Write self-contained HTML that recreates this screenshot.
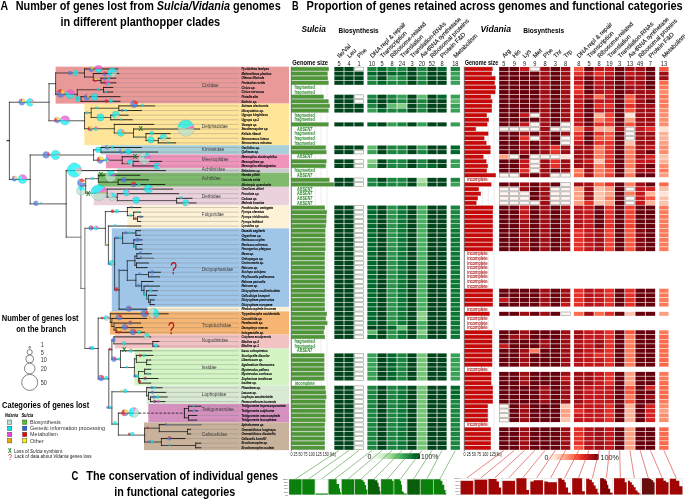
<!DOCTYPE html><html><head><meta charset="utf-8"><title>Figure</title>
<style>html,body{margin:0;padding:0;background:#fff;}svg{display:block;will-change:transform;}text{font-family:"Liberation Sans",sans-serif;}</style></head><body>
<svg width="685" height="500" viewBox="0 0 685 500">
<rect x="0" y="0" width="685" height="500" fill="#fff"/>
<g>
<text x="0.5" y="10.4" font-size="12.4" font-weight="bold" font-style="normal" fill="#000" text-anchor="start" textLength="7.6" lengthAdjust="spacingAndGlyphs" >A</text>
<text x="15.7" y="10.4" font-size="12.4" font-weight="bold" textLength="265" lengthAdjust="spacingAndGlyphs">Number of genes lost from <tspan font-style="italic">Sulcia/Vidania</tspan> genomes</text>
<text x="60.5" y="25.6" font-size="12.4" font-weight="bold" font-style="normal" fill="#000" text-anchor="start" textLength="159.7" lengthAdjust="spacingAndGlyphs" >in different planthopper clades</text>
<text x="292" y="10.1" font-size="12.4" font-weight="bold" font-style="normal" fill="#000" text-anchor="start" textLength="6.6" lengthAdjust="spacingAndGlyphs" >B</text>
<text x="306.6" y="10.1" font-size="12.4" font-weight="bold" font-style="normal" fill="#000" text-anchor="start" textLength="376.1" lengthAdjust="spacingAndGlyphs" >Proportion of genes retained across genomes and functional categories</text>
<text x="71.6" y="479.5" font-size="12.4" font-weight="bold" font-style="normal" fill="#000" text-anchor="start" textLength="6.8" lengthAdjust="spacingAndGlyphs" >C</text>
<text x="86.3" y="479.5" font-size="12.4" font-weight="bold" font-style="normal" fill="#000" text-anchor="start" textLength="191.7" lengthAdjust="spacingAndGlyphs" >The conservation of individual genes</text>
<text x="114.3" y="496.3" font-size="12.4" font-weight="bold" font-style="normal" fill="#000" text-anchor="start" textLength="120.9" lengthAdjust="spacingAndGlyphs" >in functional categories</text>
<rect x="55.6" y="66.65" width="233.4" height="36.96" fill="#ea9999"/>
<rect x="84.4" y="103.61" width="204.6" height="41.58" fill="#ffe599"/>
<rect x="101" y="145.19" width="188" height="9.24" fill="#a9d0d8"/>
<rect x="106" y="154.43" width="183" height="13.86" fill="#f094bb"/>
<rect x="117.3" y="168.29" width="171.7" height="4.62" fill="#cccccc"/>
<rect x="98.3" y="172.91" width="190.7" height="13.86" fill="#7dba6b"/>
<rect x="93.8" y="186.77" width="195.2" height="18.48" fill="#ead1dc"/>
<rect x="127.5" y="205.25" width="161.5" height="23.1" fill="#fdf2d6"/>
<rect x="111.8" y="228.35" width="177.2" height="78.54" fill="#9fc5e8"/>
<rect x="111.8" y="306.89" width="177.2" height="4.62" fill="#9fc5e8"/>
<rect x="147.1" y="306.89" width="141.9" height="4.62" fill="#fdf2d6"/>
<rect x="109.9" y="311.51" width="179.1" height="23.1" fill="#f6b572"/>
<rect x="114.6" y="334.61" width="174.4" height="13.86" fill="#f3c3c3"/>
<rect x="134.4" y="348.47" width="154.6" height="36.96" fill="#d3f5c3"/>
<rect x="146.6" y="385.43" width="142.4" height="18.48" fill="#d9ead3"/>
<rect x="148.3" y="403.91" width="140.7" height="18.48" fill="#d490be"/>
<rect x="144" y="422.39" width="145" height="27.72" fill="#c9b29c"/>
<g id="TIPGUIDES"></g>
<text x="201.8" y="87.3" font-size="6.1" font-weight="normal" font-style="normal" fill="#383838" text-anchor="start" textLength="16.71" lengthAdjust="spacingAndGlyphs" >Cixiidae</text>
<text x="201.8" y="128.1" font-size="6.1" font-weight="normal" font-style="normal" fill="#383838" text-anchor="start" textLength="26.11" lengthAdjust="spacingAndGlyphs" >Delphacidae</text>
<text x="201.8" y="150.7" font-size="6.1" font-weight="normal" font-style="normal" fill="#383838" text-anchor="start" textLength="22.46" lengthAdjust="spacingAndGlyphs" >Kinnaridae</text>
<text x="201.8" y="161.1" font-size="6.1" font-weight="normal" font-style="normal" fill="#383838" text-anchor="start" textLength="26.9" lengthAdjust="spacingAndGlyphs" >Meenoplidae</text>
<text x="201.8" y="171.1" font-size="6.1" font-weight="normal" font-style="normal" fill="#383838" text-anchor="start" textLength="23.5" lengthAdjust="spacingAndGlyphs" >Achilixiidae</text>
<text x="201.8" y="180.3" font-size="6.1" font-weight="normal" font-style="normal" fill="#383838" text-anchor="start" textLength="19.06" lengthAdjust="spacingAndGlyphs" >Achilidae</text>
<text x="201.8" y="198.1" font-size="6.1" font-weight="normal" font-style="normal" fill="#383838" text-anchor="start" textLength="19.06" lengthAdjust="spacingAndGlyphs" >Derbidae</text>
<text x="201.8" y="216.3" font-size="6.1" font-weight="normal" font-style="normal" fill="#383838" text-anchor="start" textLength="22.19" lengthAdjust="spacingAndGlyphs" >Fulgoridae</text>
<text x="201.8" y="271.1" font-size="6.1" font-weight="normal" font-style="normal" fill="#383838" text-anchor="start" textLength="31.33" lengthAdjust="spacingAndGlyphs" >Dictyopharidae</text>
<text x="201.8" y="327.1" font-size="6.1" font-weight="normal" font-style="normal" fill="#383838" text-anchor="start" textLength="29.59" lengthAdjust="spacingAndGlyphs" >Tropiduchidae</text>
<text x="201.8" y="342.3" font-size="6.1" font-weight="normal" font-style="normal" fill="#383838" text-anchor="start" textLength="26.38" lengthAdjust="spacingAndGlyphs" >Nogodinidae</text>
<text x="201.8" y="369.1" font-size="6.1" font-weight="normal" font-style="normal" fill="#383838" text-anchor="start" textLength="14.88" lengthAdjust="spacingAndGlyphs" >Issidae</text>
<text x="201.8" y="395.9" font-size="6.1" font-weight="normal" font-style="normal" fill="#383838" text-anchor="start" textLength="24.55" lengthAdjust="spacingAndGlyphs" >Lophopidae</text>
<text x="201.8" y="411.1" font-size="6.1" font-weight="normal" font-style="normal" fill="#383838" text-anchor="start" textLength="32.11" lengthAdjust="spacingAndGlyphs" >Tettigometridae</text>
<text x="201.8" y="435.9" font-size="6.1" font-weight="normal" font-style="normal" fill="#383838" text-anchor="start" textLength="25.33" lengthAdjust="spacingAndGlyphs" >Caliscelidae</text>
<text x="241.4" y="70.21" font-size="3.7" font-weight="bold" font-style="italic" fill="#111" text-anchor="start" textLength="27.64" lengthAdjust="spacingAndGlyphs" stroke="#111" stroke-width="0.1">Pyxidothes lamipes</text>
<text x="241.4" y="74.83" font-size="3.7" font-weight="bold" font-style="italic" fill="#111" text-anchor="start" textLength="30.1" lengthAdjust="spacingAndGlyphs" stroke="#111" stroke-width="0.1">Melanoliarus placitus</text>
<text x="241.4" y="79.45" font-size="3.7" font-weight="bold" font-style="italic" fill="#111" text-anchor="start" textLength="22.87" lengthAdjust="spacingAndGlyphs" stroke="#111" stroke-width="0.1">Oliarus filicicola</text>
<text x="241.4" y="84.07" font-size="3.7" font-weight="bold" font-style="italic" fill="#111" text-anchor="start" textLength="23.52" lengthAdjust="spacingAndGlyphs" stroke="#111" stroke-width="0.1">Pentastira rorida</text>
<text x="241.4" y="88.69" font-size="3.7" font-weight="bold" font-style="italic" fill="#111" text-anchor="start" textLength="13.98" lengthAdjust="spacingAndGlyphs" stroke="#111" stroke-width="0.1">Cixius sp.</text>
<text x="241.4" y="93.31" font-size="3.7" font-weight="bold" font-style="italic" fill="#111" text-anchor="start" textLength="22.87" lengthAdjust="spacingAndGlyphs" stroke="#111" stroke-width="0.1">Cixius nervosus</text>
<text x="241.4" y="97.93" font-size="3.7" font-weight="bold" font-style="italic" fill="#111" text-anchor="start" textLength="16.45" lengthAdjust="spacingAndGlyphs" stroke="#111" stroke-width="0.1">Pintalia alta</text>
<text x="241.4" y="102.55" font-size="3.7" font-weight="bold" font-style="italic" fill="#111" text-anchor="start" textLength="15.62" lengthAdjust="spacingAndGlyphs" stroke="#111" stroke-width="0.1">Bothrio sp.</text>
<text x="241.4" y="107.17" font-size="3.7" font-weight="bold" font-style="italic" fill="#111" text-anchor="start" textLength="26.99" lengthAdjust="spacingAndGlyphs" stroke="#111" stroke-width="0.1">Asiraca clavicornis</text>
<text x="241.4" y="111.79" font-size="3.7" font-weight="bold" font-style="italic" fill="#111" text-anchor="start" textLength="22.37" lengthAdjust="spacingAndGlyphs" stroke="#111" stroke-width="0.1">Idiosystatus sp.</text>
<text x="241.4" y="116.41" font-size="3.7" font-weight="bold" font-style="italic" fill="#111" text-anchor="start" textLength="26.48" lengthAdjust="spacingAndGlyphs" stroke="#111" stroke-width="0.1">Ugyops kinghtisos</text>
<text x="241.4" y="121.03" font-size="3.7" font-weight="bold" font-style="italic" fill="#111" text-anchor="start" textLength="17.6" lengthAdjust="spacingAndGlyphs" stroke="#111" stroke-width="0.1">Ugyops sp.1</text>
<text x="241.4" y="125.65" font-size="3.7" font-weight="bold" font-style="italic" fill="#111" text-anchor="start" textLength="15.85" lengthAdjust="spacingAndGlyphs" stroke="#111" stroke-width="0.1">Vizcaya sp.</text>
<text x="241.4" y="130.27" font-size="3.7" font-weight="bold" font-style="italic" fill="#111" text-anchor="start" textLength="26.98" lengthAdjust="spacingAndGlyphs" stroke="#111" stroke-width="0.1">Saccharosydne sp.</text>
<text x="241.4" y="134.89" font-size="3.7" font-weight="bold" font-style="italic" fill="#111" text-anchor="start" textLength="19.41" lengthAdjust="spacingAndGlyphs" stroke="#111" stroke-width="0.1">Kelisia ribauti</text>
<text x="241.4" y="139.51" font-size="3.7" font-weight="bold" font-style="italic" fill="#111" text-anchor="start" textLength="27.47" lengthAdjust="spacingAndGlyphs" stroke="#111" stroke-width="0.1">Stenocranus luteus</text>
<text x="241.4" y="144.13" font-size="3.7" font-weight="bold" font-style="italic" fill="#111" text-anchor="start" textLength="30.26" lengthAdjust="spacingAndGlyphs" stroke="#111" stroke-width="0.1">Stenocranus minutus</text>
<text x="241.4" y="148.75" font-size="3.7" font-weight="bold" font-style="italic" fill="#111" text-anchor="start" textLength="18.42" lengthAdjust="spacingAndGlyphs" stroke="#111" stroke-width="0.1">Oeclidius sp.</text>
<text x="241.4" y="153.37" font-size="3.7" font-weight="bold" font-style="italic" fill="#111" text-anchor="start" textLength="17.44" lengthAdjust="spacingAndGlyphs" stroke="#111" stroke-width="0.1">Quilessa sp.</text>
<text x="241.4" y="157.99" font-size="3.7" font-weight="bold" font-style="italic" fill="#111" text-anchor="start" textLength="35.52" lengthAdjust="spacingAndGlyphs" stroke="#111" stroke-width="0.1">Meenoplus skotinophilus</text>
<text x="241.4" y="162.61" font-size="3.7" font-weight="bold" font-style="italic" fill="#111" text-anchor="start" textLength="23.03" lengthAdjust="spacingAndGlyphs" stroke="#111" stroke-width="0.1">Meenoplinae sp.</text>
<text x="241.4" y="167.23" font-size="3.7" font-weight="bold" font-style="italic" fill="#111" text-anchor="start" textLength="34.54" lengthAdjust="spacingAndGlyphs" stroke="#111" stroke-width="0.1">Meenoplus albosignatus</text>
<text x="241.4" y="171.85" font-size="3.7" font-weight="bold" font-style="italic" fill="#111" text-anchor="start" textLength="19.25" lengthAdjust="spacingAndGlyphs" stroke="#111" stroke-width="0.1">Bebaiotes sp.</text>
<text x="241.4" y="176.47" font-size="3.7" font-weight="bold" font-style="italic" fill="#111" text-anchor="start" textLength="18.42" lengthAdjust="spacingAndGlyphs" stroke="#111" stroke-width="0.1">Hamba pildei</text>
<text x="241.4" y="181.09" font-size="3.7" font-weight="bold" font-style="italic" fill="#111" text-anchor="start" textLength="18.75" lengthAdjust="spacingAndGlyphs" stroke="#111" stroke-width="0.1">Catonia arida</text>
<text x="241.4" y="185.71" font-size="3.7" font-weight="bold" font-style="italic" fill="#111" text-anchor="start" textLength="29.44" lengthAdjust="spacingAndGlyphs" stroke="#111" stroke-width="0.1">Akotropis quercicola</text>
<text x="241.4" y="190.33" font-size="3.7" font-weight="bold" font-style="italic" fill="#111" text-anchor="start" textLength="22.37" lengthAdjust="spacingAndGlyphs" stroke="#111" stroke-width="0.1">Omolicna uhleri</text>
<text x="241.4" y="194.95" font-size="3.7" font-weight="bold" font-style="italic" fill="#111" text-anchor="start" textLength="17.93" lengthAdjust="spacingAndGlyphs" stroke="#111" stroke-width="0.1">Proutista sp.</text>
<text x="241.4" y="199.57" font-size="3.7" font-weight="bold" font-style="italic" fill="#111" text-anchor="start" textLength="15.79" lengthAdjust="spacingAndGlyphs" stroke="#111" stroke-width="0.1">Cedusa sp.</text>
<text x="241.4" y="204.19" font-size="3.7" font-weight="bold" font-style="italic" fill="#111" text-anchor="start" textLength="22.87" lengthAdjust="spacingAndGlyphs" stroke="#111" stroke-width="0.1">Malenia bosnica</text>
<text x="241.4" y="208.81" font-size="3.7" font-weight="bold" font-style="italic" fill="#111" text-anchor="start" textLength="31.42" lengthAdjust="spacingAndGlyphs" stroke="#111" stroke-width="0.1">Penthicodes variegata</text>
<text x="241.4" y="213.43" font-size="3.7" font-weight="bold" font-style="italic" fill="#111" text-anchor="start" textLength="22.71" lengthAdjust="spacingAndGlyphs" stroke="#111" stroke-width="0.1">Pyrops clavatus</text>
<text x="241.4" y="218.05" font-size="3.7" font-weight="bold" font-style="italic" fill="#111" text-anchor="start" textLength="27.14" lengthAdjust="spacingAndGlyphs" stroke="#111" stroke-width="0.1">Pyrops viridirostris</text>
<text x="241.4" y="222.67" font-size="3.7" font-weight="bold" font-style="italic" fill="#111" text-anchor="start" textLength="21.71" lengthAdjust="spacingAndGlyphs" stroke="#111" stroke-width="0.1">Pyrops lathburi</text>
<text x="241.4" y="227.29" font-size="3.7" font-weight="bold" font-style="italic" fill="#111" text-anchor="start" textLength="17.93" lengthAdjust="spacingAndGlyphs" stroke="#111" stroke-width="0.1">Lyncides sp.</text>
<text x="241.4" y="231.91" font-size="3.7" font-weight="bold" font-style="italic" fill="#111" text-anchor="start" textLength="23.53" lengthAdjust="spacingAndGlyphs" stroke="#111" stroke-width="0.1">Dasada sagitaria</text>
<text x="241.4" y="236.53" font-size="3.7" font-weight="bold" font-style="italic" fill="#111" text-anchor="start" textLength="19.9" lengthAdjust="spacingAndGlyphs" stroke="#111" stroke-width="0.1">Orgeriinae sp.</text>
<text x="241.4" y="241.15" font-size="3.7" font-weight="bold" font-style="italic" fill="#111" text-anchor="start" textLength="23.36" lengthAdjust="spacingAndGlyphs" stroke="#111" stroke-width="0.1">Ranissus scytha</text>
<text x="241.4" y="245.77" font-size="3.7" font-weight="bold" font-style="italic" fill="#111" text-anchor="start" textLength="26.32" lengthAdjust="spacingAndGlyphs" stroke="#111" stroke-width="0.1">Ranissus edirneus</text>
<text x="241.4" y="250.39" font-size="3.7" font-weight="bold" font-style="italic" fill="#111" text-anchor="start" textLength="29.61" lengthAdjust="spacingAndGlyphs" stroke="#111" stroke-width="0.1">Parorgerius platypus</text>
<text x="241.4" y="255.01" font-size="3.7" font-weight="bold" font-style="italic" fill="#111" text-anchor="start" textLength="12.5" lengthAdjust="spacingAndGlyphs" stroke="#111" stroke-width="0.1">Mesa sp.</text>
<text x="241.4" y="259.63" font-size="3.7" font-weight="bold" font-style="italic" fill="#111" text-anchor="start" textLength="21.87" lengthAdjust="spacingAndGlyphs" stroke="#111" stroke-width="0.1">Orthopagus sp.</text>
<text x="241.4" y="264.25" font-size="3.7" font-weight="bold" font-style="italic" fill="#111" text-anchor="start" textLength="22.54" lengthAdjust="spacingAndGlyphs" stroke="#111" stroke-width="0.1">Centromeria sp.</text>
<text x="241.4" y="268.87" font-size="3.7" font-weight="bold" font-style="italic" fill="#111" text-anchor="start" textLength="16.61" lengthAdjust="spacingAndGlyphs" stroke="#111" stroke-width="0.1">Raivuna sp.</text>
<text x="241.4" y="273.49" font-size="3.7" font-weight="bold" font-style="italic" fill="#111" text-anchor="start" textLength="24.18" lengthAdjust="spacingAndGlyphs" stroke="#111" stroke-width="0.1">Scolops sulcipes</text>
<text x="241.4" y="278.11" font-size="3.7" font-weight="bold" font-style="italic" fill="#111" text-anchor="start" textLength="33.07" lengthAdjust="spacingAndGlyphs" stroke="#111" stroke-width="0.1">Phylloscelis pallescens</text>
<text x="241.4" y="282.73" font-size="3.7" font-weight="bold" font-style="italic" fill="#111" text-anchor="start" textLength="24.01" lengthAdjust="spacingAndGlyphs" stroke="#111" stroke-width="0.1">Rahona patruelis</text>
<text x="241.4" y="287.35" font-size="3.7" font-weight="bold" font-style="italic" fill="#111" text-anchor="start" textLength="16.61" lengthAdjust="spacingAndGlyphs" stroke="#111" stroke-width="0.1">Raivuna sp.</text>
<text x="241.4" y="291.97" font-size="3.7" font-weight="bold" font-style="italic" fill="#111" text-anchor="start" textLength="38.16" lengthAdjust="spacingAndGlyphs" stroke="#111" stroke-width="0.1">Dictyophara multireticulata</text>
<text x="241.4" y="296.59" font-size="3.7" font-weight="bold" font-style="italic" fill="#111" text-anchor="start" textLength="28.3" lengthAdjust="spacingAndGlyphs" stroke="#111" stroke-width="0.1">Callodictya krueperi</text>
<text x="241.4" y="301.21" font-size="3.7" font-weight="bold" font-style="italic" fill="#111" text-anchor="start" textLength="32.73" lengthAdjust="spacingAndGlyphs" stroke="#111" stroke-width="0.1">Dictyophara pannonica</text>
<text x="241.4" y="305.83" font-size="3.7" font-weight="bold" font-style="italic" fill="#111" text-anchor="start" textLength="31.09" lengthAdjust="spacingAndGlyphs" stroke="#111" stroke-width="0.1">Dictyophara europaea</text>
<text x="241.4" y="310.45" font-size="3.7" font-weight="bold" font-style="italic" fill="#111" text-anchor="start" textLength="34.54" lengthAdjust="spacingAndGlyphs" stroke="#111" stroke-width="0.1">Rhabdocephala brunnea</text>
<text x="241.4" y="315.07" font-size="3.7" font-weight="bold" font-style="italic" fill="#111" text-anchor="start" textLength="38.6" lengthAdjust="spacingAndGlyphs" stroke="#111" stroke-width="0.1">Trypetimorpha occidentalis</text>
<text x="241.4" y="319.69" font-size="3.7" font-weight="bold" font-style="italic" fill="#111" text-anchor="start" textLength="21.05" lengthAdjust="spacingAndGlyphs" stroke="#111" stroke-width="0.1">Connelicita sp.</text>
<text x="241.4" y="324.31" font-size="3.7" font-weight="bold" font-style="italic" fill="#111" text-anchor="start" textLength="21.72" lengthAdjust="spacingAndGlyphs" stroke="#111" stroke-width="0.1">Paralasonia sp.</text>
<text x="241.4" y="328.93" font-size="3.7" font-weight="bold" font-style="italic" fill="#111" text-anchor="start" textLength="26.32" lengthAdjust="spacingAndGlyphs" stroke="#111" stroke-width="0.1">Danepteryx manca</text>
<text x="241.4" y="333.55" font-size="3.7" font-weight="bold" font-style="italic" fill="#111" text-anchor="start" textLength="22.53" lengthAdjust="spacingAndGlyphs" stroke="#111" stroke-width="0.1">Indogaetulia sp.</text>
<text x="241.4" y="338.17" font-size="3.7" font-weight="bold" font-style="italic" fill="#111" text-anchor="start" textLength="29.77" lengthAdjust="spacingAndGlyphs" stroke="#111" stroke-width="0.1">Cotylana acutipennis</text>
<text x="241.4" y="342.79" font-size="3.7" font-weight="bold" font-style="italic" fill="#111" text-anchor="start" textLength="17.44" lengthAdjust="spacingAndGlyphs" stroke="#111" stroke-width="0.1">Bladina sp.2</text>
<text x="241.4" y="347.41" font-size="3.7" font-weight="bold" font-style="italic" fill="#111" text-anchor="start" textLength="17.44" lengthAdjust="spacingAndGlyphs" stroke="#111" stroke-width="0.1">Bladina sp.1</text>
<text x="241.4" y="352.03" font-size="3.7" font-weight="bold" font-style="italic" fill="#111" text-anchor="start" textLength="26.16" lengthAdjust="spacingAndGlyphs" stroke="#111" stroke-width="0.1">Issus coleoptratus</text>
<text x="241.4" y="356.65" font-size="3.7" font-weight="bold" font-style="italic" fill="#111" text-anchor="start" textLength="28.29" lengthAdjust="spacingAndGlyphs" stroke="#111" stroke-width="0.1">Scorlupella discolor</text>
<text x="241.4" y="361.27" font-size="3.7" font-weight="bold" font-style="italic" fill="#111" text-anchor="start" textLength="21.55" lengthAdjust="spacingAndGlyphs" stroke="#111" stroke-width="0.1">Libanissum sp.</text>
<text x="241.4" y="365.89" font-size="3.7" font-weight="bold" font-style="italic" fill="#111" text-anchor="start" textLength="32.9" lengthAdjust="spacingAndGlyphs" stroke="#111" stroke-width="0.1">Agalmatium flavescens</text>
<text x="241.4" y="370.51" font-size="3.7" font-weight="bold" font-style="italic" fill="#111" text-anchor="start" textLength="27.64" lengthAdjust="spacingAndGlyphs" stroke="#111" stroke-width="0.1">Mycterodus pallens</text>
<text x="241.4" y="375.13" font-size="3.7" font-weight="bold" font-style="italic" fill="#111" text-anchor="start" textLength="30.59" lengthAdjust="spacingAndGlyphs" stroke="#111" stroke-width="0.1">Mycterodus confusus</text>
<text x="241.4" y="379.75" font-size="3.7" font-weight="bold" font-style="italic" fill="#111" text-anchor="start" textLength="30.59" lengthAdjust="spacingAndGlyphs" stroke="#111" stroke-width="0.1">Zopherisca tendinosa</text>
<text x="241.4" y="384.37" font-size="3.7" font-weight="bold" font-style="italic" fill="#111" text-anchor="start" textLength="15.14" lengthAdjust="spacingAndGlyphs" stroke="#111" stroke-width="0.1">Issidae sp.</text>
<text x="241.4" y="388.99" font-size="3.7" font-weight="bold" font-style="italic" fill="#111" text-anchor="start" textLength="19.41" lengthAdjust="spacingAndGlyphs" stroke="#111" stroke-width="0.1">Pitambara sp.</text>
<text x="241.4" y="393.61" font-size="3.7" font-weight="bold" font-style="italic" fill="#111" text-anchor="start" textLength="15.3" lengthAdjust="spacingAndGlyphs" stroke="#111" stroke-width="0.1">Lacusa sp.</text>
<text x="241.4" y="398.23" font-size="3.7" font-weight="bold" font-style="italic" fill="#111" text-anchor="start" textLength="31.25" lengthAdjust="spacingAndGlyphs" stroke="#111" stroke-width="0.1">Lophops saccharicida</text>
<text x="241.4" y="402.85" font-size="3.7" font-weight="bold" font-style="italic" fill="#111" text-anchor="start" textLength="34.88" lengthAdjust="spacingAndGlyphs" stroke="#111" stroke-width="0.1">Paracorethrura iocnemis</text>
<text x="241.4" y="407.47" font-size="3.7" font-weight="bold" font-style="italic" fill="#111" text-anchor="start" textLength="44.14" lengthAdjust="spacingAndGlyphs" stroke="#111" stroke-width="0.1">Tettigometra impressopunctata</text>
<text x="241.4" y="412.09" font-size="3.7" font-weight="bold" font-style="italic" fill="#111" text-anchor="start" textLength="32.78" lengthAdjust="spacingAndGlyphs" stroke="#111" stroke-width="0.1">Tettigometra sulphurea</text>
<text x="241.4" y="416.71" font-size="3.7" font-weight="bold" font-style="italic" fill="#111" text-anchor="start" textLength="38.55" lengthAdjust="spacingAndGlyphs" stroke="#111" stroke-width="0.1">Tettigometra macrocephala</text>
<text x="241.4" y="421.33" font-size="3.7" font-weight="bold" font-style="italic" fill="#111" text-anchor="start" textLength="34.93" lengthAdjust="spacingAndGlyphs" stroke="#111" stroke-width="0.1">Tettigometra leucophaea</text>
<text x="241.4" y="425.95" font-size="3.7" font-weight="bold" font-style="italic" fill="#111" text-anchor="start" textLength="22.86" lengthAdjust="spacingAndGlyphs" stroke="#111" stroke-width="0.1">Aphelonema sp.</text>
<text x="241.4" y="430.57" font-size="3.7" font-weight="bold" font-style="italic" fill="#111" text-anchor="start" textLength="34.54" lengthAdjust="spacingAndGlyphs" stroke="#111" stroke-width="0.1">Ommatidiotus longiceps</text>
<text x="241.4" y="435.19" font-size="3.7" font-weight="bold" font-style="italic" fill="#111" text-anchor="start" textLength="34.21" lengthAdjust="spacingAndGlyphs" stroke="#111" stroke-width="0.1">Ommatidiotus dissimilis</text>
<text x="241.4" y="439.81" font-size="3.7" font-weight="bold" font-style="italic" fill="#111" text-anchor="start" textLength="24.84" lengthAdjust="spacingAndGlyphs" stroke="#111" stroke-width="0.1">Caliscelis bonellii</text>
<text x="241.4" y="444.43" font-size="3.7" font-weight="bold" font-style="italic" fill="#111" text-anchor="start" textLength="26.31" lengthAdjust="spacingAndGlyphs" stroke="#111" stroke-width="0.1">Bruchomorpha sp.</text>
<text x="241.4" y="449.05" font-size="3.7" font-weight="bold" font-style="italic" fill="#111" text-anchor="start" textLength="32.4" lengthAdjust="spacingAndGlyphs" stroke="#111" stroke-width="0.1">Bruchomorpha oculata</text>
<g stroke-linecap="square" fill="none">
<line x1="117.8" y1="68.96" x2="238.2" y2="68.96" stroke="#808080" stroke-width="0.36"/>
<line x1="118.8" y1="73.58" x2="238.2" y2="73.58" stroke="#808080" stroke-width="0.36"/>
<line x1="115.8" y1="78.2" x2="238.2" y2="78.2" stroke="#808080" stroke-width="0.36"/>
<line x1="115.8" y1="82.82" x2="238.2" y2="82.82" stroke="#808080" stroke-width="0.36"/>
<line x1="112.7" y1="87.44" x2="238.2" y2="87.44" stroke="#808080" stroke-width="0.36"/>
<line x1="112.7" y1="92.06" x2="238.2" y2="92.06" stroke="#808080" stroke-width="0.36"/>
<line x1="119.9" y1="96.68" x2="238.2" y2="96.68" stroke="#808080" stroke-width="0.36"/>
<line x1="119.9" y1="101.3" x2="238.2" y2="101.3" stroke="#808080" stroke-width="0.36"/>
<line x1="154.6" y1="105.92" x2="238.2" y2="105.92" stroke="#808080" stroke-width="0.36"/>
<line x1="141.3" y1="110.54" x2="238.2" y2="110.54" stroke="#808080" stroke-width="0.36"/>
<line x1="128" y1="115.16" x2="238.2" y2="115.16" stroke="#808080" stroke-width="0.36"/>
<line x1="132.1" y1="119.78" x2="238.2" y2="119.78" stroke="#808080" stroke-width="0.36"/>
<line x1="153.6" y1="124.4" x2="238.2" y2="124.4" stroke="#808080" stroke-width="0.36"/>
<line x1="199.6" y1="129.02" x2="238.2" y2="129.02" stroke="#808080" stroke-width="0.36"/>
<line x1="170" y1="133.64" x2="238.2" y2="133.64" stroke="#808080" stroke-width="0.36"/>
<line x1="170" y1="138.26" x2="238.2" y2="138.26" stroke="#808080" stroke-width="0.36"/>
<line x1="175.6" y1="142.88" x2="238.2" y2="142.88" stroke="#808080" stroke-width="0.36"/>
<line x1="141.2" y1="147.5" x2="238.2" y2="147.5" stroke="#808080" stroke-width="0.36"/>
<line x1="157.6" y1="152.12" x2="238.2" y2="152.12" stroke="#808080" stroke-width="0.36"/>
<line x1="145.3" y1="156.74" x2="238.2" y2="156.74" stroke="#808080" stroke-width="0.36"/>
<line x1="161.6" y1="161.36" x2="238.2" y2="161.36" stroke="#808080" stroke-width="0.36"/>
<line x1="157.5" y1="165.98" x2="238.2" y2="165.98" stroke="#808080" stroke-width="0.36"/>
<line x1="165.4" y1="170.6" x2="238.2" y2="170.6" stroke="#808080" stroke-width="0.36"/>
<line x1="139.8" y1="175.22" x2="238.2" y2="175.22" stroke="#808080" stroke-width="0.36"/>
<line x1="148.4" y1="179.84" x2="238.2" y2="179.84" stroke="#808080" stroke-width="0.36"/>
<line x1="164.7" y1="184.46" x2="238.2" y2="184.46" stroke="#808080" stroke-width="0.36"/>
<line x1="172.5" y1="189.08" x2="238.2" y2="189.08" stroke="#808080" stroke-width="0.36"/>
<line x1="178.6" y1="193.7" x2="238.2" y2="193.7" stroke="#808080" stroke-width="0.36"/>
<line x1="191.9" y1="198.32" x2="238.2" y2="198.32" stroke="#808080" stroke-width="0.36"/>
<line x1="196" y1="202.94" x2="238.2" y2="202.94" stroke="#808080" stroke-width="0.36"/>
<line x1="140.7" y1="207.56" x2="238.2" y2="207.56" stroke="#808080" stroke-width="0.36"/>
<line x1="140.5" y1="212.18" x2="238.2" y2="212.18" stroke="#808080" stroke-width="0.36"/>
<line x1="142.8" y1="216.8" x2="238.2" y2="216.8" stroke="#808080" stroke-width="0.36"/>
<line x1="140.7" y1="221.42" x2="238.2" y2="221.42" stroke="#808080" stroke-width="0.36"/>
<line x1="140.7" y1="226.04" x2="238.2" y2="226.04" stroke="#808080" stroke-width="0.36"/>
<line x1="140.4" y1="230.66" x2="238.2" y2="230.66" stroke="#808080" stroke-width="0.36"/>
<line x1="140.4" y1="235.28" x2="238.2" y2="235.28" stroke="#808080" stroke-width="0.36"/>
<line x1="142" y1="239.9" x2="238.2" y2="239.9" stroke="#808080" stroke-width="0.36"/>
<line x1="142" y1="244.52" x2="238.2" y2="244.52" stroke="#808080" stroke-width="0.36"/>
<line x1="142" y1="249.14" x2="238.2" y2="249.14" stroke="#808080" stroke-width="0.36"/>
<line x1="151.2" y1="253.76" x2="238.2" y2="253.76" stroke="#808080" stroke-width="0.36"/>
<line x1="153.2" y1="258.38" x2="238.2" y2="258.38" stroke="#808080" stroke-width="0.36"/>
<line x1="148.5" y1="263" x2="238.2" y2="263" stroke="#808080" stroke-width="0.36"/>
<line x1="147.1" y1="267.62" x2="238.2" y2="267.62" stroke="#808080" stroke-width="0.36"/>
<line x1="160.4" y1="272.24" x2="238.2" y2="272.24" stroke="#808080" stroke-width="0.36"/>
<line x1="159.4" y1="276.86" x2="238.2" y2="276.86" stroke="#808080" stroke-width="0.36"/>
<line x1="153.2" y1="281.48" x2="238.2" y2="281.48" stroke="#808080" stroke-width="0.36"/>
<line x1="159.4" y1="286.1" x2="238.2" y2="286.1" stroke="#808080" stroke-width="0.36"/>
<line x1="157.3" y1="290.72" x2="238.2" y2="290.72" stroke="#808080" stroke-width="0.36"/>
<line x1="156.3" y1="295.34" x2="238.2" y2="295.34" stroke="#808080" stroke-width="0.36"/>
<line x1="154.3" y1="299.96" x2="238.2" y2="299.96" stroke="#808080" stroke-width="0.36"/>
<line x1="154.3" y1="304.58" x2="238.2" y2="304.58" stroke="#808080" stroke-width="0.36"/>
<line x1="147.1" y1="309.2" x2="238.2" y2="309.2" stroke="#808080" stroke-width="0.36"/>
<line x1="168.1" y1="313.82" x2="238.2" y2="313.82" stroke="#808080" stroke-width="0.36"/>
<line x1="146.6" y1="318.44" x2="238.2" y2="318.44" stroke="#808080" stroke-width="0.36"/>
<line x1="140.5" y1="323.06" x2="238.2" y2="323.06" stroke="#808080" stroke-width="0.36"/>
<line x1="142.6" y1="327.68" x2="238.2" y2="327.68" stroke="#808080" stroke-width="0.36"/>
<line x1="144.6" y1="332.3" x2="238.2" y2="332.3" stroke="#808080" stroke-width="0.36"/>
<line x1="150.7" y1="336.92" x2="238.2" y2="336.92" stroke="#808080" stroke-width="0.36"/>
<line x1="158.9" y1="341.54" x2="238.2" y2="341.54" stroke="#808080" stroke-width="0.36"/>
<line x1="158.9" y1="346.16" x2="238.2" y2="346.16" stroke="#808080" stroke-width="0.36"/>
<line x1="151.8" y1="350.78" x2="238.2" y2="350.78" stroke="#808080" stroke-width="0.36"/>
<line x1="152.8" y1="355.4" x2="238.2" y2="355.4" stroke="#808080" stroke-width="0.36"/>
<line x1="150.7" y1="360.02" x2="238.2" y2="360.02" stroke="#808080" stroke-width="0.36"/>
<line x1="150.7" y1="364.64" x2="238.2" y2="364.64" stroke="#808080" stroke-width="0.36"/>
<line x1="150.7" y1="369.26" x2="238.2" y2="369.26" stroke="#808080" stroke-width="0.36"/>
<line x1="150.7" y1="373.88" x2="238.2" y2="373.88" stroke="#808080" stroke-width="0.36"/>
<line x1="157.9" y1="378.5" x2="238.2" y2="378.5" stroke="#808080" stroke-width="0.36"/>
<line x1="150.7" y1="383.12" x2="238.2" y2="383.12" stroke="#808080" stroke-width="0.36"/>
<line x1="162" y1="387.74" x2="238.2" y2="387.74" stroke="#808080" stroke-width="0.36"/>
<line x1="165.6" y1="392.36" x2="238.2" y2="392.36" stroke="#808080" stroke-width="0.36"/>
<line x1="167.1" y1="396.98" x2="238.2" y2="396.98" stroke="#808080" stroke-width="0.36"/>
<line x1="165" y1="401.6" x2="238.2" y2="401.6" stroke="#808080" stroke-width="0.36"/>
<line x1="200.8" y1="406.22" x2="238.2" y2="406.22" stroke="#808080" stroke-width="0.36"/>
<line x1="197.7" y1="410.84" x2="238.2" y2="410.84" stroke="#808080" stroke-width="0.36"/>
<line x1="196.7" y1="415.46" x2="238.2" y2="415.46" stroke="#808080" stroke-width="0.36"/>
<line x1="196.7" y1="420.08" x2="238.2" y2="420.08" stroke="#808080" stroke-width="0.36"/>
<line x1="200.8" y1="424.7" x2="238.2" y2="424.7" stroke="#808080" stroke-width="0.36"/>
<line x1="190.6" y1="429.32" x2="238.2" y2="429.32" stroke="#808080" stroke-width="0.36"/>
<line x1="190.6" y1="433.94" x2="238.2" y2="433.94" stroke="#808080" stroke-width="0.36"/>
<line x1="185" y1="438.56" x2="238.2" y2="438.56" stroke="#808080" stroke-width="0.36"/>
<line x1="200.8" y1="443.18" x2="238.2" y2="443.18" stroke="#808080" stroke-width="0.36"/>
<line x1="200.8" y1="447.8" x2="238.2" y2="447.8" stroke="#808080" stroke-width="0.36"/>
<line x1="84.5" y1="68.96" x2="117.8" y2="68.96" stroke="#111" stroke-width="0.9"/>
<line x1="93.3" y1="73.58" x2="118.8" y2="73.58" stroke="#111" stroke-width="0.9"/>
<line x1="101" y1="78.2" x2="115.8" y2="78.2" stroke="#111" stroke-width="0.9"/>
<line x1="101" y1="82.82" x2="115.8" y2="82.82" stroke="#111" stroke-width="0.9"/>
<line x1="101" y1="78.2" x2="101" y2="82.82" stroke="#111" stroke-width="0.7"/>
<line x1="93.3" y1="80.51" x2="101" y2="80.51" stroke="#111" stroke-width="0.7"/>
<line x1="93.3" y1="73.58" x2="93.3" y2="80.51" stroke="#111" stroke-width="0.7"/>
<line x1="84.5" y1="77.05" x2="93.3" y2="77.05" stroke="#111" stroke-width="0.7"/>
<line x1="84.5" y1="68.96" x2="84.5" y2="77.05" stroke="#111" stroke-width="0.7"/>
<line x1="55.6" y1="73" x2="84.5" y2="73" stroke="#111" stroke-width="0.7"/>
<line x1="103.5" y1="87.44" x2="112.7" y2="87.44" stroke="#111" stroke-width="0.9"/>
<line x1="103.5" y1="92.06" x2="112.7" y2="92.06" stroke="#111" stroke-width="0.9"/>
<line x1="103.5" y1="87.44" x2="103.5" y2="92.06" stroke="#111" stroke-width="0.7"/>
<line x1="77.3" y1="89.75" x2="103.5" y2="89.75" stroke="#111" stroke-width="0.7"/>
<line x1="81" y1="96.68" x2="119.9" y2="96.68" stroke="#111" stroke-width="0.9"/>
<line x1="81" y1="101.3" x2="119.9" y2="101.3" stroke="#111" stroke-width="0.9"/>
<line x1="81" y1="96.68" x2="81" y2="101.3" stroke="#111" stroke-width="0.7"/>
<line x1="77.3" y1="98.99" x2="81" y2="98.99" stroke="#111" stroke-width="0.7"/>
<line x1="77.3" y1="89.75" x2="77.3" y2="98.99" stroke="#111" stroke-width="0.7"/>
<line x1="55.6" y1="94.37" x2="77.3" y2="94.37" stroke="#111" stroke-width="0.7"/>
<line x1="55.6" y1="73" x2="55.6" y2="94.37" stroke="#111" stroke-width="0.7"/>
<line x1="49" y1="83.69" x2="55.6" y2="83.69" stroke="#111" stroke-width="0.7"/>
<line x1="118.8" y1="105.92" x2="154.6" y2="105.92" stroke="#111" stroke-width="0.9"/>
<line x1="118.8" y1="110.54" x2="141.3" y2="110.54" stroke="#111" stroke-width="0.9"/>
<line x1="118.8" y1="105.92" x2="118.8" y2="110.54" stroke="#111" stroke-width="0.7"/>
<line x1="91.2" y1="108.23" x2="118.8" y2="108.23" stroke="#111" stroke-width="0.7"/>
<line x1="110.7" y1="115.16" x2="128" y2="115.16" stroke="#111" stroke-width="0.9"/>
<line x1="110.7" y1="119.78" x2="132.1" y2="119.78" stroke="#111" stroke-width="0.9"/>
<line x1="110.7" y1="115.16" x2="110.7" y2="119.78" stroke="#111" stroke-width="0.7"/>
<line x1="91.2" y1="117.47" x2="110.7" y2="117.47" stroke="#111" stroke-width="0.7"/>
<line x1="91.2" y1="108.23" x2="91.2" y2="117.47" stroke="#111" stroke-width="0.7"/>
<line x1="84.5" y1="112.85" x2="91.2" y2="112.85" stroke="#111" stroke-width="0.7"/>
<line x1="114.3" y1="124.4" x2="153.6" y2="124.4" stroke="#111" stroke-width="0.9"/>
<line x1="133.5" y1="129.02" x2="199.6" y2="129.02" stroke="#111" stroke-width="0.9"/>
<line x1="146" y1="133.64" x2="170" y2="133.64" stroke="#111" stroke-width="0.9"/>
<line x1="158.3" y1="138.26" x2="170" y2="138.26" stroke="#111" stroke-width="0.9"/>
<line x1="158.3" y1="142.88" x2="175.6" y2="142.88" stroke="#111" stroke-width="0.9"/>
<line x1="158.3" y1="138.26" x2="158.3" y2="142.88" stroke="#111" stroke-width="0.7"/>
<line x1="146" y1="140.57" x2="158.3" y2="140.57" stroke="#111" stroke-width="0.7"/>
<line x1="146" y1="133.64" x2="146" y2="140.57" stroke="#111" stroke-width="0.7"/>
<line x1="133.5" y1="137.1" x2="146" y2="137.1" stroke="#111" stroke-width="0.7"/>
<line x1="133.5" y1="129.02" x2="133.5" y2="137.1" stroke="#111" stroke-width="0.7"/>
<line x1="114.3" y1="133.06" x2="133.5" y2="133.06" stroke="#111" stroke-width="0.7"/>
<line x1="114.3" y1="124.4" x2="114.3" y2="133.06" stroke="#111" stroke-width="0.7"/>
<line x1="84.5" y1="128.73" x2="114.3" y2="128.73" stroke="#111" stroke-width="0.7"/>
<line x1="84.5" y1="112.85" x2="84.5" y2="128.73" stroke="#111" stroke-width="0.7"/>
<line x1="49" y1="120.79" x2="84.5" y2="120.79" stroke="#111" stroke-width="0.7"/>
<line x1="49" y1="83.69" x2="49" y2="120.79" stroke="#111" stroke-width="0.7"/>
<line x1="9.4" y1="102.24" x2="49" y2="102.24" stroke="#111" stroke-width="0.7"/>
<line x1="100.7" y1="147.5" x2="141.2" y2="147.5" stroke="#111" stroke-width="0.9"/>
<line x1="100.7" y1="152.12" x2="157.6" y2="152.12" stroke="#111" stroke-width="0.9"/>
<line x1="100.7" y1="147.5" x2="100.7" y2="152.12" stroke="#111" stroke-width="0.7"/>
<line x1="93.6" y1="149.81" x2="100.7" y2="149.81" stroke="#111" stroke-width="0.7"/>
<line x1="122.2" y1="156.74" x2="145.3" y2="156.74" stroke="#111" stroke-width="0.9"/>
<line x1="133" y1="161.36" x2="161.6" y2="161.36" stroke="#111" stroke-width="0.9"/>
<line x1="133" y1="165.98" x2="157.5" y2="165.98" stroke="#111" stroke-width="0.9"/>
<line x1="133" y1="161.36" x2="133" y2="165.98" stroke="#111" stroke-width="0.7"/>
<line x1="122.2" y1="163.67" x2="133" y2="163.67" stroke="#111" stroke-width="0.7"/>
<line x1="122.2" y1="156.74" x2="122.2" y2="163.67" stroke="#111" stroke-width="0.7"/>
<line x1="93.6" y1="160.21" x2="122.2" y2="160.21" stroke="#111" stroke-width="0.7"/>
<line x1="93.6" y1="149.81" x2="93.6" y2="160.21" stroke="#111" stroke-width="0.7"/>
<line x1="30.2" y1="155.01" x2="93.6" y2="155.01" stroke="#111" stroke-width="0.7"/>
<line x1="66.2" y1="170.6" x2="165.4" y2="170.6" stroke="#111" stroke-width="0.9"/>
<line x1="98.3" y1="175.22" x2="139.8" y2="175.22" stroke="#111" stroke-width="0.9"/>
<line x1="118.1" y1="179.84" x2="148.4" y2="179.84" stroke="#111" stroke-width="0.9"/>
<line x1="118.1" y1="184.46" x2="164.7" y2="184.46" stroke="#111" stroke-width="0.9"/>
<line x1="118.1" y1="179.84" x2="118.1" y2="184.46" stroke="#111" stroke-width="0.7"/>
<line x1="98.3" y1="182.15" x2="118.1" y2="182.15" stroke="#111" stroke-width="0.7"/>
<line x1="98.3" y1="175.22" x2="98.3" y2="182.15" stroke="#111" stroke-width="0.7"/>
<line x1="85.7" y1="178.69" x2="98.3" y2="178.69" stroke="#111" stroke-width="0.7"/>
<line x1="107.1" y1="189.08" x2="172.5" y2="189.08" stroke="#111" stroke-width="0.9"/>
<line x1="117.3" y1="193.7" x2="178.6" y2="193.7" stroke="#111" stroke-width="0.9"/>
<line x1="176.6" y1="198.32" x2="191.9" y2="198.32" stroke="#111" stroke-width="0.9"/>
<line x1="176.6" y1="202.94" x2="196" y2="202.94" stroke="#111" stroke-width="0.9"/>
<line x1="176.6" y1="198.32" x2="176.6" y2="202.94" stroke="#111" stroke-width="0.7"/>
<line x1="117.3" y1="200.63" x2="176.6" y2="200.63" stroke="#111" stroke-width="0.7"/>
<line x1="117.3" y1="193.7" x2="117.3" y2="200.63" stroke="#111" stroke-width="0.7"/>
<line x1="107.1" y1="197.16" x2="117.3" y2="197.16" stroke="#111" stroke-width="0.7"/>
<line x1="107.1" y1="189.08" x2="107.1" y2="197.16" stroke="#111" stroke-width="0.7"/>
<line x1="85.7" y1="193.12" x2="107.1" y2="193.12" stroke="#111" stroke-width="0.7"/>
<line x1="85.7" y1="178.69" x2="85.7" y2="193.12" stroke="#111" stroke-width="0.7"/>
<line x1="80.9" y1="185.9" x2="85.7" y2="185.9" stroke="#111" stroke-width="0.7"/>
<line x1="127.4" y1="207.56" x2="140.7" y2="207.56" stroke="#111" stroke-width="0.9"/>
<line x1="133.6" y1="212.18" x2="140.5" y2="212.18" stroke="#111" stroke-width="0.9"/>
<line x1="137.5" y1="216.8" x2="142.8" y2="216.8" stroke="#111" stroke-width="0.9"/>
<line x1="137.5" y1="221.42" x2="140.7" y2="221.42" stroke="#111" stroke-width="0.9"/>
<line x1="137.5" y1="216.8" x2="137.5" y2="221.42" stroke="#111" stroke-width="0.7"/>
<line x1="133.6" y1="219.11" x2="137.5" y2="219.11" stroke="#111" stroke-width="0.7"/>
<line x1="133.6" y1="212.18" x2="133.6" y2="219.11" stroke="#111" stroke-width="0.7"/>
<line x1="127.4" y1="215.65" x2="133.6" y2="215.65" stroke="#111" stroke-width="0.7"/>
<line x1="127.4" y1="207.56" x2="127.4" y2="215.65" stroke="#111" stroke-width="0.7"/>
<line x1="105.4" y1="211.6" x2="127.4" y2="211.6" stroke="#111" stroke-width="0.7"/>
<line x1="108.4" y1="226.04" x2="140.7" y2="226.04" stroke="#111" stroke-width="0.9"/>
<line x1="135.9" y1="230.66" x2="140.4" y2="230.66" stroke="#111" stroke-width="0.9"/>
<line x1="135.9" y1="235.28" x2="140.4" y2="235.28" stroke="#111" stroke-width="0.9"/>
<line x1="135.9" y1="230.66" x2="135.9" y2="235.28" stroke="#111" stroke-width="0.7"/>
<line x1="122.6" y1="232.97" x2="135.9" y2="232.97" stroke="#111" stroke-width="0.7"/>
<line x1="133.8" y1="239.9" x2="142" y2="239.9" stroke="#111" stroke-width="0.9"/>
<line x1="135.9" y1="244.52" x2="142" y2="244.52" stroke="#111" stroke-width="0.9"/>
<line x1="135.9" y1="249.14" x2="142" y2="249.14" stroke="#111" stroke-width="0.9"/>
<line x1="135.9" y1="244.52" x2="135.9" y2="249.14" stroke="#111" stroke-width="0.7"/>
<line x1="133.8" y1="246.83" x2="135.9" y2="246.83" stroke="#111" stroke-width="0.7"/>
<line x1="133.8" y1="239.9" x2="133.8" y2="246.83" stroke="#111" stroke-width="0.7"/>
<line x1="122.6" y1="243.37" x2="133.8" y2="243.37" stroke="#111" stroke-width="0.7"/>
<line x1="122.6" y1="232.97" x2="122.6" y2="243.37" stroke="#111" stroke-width="0.7"/>
<line x1="114.6" y1="238.17" x2="122.6" y2="238.17" stroke="#111" stroke-width="0.7"/>
<line x1="136.9" y1="253.76" x2="151.2" y2="253.76" stroke="#111" stroke-width="0.9"/>
<line x1="136.9" y1="258.38" x2="153.2" y2="258.38" stroke="#111" stroke-width="0.9"/>
<line x1="136.9" y1="253.76" x2="136.9" y2="258.38" stroke="#111" stroke-width="0.7"/>
<line x1="134.9" y1="256.07" x2="136.9" y2="256.07" stroke="#111" stroke-width="0.7"/>
<line x1="136.5" y1="263" x2="148.5" y2="263" stroke="#111" stroke-width="0.9"/>
<line x1="136.5" y1="267.62" x2="147.1" y2="267.62" stroke="#111" stroke-width="0.9"/>
<line x1="136.5" y1="263" x2="136.5" y2="267.62" stroke="#111" stroke-width="0.7"/>
<line x1="134.9" y1="265.31" x2="136.5" y2="265.31" stroke="#111" stroke-width="0.7"/>
<line x1="134.9" y1="256.07" x2="134.9" y2="265.31" stroke="#111" stroke-width="0.7"/>
<line x1="127.3" y1="260.69" x2="134.9" y2="260.69" stroke="#111" stroke-width="0.7"/>
<line x1="148.5" y1="272.24" x2="160.4" y2="272.24" stroke="#111" stroke-width="0.9"/>
<line x1="148.5" y1="276.86" x2="159.4" y2="276.86" stroke="#111" stroke-width="0.9"/>
<line x1="148.5" y1="272.24" x2="148.5" y2="276.86" stroke="#111" stroke-width="0.7"/>
<line x1="135.9" y1="274.55" x2="148.5" y2="274.55" stroke="#111" stroke-width="0.7"/>
<line x1="141.6" y1="281.48" x2="153.2" y2="281.48" stroke="#111" stroke-width="0.9"/>
<line x1="144" y1="286.1" x2="159.4" y2="286.1" stroke="#111" stroke-width="0.9"/>
<line x1="146.5" y1="290.72" x2="157.3" y2="290.72" stroke="#111" stroke-width="0.9"/>
<line x1="148.5" y1="295.34" x2="156.3" y2="295.34" stroke="#111" stroke-width="0.9"/>
<line x1="150.2" y1="299.96" x2="154.3" y2="299.96" stroke="#111" stroke-width="0.9"/>
<line x1="150.2" y1="304.58" x2="154.3" y2="304.58" stroke="#111" stroke-width="0.9"/>
<line x1="150.2" y1="299.96" x2="150.2" y2="304.58" stroke="#111" stroke-width="0.7"/>
<line x1="148.5" y1="302.27" x2="150.2" y2="302.27" stroke="#111" stroke-width="0.7"/>
<line x1="148.5" y1="295.34" x2="148.5" y2="302.27" stroke="#111" stroke-width="0.7"/>
<line x1="146.5" y1="298.81" x2="148.5" y2="298.81" stroke="#111" stroke-width="0.7"/>
<line x1="146.5" y1="290.72" x2="146.5" y2="298.81" stroke="#111" stroke-width="0.7"/>
<line x1="144" y1="294.76" x2="146.5" y2="294.76" stroke="#111" stroke-width="0.7"/>
<line x1="144" y1="286.1" x2="144" y2="294.76" stroke="#111" stroke-width="0.7"/>
<line x1="141.6" y1="290.43" x2="144" y2="290.43" stroke="#111" stroke-width="0.7"/>
<line x1="141.6" y1="281.48" x2="141.6" y2="290.43" stroke="#111" stroke-width="0.7"/>
<line x1="135.9" y1="285.96" x2="141.6" y2="285.96" stroke="#111" stroke-width="0.7"/>
<line x1="135.9" y1="274.55" x2="135.9" y2="285.96" stroke="#111" stroke-width="0.7"/>
<line x1="127.3" y1="280.25" x2="135.9" y2="280.25" stroke="#111" stroke-width="0.7"/>
<line x1="127.3" y1="260.69" x2="127.3" y2="280.25" stroke="#111" stroke-width="0.7"/>
<line x1="119.1" y1="270.47" x2="127.3" y2="270.47" stroke="#111" stroke-width="0.7"/>
<line x1="119.1" y1="309.2" x2="147.1" y2="309.2" stroke="#111" stroke-width="0.9"/>
<line x1="119.1" y1="270.47" x2="119.1" y2="309.2" stroke="#111" stroke-width="0.7"/>
<line x1="114.6" y1="289.84" x2="119.1" y2="289.84" stroke="#111" stroke-width="0.7"/>
<line x1="114.6" y1="238.17" x2="114.6" y2="289.84" stroke="#111" stroke-width="0.7"/>
<line x1="108.4" y1="264" x2="114.6" y2="264" stroke="#111" stroke-width="0.7"/>
<line x1="108.4" y1="226.04" x2="108.4" y2="264" stroke="#111" stroke-width="0.7"/>
<line x1="105.4" y1="245.02" x2="108.4" y2="245.02" stroke="#111" stroke-width="0.7"/>
<line x1="105.4" y1="211.6" x2="105.4" y2="245.02" stroke="#111" stroke-width="0.7"/>
<line x1="84.9" y1="228.31" x2="105.4" y2="228.31" stroke="#111" stroke-width="0.7"/>
<line x1="110.3" y1="313.82" x2="168.1" y2="313.82" stroke="#111" stroke-width="0.9"/>
<line x1="111.9" y1="318.44" x2="146.6" y2="318.44" stroke="#111" stroke-width="0.9"/>
<line x1="114" y1="323.06" x2="140.5" y2="323.06" stroke="#111" stroke-width="0.9"/>
<line x1="116" y1="327.68" x2="142.6" y2="327.68" stroke="#111" stroke-width="0.9"/>
<line x1="116" y1="332.3" x2="144.6" y2="332.3" stroke="#111" stroke-width="0.9"/>
<line x1="116" y1="327.68" x2="116" y2="332.3" stroke="#111" stroke-width="0.7"/>
<line x1="114" y1="329.99" x2="116" y2="329.99" stroke="#111" stroke-width="0.7"/>
<line x1="114" y1="323.06" x2="114" y2="329.99" stroke="#111" stroke-width="0.7"/>
<line x1="111.9" y1="326.53" x2="114" y2="326.53" stroke="#111" stroke-width="0.7"/>
<line x1="111.9" y1="318.44" x2="111.9" y2="326.53" stroke="#111" stroke-width="0.7"/>
<line x1="110.3" y1="322.48" x2="111.9" y2="322.48" stroke="#111" stroke-width="0.7"/>
<line x1="110.3" y1="313.82" x2="110.3" y2="322.48" stroke="#111" stroke-width="0.7"/>
<line x1="98.2" y1="318.15" x2="110.3" y2="318.15" stroke="#111" stroke-width="0.7"/>
<line x1="113.9" y1="336.92" x2="150.7" y2="336.92" stroke="#111" stroke-width="0.9"/>
<line x1="152.8" y1="341.54" x2="158.9" y2="341.54" stroke="#111" stroke-width="0.9"/>
<line x1="152.8" y1="346.16" x2="158.9" y2="346.16" stroke="#111" stroke-width="0.9"/>
<line x1="152.8" y1="341.54" x2="152.8" y2="346.16" stroke="#111" stroke-width="0.7"/>
<line x1="113.9" y1="343.85" x2="152.8" y2="343.85" stroke="#111" stroke-width="0.7"/>
<line x1="113.9" y1="336.92" x2="113.9" y2="343.85" stroke="#111" stroke-width="0.7"/>
<line x1="111.9" y1="340.38" x2="113.9" y2="340.38" stroke="#111" stroke-width="0.7"/>
<line x1="120.5" y1="350.78" x2="151.8" y2="350.78" stroke="#111" stroke-width="0.9"/>
<line x1="136.4" y1="355.4" x2="152.8" y2="355.4" stroke="#111" stroke-width="0.9"/>
<line x1="146.6" y1="360.02" x2="150.7" y2="360.02" stroke="#111" stroke-width="0.9"/>
<line x1="146.6" y1="364.64" x2="150.7" y2="364.64" stroke="#111" stroke-width="0.9"/>
<line x1="146.6" y1="360.02" x2="146.6" y2="364.64" stroke="#111" stroke-width="0.7"/>
<line x1="136.4" y1="362.33" x2="146.6" y2="362.33" stroke="#111" stroke-width="0.7"/>
<line x1="136.4" y1="355.4" x2="136.4" y2="362.33" stroke="#111" stroke-width="0.7"/>
<line x1="134.4" y1="358.87" x2="136.4" y2="358.87" stroke="#111" stroke-width="0.7"/>
<line x1="144.6" y1="369.26" x2="150.7" y2="369.26" stroke="#111" stroke-width="0.9"/>
<line x1="144.6" y1="373.88" x2="150.7" y2="373.88" stroke="#111" stroke-width="0.9"/>
<line x1="144.6" y1="369.26" x2="144.6" y2="373.88" stroke="#111" stroke-width="0.7"/>
<line x1="138.5" y1="371.57" x2="144.6" y2="371.57" stroke="#111" stroke-width="0.7"/>
<line x1="139.3" y1="378.5" x2="157.9" y2="378.5" stroke="#111" stroke-width="0.9"/>
<line x1="139.3" y1="383.12" x2="150.7" y2="383.12" stroke="#111" stroke-width="0.9"/>
<line x1="139.3" y1="378.5" x2="139.3" y2="383.12" stroke="#111" stroke-width="0.7"/>
<line x1="138.5" y1="380.81" x2="139.3" y2="380.81" stroke="#111" stroke-width="0.7"/>
<line x1="138.5" y1="371.57" x2="138.5" y2="380.81" stroke="#111" stroke-width="0.7"/>
<line x1="134.4" y1="376.19" x2="138.5" y2="376.19" stroke="#111" stroke-width="0.7"/>
<line x1="134.4" y1="358.87" x2="134.4" y2="376.19" stroke="#111" stroke-width="0.7"/>
<line x1="120.5" y1="367.53" x2="134.4" y2="367.53" stroke="#111" stroke-width="0.7"/>
<line x1="120.5" y1="350.78" x2="120.5" y2="367.53" stroke="#111" stroke-width="0.7"/>
<line x1="111.9" y1="359.15" x2="120.5" y2="359.15" stroke="#111" stroke-width="0.7"/>
<line x1="111.9" y1="340.38" x2="111.9" y2="359.15" stroke="#111" stroke-width="0.7"/>
<line x1="108.8" y1="349.77" x2="111.9" y2="349.77" stroke="#111" stroke-width="0.7"/>
<line x1="146.6" y1="387.74" x2="162" y2="387.74" stroke="#111" stroke-width="0.9"/>
<line x1="148.5" y1="392.36" x2="165.6" y2="392.36" stroke="#111" stroke-width="0.9"/>
<line x1="150.5" y1="396.98" x2="167.1" y2="396.98" stroke="#111" stroke-width="0.9"/>
<line x1="150.5" y1="401.6" x2="165" y2="401.6" stroke="#111" stroke-width="0.9"/>
<line x1="150.5" y1="396.98" x2="150.5" y2="401.6" stroke="#111" stroke-width="0.7"/>
<line x1="148.5" y1="399.29" x2="150.5" y2="399.29" stroke="#111" stroke-width="0.7"/>
<line x1="148.5" y1="392.36" x2="148.5" y2="399.29" stroke="#111" stroke-width="0.7"/>
<line x1="146.6" y1="395.83" x2="148.5" y2="395.83" stroke="#111" stroke-width="0.7"/>
<line x1="146.6" y1="387.74" x2="146.6" y2="395.83" stroke="#111" stroke-width="0.7"/>
<line x1="111.9" y1="391.78" x2="146.6" y2="391.78" stroke="#111" stroke-width="0.7"/>
<line x1="188.5" y1="406.22" x2="200.8" y2="406.22" stroke="#111" stroke-width="0.9"/>
<line x1="188.5" y1="410.84" x2="197.7" y2="410.84" stroke="#111" stroke-width="0.9"/>
<line x1="188.5" y1="406.22" x2="188.5" y2="410.84" stroke="#111" stroke-width="0.7"/>
<line x1="184.4" y1="408.53" x2="188.5" y2="408.53" stroke="#111" stroke-width="0.7"/>
<line x1="188.5" y1="415.46" x2="196.7" y2="415.46" stroke="#111" stroke-width="0.9"/>
<line x1="188.5" y1="420.08" x2="196.7" y2="420.08" stroke="#111" stroke-width="0.9"/>
<line x1="188.5" y1="415.46" x2="188.5" y2="420.08" stroke="#111" stroke-width="0.7"/>
<line x1="184.4" y1="417.77" x2="188.5" y2="417.77" stroke="#111" stroke-width="0.7"/>
<line x1="184.4" y1="408.53" x2="184.4" y2="417.77" stroke="#111" stroke-width="0.9"/>
<line x1="118.4" y1="413.15" x2="138.9" y2="413.15" stroke="#111" stroke-width="0.9"/>
<line x1="138.9" y1="413.15" x2="184.4" y2="413.15" stroke="#111" stroke-width="0.75" stroke-dasharray="2.6,1.5" stroke-linecap="butt"/>
<line x1="159.3" y1="424.7" x2="200.8" y2="424.7" stroke="#111" stroke-width="0.9"/>
<line x1="187.5" y1="429.32" x2="190.6" y2="429.32" stroke="#111" stroke-width="0.9"/>
<line x1="187.5" y1="433.94" x2="190.6" y2="433.94" stroke="#111" stroke-width="0.9"/>
<line x1="187.5" y1="429.32" x2="187.5" y2="433.94" stroke="#111" stroke-width="0.7"/>
<line x1="159.3" y1="431.63" x2="187.5" y2="431.63" stroke="#111" stroke-width="0.7"/>
<line x1="159.3" y1="424.7" x2="159.3" y2="431.63" stroke="#111" stroke-width="0.7"/>
<line x1="144.6" y1="428.17" x2="159.3" y2="428.17" stroke="#111" stroke-width="0.7"/>
<line x1="161.4" y1="438.56" x2="185" y2="438.56" stroke="#111" stroke-width="0.9"/>
<line x1="195.7" y1="443.18" x2="200.8" y2="443.18" stroke="#111" stroke-width="0.9"/>
<line x1="195.7" y1="447.8" x2="200.8" y2="447.8" stroke="#111" stroke-width="0.9"/>
<line x1="195.7" y1="443.18" x2="195.7" y2="447.8" stroke="#111" stroke-width="0.7"/>
<line x1="161.4" y1="445.49" x2="195.7" y2="445.49" stroke="#111" stroke-width="0.7"/>
<line x1="161.4" y1="438.56" x2="161.4" y2="445.49" stroke="#111" stroke-width="0.7"/>
<line x1="144.6" y1="442.03" x2="161.4" y2="442.03" stroke="#111" stroke-width="0.7"/>
<line x1="144.6" y1="428.17" x2="144.6" y2="442.03" stroke="#111" stroke-width="0.7"/>
<line x1="118.4" y1="435.1" x2="144.6" y2="435.1" stroke="#111" stroke-width="0.7"/>
<line x1="118.4" y1="413.15" x2="118.4" y2="435.1" stroke="#111" stroke-width="0.7"/>
<line x1="111.9" y1="424.12" x2="118.4" y2="424.12" stroke="#111" stroke-width="0.7"/>
<line x1="111.9" y1="391.78" x2="111.9" y2="424.12" stroke="#111" stroke-width="0.7"/>
<line x1="108.8" y1="407.95" x2="111.9" y2="407.95" stroke="#111" stroke-width="0.7"/>
<line x1="108.8" y1="349.77" x2="108.8" y2="407.95" stroke="#111" stroke-width="0.7"/>
<line x1="98.2" y1="378.86" x2="108.8" y2="378.86" stroke="#111" stroke-width="0.7"/>
<line x1="98.2" y1="318.15" x2="98.2" y2="378.86" stroke="#111" stroke-width="0.7"/>
<line x1="84.9" y1="348.51" x2="98.2" y2="348.51" stroke="#111" stroke-width="0.7"/>
<line x1="84.9" y1="228.31" x2="84.9" y2="348.51" stroke="#777" stroke-width="1.0"/>
<line x1="80.9" y1="288.41" x2="84.9" y2="288.41" stroke="#777" stroke-width="1.0"/>
<line x1="80.9" y1="185.9" x2="80.9" y2="288.41" stroke="#777" stroke-width="1.0"/>
<line x1="66.2" y1="237.16" x2="80.9" y2="237.16" stroke="#777" stroke-width="1.0"/>
<line x1="66.2" y1="170.6" x2="66.2" y2="237.16" stroke="#111" stroke-width="0.7"/>
<line x1="30.2" y1="203.88" x2="66.2" y2="203.88" stroke="#111" stroke-width="0.7"/>
<line x1="30.2" y1="155.01" x2="30.2" y2="203.88" stroke="#111" stroke-width="0.7"/>
<line x1="9.4" y1="179.44" x2="30.2" y2="179.44" stroke="#111" stroke-width="0.7"/>
<line x1="9.4" y1="102.24" x2="9.4" y2="179.44" stroke="#111" stroke-width="0.7"/>
<line x1="7" y1="140.84" x2="9.4" y2="140.84" stroke="#111" stroke-width="0.7"/>
</g>
<line x1="131" y1="152.12" x2="157.6" y2="152.12" stroke="#777" stroke-width="1.3"/>
<line x1="141" y1="258.38" x2="153.2" y2="258.38" stroke="#777" stroke-width="1.3"/>
<line x1="166" y1="424.7" x2="200.8" y2="424.7" stroke="#777" stroke-width="1.3"/>
<g>
<g opacity="0.74"><path d="M14.4,178.6 L17.1,178.6 A2.7,2.7 0 1 1 13.05,176.26 Z" fill="#4f7be8"/><path d="M14.4,178.6 L13.05,176.26 A2.7,2.7 0 0 1 14.87,175.94 Z" fill="#e8202a"/><path d="M14.4,178.6 L14.87,175.94 A2.7,2.7 0 0 1 17.1,178.6 Z" fill="#f7e11a"/><circle cx="14.4" cy="178.6" r="2.7" fill="none" stroke="#456" stroke-width="0.3" stroke-opacity="0.7"/></g>
<g opacity="0.74"><path d="M22.5,179 L27,179 A4.5,4.5 0 1 1 20.25,175.1 Z" fill="#0cf0f5"/><path d="M22.5,179 L20.25,175.1 A4.5,4.5 0 0 1 27,179 Z" fill="#ee55dd"/><circle cx="22.5" cy="179" r="4.5" fill="none" stroke="#456" stroke-width="0.3" stroke-opacity="0.7"/></g>
<g opacity="0.74"><path d="M21.9,102 L25.2,102 A3.3,3.3 0 1 1 19.66,99.57 Z" fill="#4f7be8"/><path d="M21.9,102 L19.66,99.57 A3.3,3.3 0 0 1 22.71,98.8 Z" fill="#e8202a"/><path d="M21.9,102 L22.71,98.8 A3.3,3.3 0 0 1 25.2,102 Z" fill="#f7e11a"/><circle cx="21.9" cy="102" r="3.3" fill="none" stroke="#456" stroke-width="0.3" stroke-opacity="0.7"/></g>
<g opacity="0.74"><path d="M30,102.4 L33.8,102.4 A3.8,3.8 0 0 1 33.14,104.54 Z" fill="#b9e3cf"/><path d="M30,102.4 L33.14,104.54 A3.8,3.8 0 1 1 32.37,99.43 Z" fill="#0cf0f5"/><path d="M30,102.4 L32.37,99.43 A3.8,3.8 0 0 1 33.63,101.28 Z" fill="#ee55dd"/><path d="M30,102.4 L33.63,101.28 A3.8,3.8 0 0 1 33.8,102.4 Z" fill="#f0a800"/><circle cx="30" cy="102.4" r="3.8" fill="none" stroke="#456" stroke-width="0.3" stroke-opacity="0.7"/></g>
<g opacity="0.74"><path d="M57.2,120 L60.2,120 A3,3 0 0 1 54.77,121.76 Z" fill="#4f7be8"/><path d="M57.2,120 L54.77,121.76 A3,3 0 0 1 56.27,117.15 Z" fill="#e8202a"/><path d="M57.2,120 L56.27,117.15 A3,3 0 0 1 60.2,120 Z" fill="#f7e11a"/><circle cx="57.2" cy="120" r="3" fill="none" stroke="#456" stroke-width="0.3" stroke-opacity="0.7"/></g>
<g opacity="0.74"><path d="M65,120.4 L69.7,120.4 A4.7,4.7 0 1 1 60.58,118.79 Z" fill="#0cf0f5"/><path d="M65,120.4 L60.58,118.79 A4.7,4.7 0 0 1 69.7,120.4 Z" fill="#ee55dd"/><circle cx="65" cy="120.4" r="4.7" fill="none" stroke="#456" stroke-width="0.3" stroke-opacity="0.7"/></g>
<g opacity="0.74"><path d="M46.2,154.9 L49.7,154.9 A3.5,3.5 0 1 1 48.26,152.07 Z" fill="#4f7be8"/><path d="M46.2,154.9 L48.26,152.07 A3.5,3.5 0 0 1 49.7,154.9 Z" fill="#e8202a"/><circle cx="46.2" cy="154.9" r="3.5" fill="none" stroke="#456" stroke-width="0.3" stroke-opacity="0.7"/></g>
<g opacity="0.74"><path d="M55.6,155 L60.3,155 A4.7,4.7 0 0 1 59.98,156.7 Z" fill="#b9e3cf"/><path d="M55.6,155 L59.98,156.7 A4.7,4.7 0 1 1 59.98,153.3 Z" fill="#0cf0f5"/><path d="M55.6,155 L59.98,153.3 A4.7,4.7 0 0 1 60.26,154.42 Z" fill="#ee55dd"/><path d="M55.6,155 L60.26,154.42 A4.7,4.7 0 0 1 60.3,155 Z" fill="#f0a800"/><circle cx="55.6" cy="155" r="4.7" fill="none" stroke="#456" stroke-width="0.3" stroke-opacity="0.7"/></g>
<g opacity="0.74"><path d="M36,203.3 L38.5,203.3 A2.5,2.5 0 1 1 38.36,202.49 Z" fill="#4f7be8"/><path d="M36,203.3 L38.36,202.49 A2.5,2.5 0 0 1 38.5,203.3 Z" fill="#f7e11a"/><circle cx="36" cy="203.3" r="2.5" fill="none" stroke="#456" stroke-width="0.3" stroke-opacity="0.7"/></g>
<g opacity="0.74"><circle cx="41" cy="203.3" r="1" fill="#0cf0f5"/><circle cx="41" cy="203.3" r="1" fill="none" stroke="#456" stroke-width="0.3" stroke-opacity="0.7"/></g>
<g opacity="0.74"><path d="M74.4,170.1 L81.6,170.1 A7.2,7.2 0 0 1 79.53,175.15 Z" fill="#b9e3cf"/><path d="M74.4,170.1 L79.53,175.15 A7.2,7.2 0 1 1 81.23,167.81 Z" fill="#0cf0f5"/><path d="M74.4,170.1 L81.23,167.81 A7.2,7.2 0 0 1 81.54,169.17 Z" fill="#ee55dd"/><path d="M74.4,170.1 L81.54,169.17 A7.2,7.2 0 0 1 81.6,170.1 Z" fill="#f0a800"/><circle cx="74.4" cy="170.1" r="7.2" fill="none" stroke="#456" stroke-width="0.3" stroke-opacity="0.7"/></g>
<g opacity="0.74"><path d="M81.3,182.8 L85.4,182.8 A4.1,4.1 0 1 1 78.94,179.45 Z" fill="#4f7be8"/><path d="M81.3,182.8 L78.94,179.45 A4.1,4.1 0 0 1 84.94,180.91 Z" fill="#e8202a"/><path d="M81.3,182.8 L84.94,180.91 A4.1,4.1 0 0 1 85.4,182.8 Z" fill="#f7e11a"/><circle cx="81.3" cy="182.8" r="4.1" fill="none" stroke="#456" stroke-width="0.3" stroke-opacity="0.7"/></g>
<g opacity="0.74"><path d="M80.9,190.8 L85.25,189.64 A4.5,4.5 0 1 1 77.4,187.97 Z" fill="#b9e3cf"/><path d="M80.9,190.8 L77.4,187.97 A4.5,4.5 0 0 1 85.25,189.64 Z" fill="#0cf0f5"/><circle cx="80.9" cy="190.8" r="4.5" fill="none" stroke="#456" stroke-width="0.3" stroke-opacity="0.7"/></g>
<g opacity="0.74"><path d="M91,227.9 L93.4,227.9 A2.4,2.4 0 1 1 90.26,225.62 Z" fill="#4f7be8"/><path d="M91,227.9 L90.26,225.62 A2.4,2.4 0 0 1 93.4,227.9 Z" fill="#e8202a"/><circle cx="91" cy="227.9" r="2.4" fill="none" stroke="#456" stroke-width="0.3" stroke-opacity="0.7"/></g>
<g opacity="0.74"><path d="M96.1,227.9 L98.3,227.9 A2.2,2.2 0 1 1 95.42,225.81 Z" fill="#0cf0f5"/><path d="M96.1,227.9 L95.42,225.81 A2.2,2.2 0 0 1 98.3,227.9 Z" fill="#ee55dd"/><circle cx="96.1" cy="227.9" r="2.2" fill="none" stroke="#456" stroke-width="0.3" stroke-opacity="0.7"/></g>
<g opacity="0.74"><circle cx="112.5" cy="211.3" r="1.8" fill="#e8202a"/><circle cx="112.5" cy="211.3" r="1.8" fill="none" stroke="#456" stroke-width="0.3" stroke-opacity="0.7"/></g>
<g opacity="0.74"><circle cx="116.8" cy="211.3" r="2" fill="#0cf0f5"/><circle cx="116.8" cy="211.3" r="2" fill="none" stroke="#456" stroke-width="0.3" stroke-opacity="0.7"/></g>
<g opacity="0.74"><circle cx="105.9" cy="244.6" r="1" fill="#f7e11a"/><circle cx="105.9" cy="244.6" r="1" fill="none" stroke="#456" stroke-width="0.3" stroke-opacity="0.7"/></g>
<g opacity="0.74"><circle cx="109.2" cy="263.2" r="1.2" fill="#4f7be8"/><circle cx="109.2" cy="263.2" r="1.2" fill="none" stroke="#456" stroke-width="0.3" stroke-opacity="0.7"/></g>
<g opacity="0.74"><path d="M111.5,262.9 L114.2,262.9 A2.7,2.7 0 0 1 112.33,265.47 Z" fill="#b9e3cf"/><path d="M111.5,262.9 L112.33,265.47 A2.7,2.7 0 1 1 114.2,262.9 Z" fill="#0cf0f5"/><circle cx="111.5" cy="262.9" r="2.7" fill="none" stroke="#456" stroke-width="0.3" stroke-opacity="0.7"/></g>
<g opacity="0.74"><circle cx="116.7" cy="237.7" r="1.4" fill="#4f7be8"/><circle cx="116.7" cy="237.7" r="1.4" fill="none" stroke="#456" stroke-width="0.3" stroke-opacity="0.7"/></g>
<g opacity="0.74"><circle cx="120.3" cy="237.7" r="1.6" fill="#0cf0f5"/><circle cx="120.3" cy="237.7" r="1.6" fill="none" stroke="#456" stroke-width="0.3" stroke-opacity="0.7"/></g>
<g opacity="0.74"><circle cx="116.5" cy="289.3" r="2" fill="#e8202a"/><circle cx="116.5" cy="289.3" r="2" fill="none" stroke="#456" stroke-width="0.3" stroke-opacity="0.7"/></g>
<g opacity="0.74"><circle cx="90.4" cy="348" r="1.6" fill="#4f7be8"/><circle cx="90.4" cy="348" r="1.6" fill="none" stroke="#456" stroke-width="0.3" stroke-opacity="0.7"/></g>
<g opacity="0.74"><circle cx="92.6" cy="348" r="1.9" fill="#0cf0f5"/><circle cx="92.6" cy="348" r="1.9" fill="none" stroke="#456" stroke-width="0.3" stroke-opacity="0.7"/></g>
<g opacity="0.74"><path d="M101,377.9 L104,377.9 A3,3 0 1 1 100.07,375.05 Z" fill="#4f7be8"/><path d="M101,377.9 L100.07,375.05 A3,3 0 0 1 104,377.9 Z" fill="#e8202a"/><circle cx="101" cy="377.9" r="3" fill="none" stroke="#456" stroke-width="0.3" stroke-opacity="0.7"/></g>
<g opacity="0.74"><circle cx="106.3" cy="377.9" r="1.8" fill="#0cf0f5"/><circle cx="106.3" cy="377.9" r="1.8" fill="none" stroke="#456" stroke-width="0.3" stroke-opacity="0.7"/></g>
<g opacity="0.74"><circle cx="102.2" cy="318" r="1.3" fill="#e8202a"/><circle cx="102.2" cy="318" r="1.3" fill="none" stroke="#456" stroke-width="0.3" stroke-opacity="0.7"/></g>
<g opacity="0.74"><path d="M106.4,318 L109,318 A2.6,2.6 0 0 1 105.6,320.47 Z" fill="#b9e3cf"/><path d="M106.4,318 L105.6,320.47 A2.6,2.6 0 1 1 108.5,316.47 Z" fill="#0cf0f5"/><path d="M106.4,318 L108.5,316.47 A2.6,2.6 0 0 1 109,318 Z" fill="#ee55dd"/><circle cx="106.4" cy="318" r="2.6" fill="none" stroke="#456" stroke-width="0.3" stroke-opacity="0.7"/></g>
<g opacity="0.74"><circle cx="109.9" cy="349" r="1.2" fill="#e8202a"/><circle cx="109.9" cy="349" r="1.2" fill="none" stroke="#456" stroke-width="0.3" stroke-opacity="0.7"/></g>
<g opacity="0.74"><circle cx="107.8" cy="407.4" r="1.3" fill="#4f7be8"/><circle cx="107.8" cy="407.4" r="1.3" fill="none" stroke="#456" stroke-width="0.3" stroke-opacity="0.7"/></g>
<g opacity="0.74"><circle cx="110.3" cy="407.4" r="1.3" fill="#0cf0f5"/><circle cx="110.3" cy="407.4" r="1.3" fill="none" stroke="#456" stroke-width="0.3" stroke-opacity="0.7"/></g>
<g opacity="0.74"><circle cx="115" cy="423.1" r="1.8" fill="#0cf0f5"/><circle cx="115" cy="423.1" r="1.8" fill="none" stroke="#456" stroke-width="0.3" stroke-opacity="0.7"/></g>
<g opacity="0.74"><circle cx="121.5" cy="390.9" r="1.1" fill="#f7e11a"/><circle cx="121.5" cy="390.9" r="1.1" fill="none" stroke="#456" stroke-width="0.3" stroke-opacity="0.7"/></g>
<g opacity="0.74"><circle cx="125.2" cy="390.9" r="2" fill="#0cf0f5"/><circle cx="125.2" cy="390.9" r="2" fill="none" stroke="#456" stroke-width="0.3" stroke-opacity="0.7"/></g>
<g opacity="0.74"><path d="M124.8,412.8 L128.1,412.8 A3.3,3.3 0 0 1 124.8,416.1 Z" fill="#4f7be8"/><path d="M124.8,412.8 L124.8,416.1 A3.3,3.3 0 0 1 124.8,409.5 Z" fill="#e8202a"/><path d="M124.8,412.8 L124.8,409.5 A3.3,3.3 0 0 1 128.1,412.8 Z" fill="#f7e11a"/><circle cx="124.8" cy="412.8" r="3.3" fill="none" stroke="#456" stroke-width="0.3" stroke-opacity="0.7"/></g>
<g opacity="0.74"><path d="M133.8,412.4 L136.3,408.07 A5,5 0 0 1 132.76,417.29 Z" fill="#b9e3cf"/><path d="M133.8,412.4 L132.76,417.29 A5,5 0 0 1 133.9,407.4 Z" fill="#0cf0f5"/><path d="M133.8,412.4 L133.9,407.4 A5,5 0 0 1 136.3,408.07 Z" fill="#ee55dd"/><circle cx="133.8" cy="412.4" r="5" fill="none" stroke="#456" stroke-width="0.3" stroke-opacity="0.7"/></g>
<g opacity="0.74"><circle cx="129.3" cy="434.1" r="1.3" fill="#e8202a"/><circle cx="129.3" cy="434.1" r="1.3" fill="none" stroke="#456" stroke-width="0.3" stroke-opacity="0.7"/></g>
<g opacity="0.74"><circle cx="132.3" cy="434.1" r="2" fill="#0cf0f5"/><circle cx="132.3" cy="434.1" r="2" fill="none" stroke="#456" stroke-width="0.3" stroke-opacity="0.7"/></g>
<g opacity="0.74"><circle cx="92.6" cy="178.4" r="1.4" fill="#0cf0f5"/><circle cx="92.6" cy="178.4" r="1.4" fill="none" stroke="#456" stroke-width="0.3" stroke-opacity="0.7"/></g>
<g opacity="0.74"><circle cx="69.9" cy="73" r="2" fill="#4f7be8"/><circle cx="69.9" cy="73" r="2" fill="none" stroke="#456" stroke-width="0.3" stroke-opacity="0.7"/></g>
<g opacity="0.74"><path d="M75.6,73 L78.5,73 A2.9,2.9 0 0 1 77.95,74.7 Z" fill="#b9e3cf"/><path d="M75.6,73 L77.95,74.7 A2.9,2.9 0 1 1 78.5,73 Z" fill="#0cf0f5"/><circle cx="75.6" cy="73" r="2.9" fill="none" stroke="#456" stroke-width="0.3" stroke-opacity="0.7"/></g>
<g opacity="0.74"><path d="M91.4,69.3 L94,69.3 A2.6,2.6 0 1 1 90.1,67.05 Z" fill="#4f7be8"/><path d="M91.4,69.3 L90.1,67.05 A2.6,2.6 0 0 1 94,69.3 Z" fill="#f7e11a"/><circle cx="91.4" cy="69.3" r="2.6" fill="none" stroke="#456" stroke-width="0.3" stroke-opacity="0.7"/></g>
<g opacity="0.74"><path d="M98.5,68.9 L102.2,68.9 A3.7,3.7 0 0 1 94.8,68.9 Z" fill="#0cf0f5"/><path d="M98.5,68.9 L94.8,68.9 A3.7,3.7 0 0 1 102.2,68.9 Z" fill="#ee55dd"/><circle cx="98.5" cy="68.9" r="3.7" fill="none" stroke="#456" stroke-width="0.3" stroke-opacity="0.7"/></g>
<g opacity="0.74"><path d="M104.8,73.8 L107,73.8 A2.2,2.2 0 1 1 104.12,71.71 Z" fill="#4f7be8"/><path d="M104.8,73.8 L104.12,71.71 A2.2,2.2 0 0 1 107,73.8 Z" fill="#e8202a"/><circle cx="104.8" cy="73.8" r="2.2" fill="none" stroke="#456" stroke-width="0.3" stroke-opacity="0.7"/></g>
<g opacity="0.74"><path d="M112.4,72.4 L117.1,72.4 A4.7,4.7 0 0 1 110.95,76.87 Z" fill="#b9e3cf"/><path d="M112.4,72.4 L110.95,76.87 A4.7,4.7 0 1 1 117.1,72.4 Z" fill="#0cf0f5"/><circle cx="112.4" cy="72.4" r="4.7" fill="none" stroke="#456" stroke-width="0.3" stroke-opacity="0.7"/></g>
<g opacity="0.74"><path d="M95.4,80 L97.4,80 A2,2 0 1 1 93.78,78.82 Z" fill="#e8202a"/><path d="M95.4,80 L93.78,78.82 A2,2 0 0 1 97.4,80 Z" fill="#f7e11a"/><circle cx="95.4" cy="80" r="2" fill="none" stroke="#456" stroke-width="0.3" stroke-opacity="0.7"/></g>
<g opacity="0.74"><circle cx="104.6" cy="79.1" r="1.5" fill="#4f7be8"/><circle cx="104.6" cy="79.1" r="1.5" fill="none" stroke="#456" stroke-width="0.3" stroke-opacity="0.7"/></g>
<g opacity="0.74"><circle cx="108.7" cy="78.5" r="1.4" fill="#0cf0f5"/><circle cx="108.7" cy="78.5" r="1.4" fill="none" stroke="#456" stroke-width="0.3" stroke-opacity="0.7"/></g>
<g opacity="0.74"><circle cx="104.2" cy="82.6" r="1.3" fill="#e8202a"/><circle cx="104.2" cy="82.6" r="1.3" fill="none" stroke="#456" stroke-width="0.3" stroke-opacity="0.7"/></g>
<g opacity="0.74"><path d="M107.9,83 L110.3,83 A2.4,2.4 0 0 1 107.16,85.28 Z" fill="#0cf0f5"/><path d="M107.9,83 L107.16,85.28 A2.4,2.4 0 1 1 110.3,83 Z" fill="#ee55dd"/><circle cx="107.9" cy="83" r="2.4" fill="none" stroke="#456" stroke-width="0.3" stroke-opacity="0.7"/></g>
<g opacity="0.74"><path d="M60.7,93.4 L64.8,93.4 A4.1,4.1 0 1 1 57.38,90.99 Z" fill="#4f7be8"/><path d="M60.7,93.4 L57.38,90.99 A4.1,4.1 0 0 1 61.97,89.5 Z" fill="#e8202a"/><path d="M60.7,93.4 L61.97,89.5 A4.1,4.1 0 0 1 64.8,93.4 Z" fill="#f7e11a"/><circle cx="60.7" cy="93.4" r="4.1" fill="none" stroke="#456" stroke-width="0.3" stroke-opacity="0.7"/></g>
<g opacity="0.74"><path d="M70.1,94.2 L74.6,94.2 A4.5,4.5 0 1 1 66.46,91.55 Z" fill="#0cf0f5"/><path d="M70.1,94.2 L66.46,91.55 A4.5,4.5 0 0 1 74.6,94.2 Z" fill="#ee55dd"/><circle cx="70.1" cy="94.2" r="4.5" fill="none" stroke="#456" stroke-width="0.3" stroke-opacity="0.7"/></g>
<g opacity="0.74"><path d="M77.7,98.9 L80.6,98.9 A2.9,2.9 0 0 1 80.05,100.6 Z" fill="#b9e3cf"/><path d="M77.7,98.9 L80.05,100.6 A2.9,2.9 0 1 1 80.6,98.9 Z" fill="#0cf0f5"/><circle cx="77.7" cy="98.9" r="2.9" fill="none" stroke="#456" stroke-width="0.3" stroke-opacity="0.7"/></g>
<g opacity="0.74"><circle cx="98.1" cy="89.3" r="1.2" fill="#0cf0f5"/><circle cx="98.1" cy="89.3" r="1.2" fill="none" stroke="#456" stroke-width="0.3" stroke-opacity="0.7"/></g>
<g opacity="0.74"><circle cx="105.9" cy="91.8" r="1.2" fill="#0cf0f5"/><circle cx="105.9" cy="91.8" r="1.2" fill="none" stroke="#456" stroke-width="0.3" stroke-opacity="0.7"/></g>
<g opacity="0.74"><path d="M86.9,97.3 L89.9,97.3 A3,3 0 1 1 86.65,94.31 Z" fill="#4f7be8"/><path d="M86.9,97.3 L86.65,94.31 A3,3 0 0 1 87.64,94.39 Z" fill="#e8202a"/><path d="M86.9,97.3 L87.64,94.39 A3,3 0 0 1 89.9,97.3 Z" fill="#f7e11a"/><circle cx="86.9" cy="97.3" r="3" fill="none" stroke="#456" stroke-width="0.3" stroke-opacity="0.7"/></g>
<g opacity="0.74"><circle cx="94.4" cy="96.9" r="3.5" fill="#0cf0f5"/><circle cx="94.4" cy="96.9" r="3.5" fill="none" stroke="#456" stroke-width="0.3" stroke-opacity="0.7"/></g>
<g opacity="0.74"><circle cx="106.3" cy="101.1" r="1.8" fill="#e8202a"/><circle cx="106.3" cy="101.1" r="1.8" fill="none" stroke="#456" stroke-width="0.3" stroke-opacity="0.7"/></g>
<g opacity="0.74"><circle cx="111" cy="101.1" r="2" fill="#0cf0f5"/><circle cx="111" cy="101.1" r="2" fill="none" stroke="#456" stroke-width="0.3" stroke-opacity="0.7"/></g>
<g opacity="0.74"><circle cx="87.2" cy="112.7" r="1.2" fill="#0cf0f5"/><circle cx="87.2" cy="112.7" r="1.2" fill="none" stroke="#456" stroke-width="0.3" stroke-opacity="0.7"/></g>
<g opacity="0.74"><circle cx="96.3" cy="107.8" r="1.2" fill="#0cf0f5"/><circle cx="96.3" cy="107.8" r="1.2" fill="none" stroke="#456" stroke-width="0.3" stroke-opacity="0.7"/></g>
<g opacity="0.74"><path d="M134.2,104.1 L137.9,104.1 A3.7,3.7 0 1 1 133.06,100.58 Z" fill="#4f7be8"/><path d="M134.2,104.1 L133.06,100.58 A3.7,3.7 0 0 1 137.9,104.1 Z" fill="#e8202a"/><circle cx="134.2" cy="104.1" r="3.7" fill="none" stroke="#456" stroke-width="0.3" stroke-opacity="0.7"/></g>
<g opacity="0.74"><circle cx="142.3" cy="105.2" r="1.3" fill="#0cf0f5"/><circle cx="142.3" cy="105.2" r="1.3" fill="none" stroke="#456" stroke-width="0.3" stroke-opacity="0.7"/></g>
<g opacity="0.74"><circle cx="122" cy="110.3" r="1.3" fill="#4f7be8"/><circle cx="122" cy="110.3" r="1.3" fill="none" stroke="#456" stroke-width="0.3" stroke-opacity="0.7"/></g>
<g opacity="0.74"><circle cx="125.6" cy="110.3" r="1.3" fill="#0cf0f5"/><circle cx="125.6" cy="110.3" r="1.3" fill="none" stroke="#456" stroke-width="0.3" stroke-opacity="0.7"/></g>
<g opacity="0.74"><circle cx="100.4" cy="117.4" r="3.7" fill="#0cf0f5"/><circle cx="100.4" cy="117.4" r="3.7" fill="none" stroke="#456" stroke-width="0.3" stroke-opacity="0.7"/></g>
<g opacity="0.74"><path d="M115.8,114.8 L119.5,114.8 A3.7,3.7 0 0 1 114.66,118.32 Z" fill="#b9e3cf"/><path d="M115.8,114.8 L114.66,118.32 A3.7,3.7 0 1 1 119.5,114.8 Z" fill="#0cf0f5"/><circle cx="115.8" cy="114.8" r="3.7" fill="none" stroke="#456" stroke-width="0.3" stroke-opacity="0.7"/></g>
<g opacity="0.74"><circle cx="121" cy="119.5" r="1" fill="#0cf0f5"/><circle cx="121" cy="119.5" r="1" fill="none" stroke="#456" stroke-width="0.3" stroke-opacity="0.7"/></g>
<g opacity="0.74"><path d="M90.2,128.7 L92.7,128.7 A2.5,2.5 0 0 1 89.43,131.08 Z" fill="#4f7be8"/><path d="M90.2,128.7 L89.43,131.08 A2.5,2.5 0 0 1 89.43,126.32 Z" fill="#e8202a"/><path d="M90.2,128.7 L89.43,126.32 A2.5,2.5 0 0 1 92.7,128.7 Z" fill="#f7e11a"/><circle cx="90.2" cy="128.7" r="2.5" fill="none" stroke="#456" stroke-width="0.3" stroke-opacity="0.7"/></g>
<g opacity="0.74"><path d="M95.9,128.7 L98,128.7 A2.1,2.1 0 0 1 97.6,129.93 Z" fill="#b9e3cf"/><path d="M95.9,128.7 L97.6,129.93 A2.1,2.1 0 0 1 94.2,127.47 Z" fill="#0cf0f5"/><path d="M95.9,128.7 L94.2,127.47 A2.1,2.1 0 0 1 98,128.7 Z" fill="#ee55dd"/><circle cx="95.9" cy="128.7" r="2.1" fill="none" stroke="#456" stroke-width="0.3" stroke-opacity="0.7"/></g>
<g opacity="0.74"><path d="M120.9,132.7 L124.6,132.7 A3.7,3.7 0 1 1 122.04,129.18 Z" fill="#0cf0f5"/><path d="M120.9,132.7 L122.04,129.18 A3.7,3.7 0 0 1 123.89,130.53 Z" fill="#ee55dd"/><path d="M120.9,132.7 L123.89,130.53 A3.7,3.7 0 0 1 124.6,132.7 Z" fill="#f0a800"/><circle cx="120.9" cy="132.7" r="3.7" fill="none" stroke="#456" stroke-width="0.3" stroke-opacity="0.7"/></g>
<g opacity="0.74"><path d="M185.9,128.2 L194.1,128.2 A8.2,8.2 0 1 1 177.76,127.17 Z" fill="#b9e3cf"/><path d="M185.9,128.2 L177.76,127.17 A8.2,8.2 0 0 1 193.52,125.18 Z" fill="#0cf0f5"/><path d="M185.9,128.2 L193.52,125.18 A8.2,8.2 0 0 1 194.1,128.2 Z" fill="#ee55dd"/><circle cx="185.9" cy="128.2" r="8.2" fill="none" stroke="#456" stroke-width="0.3" stroke-opacity="0.7"/></g>
<g opacity="0.74"><circle cx="151.9" cy="133.2" r="2.1" fill="#0cf0f5"/><circle cx="151.9" cy="133.2" r="2.1" fill="none" stroke="#456" stroke-width="0.3" stroke-opacity="0.7"/></g>
<g opacity="0.74"><circle cx="150.9" cy="139.9" r="3.3" fill="#0cf0f5"/><circle cx="150.9" cy="139.9" r="3.3" fill="none" stroke="#456" stroke-width="0.3" stroke-opacity="0.7"/></g>
<g opacity="0.74"><path d="M163.4,137.4 L166.9,137.4 A3.5,3.5 0 0 1 160.57,139.46 Z" fill="#b9e3cf"/><path d="M163.4,137.4 L160.57,139.46 A3.5,3.5 0 1 1 166.9,137.4 Z" fill="#0cf0f5"/><circle cx="163.4" cy="137.4" r="3.5" fill="none" stroke="#456" stroke-width="0.3" stroke-opacity="0.7"/></g>
<g opacity="0.74"><circle cx="167.9" cy="142.4" r="1.1" fill="#0cf0f5"/><circle cx="167.9" cy="142.4" r="1.1" fill="none" stroke="#456" stroke-width="0.3" stroke-opacity="0.7"/></g>
<g opacity="0.74"><circle cx="137.5" cy="137.2" r="1" fill="#0cf0f5"/><circle cx="137.5" cy="137.2" r="1" fill="none" stroke="#456" stroke-width="0.3" stroke-opacity="0.7"/></g>
<g opacity="0.74"><circle cx="98.3" cy="149.8" r="3" fill="#0cf0f5"/><circle cx="98.3" cy="149.8" r="3" fill="none" stroke="#456" stroke-width="0.3" stroke-opacity="0.7"/></g>
<g opacity="0.74"><path d="M107.1,147.5 L109.2,147.5 A2.1,2.1 0 1 1 107.75,145.5 Z" fill="#4f7be8"/><path d="M107.1,147.5 L107.75,145.5 A2.1,2.1 0 0 1 109.2,147.5 Z" fill="#f7e11a"/><circle cx="107.1" cy="147.5" r="2.1" fill="none" stroke="#456" stroke-width="0.3" stroke-opacity="0.7"/></g>
<g opacity="0.74"><circle cx="112.2" cy="147.1" r="1.4" fill="#0cf0f5"/><circle cx="112.2" cy="147.1" r="1.4" fill="none" stroke="#456" stroke-width="0.3" stroke-opacity="0.7"/></g>
<g opacity="0.74"><path d="M121.8,151.2 L124.4,151.2 A2.6,2.6 0 1 1 121,148.73 Z" fill="#4f7be8"/><path d="M121.8,151.2 L121,148.73 A2.6,2.6 0 0 1 124.4,151.2 Z" fill="#f7e11a"/><circle cx="121.8" cy="151.2" r="2.6" fill="none" stroke="#456" stroke-width="0.3" stroke-opacity="0.7"/></g>
<g opacity="0.74"><circle cx="128.3" cy="151.6" r="2.8" fill="#0cf0f5"/><circle cx="128.3" cy="151.6" r="2.8" fill="none" stroke="#456" stroke-width="0.3" stroke-opacity="0.7"/></g>
<g opacity="0.74"><path d="M100.3,160 L103.8,160 A3.5,3.5 0 0 1 97.47,162.06 Z" fill="#4f7be8"/><path d="M100.3,160 L97.47,162.06 A3.5,3.5 0 0 1 99.22,156.67 Z" fill="#e8202a"/><path d="M100.3,160 L99.22,156.67 A3.5,3.5 0 0 1 103.8,160 Z" fill="#f7e11a"/><circle cx="100.3" cy="160" r="3.5" fill="none" stroke="#456" stroke-width="0.3" stroke-opacity="0.7"/></g>
<g opacity="0.74"><path d="M107.1,160 L109.6,160 A2.5,2.5 0 0 1 106.33,162.38 Z" fill="#b9e3cf"/><path d="M107.1,160 L106.33,162.38 A2.5,2.5 0 0 1 107.87,157.62 Z" fill="#0cf0f5"/><path d="M107.1,160 L107.87,157.62 A2.5,2.5 0 0 1 109.6,160 Z" fill="#ee55dd"/><circle cx="107.1" cy="160" r="2.5" fill="none" stroke="#456" stroke-width="0.3" stroke-opacity="0.7"/></g>
<g opacity="0.74"><path d="M144.3,158.4 L150.3,158.4 A6,6 0 1 1 145.79,152.59 Z" fill="#b9e3cf"/><path d="M144.3,158.4 L145.79,152.59 A6,6 0 0 1 149.37,155.19 Z" fill="#0cf0f5"/><path d="M144.3,158.4 L149.37,155.19 A6,6 0 0 1 150.3,158.4 Z" fill="#ee55dd"/><circle cx="144.3" cy="158.4" r="6" fill="none" stroke="#456" stroke-width="0.3" stroke-opacity="0.7"/></g>
<g opacity="0.74"><path d="M130.4,162.4 L133.4,162.4 A3,3 0 0 1 129.47,165.25 Z" fill="#b9e3cf"/><path d="M130.4,162.4 L129.47,165.25 A3,3 0 1 1 133.4,162.4 Z" fill="#0cf0f5"/><circle cx="130.4" cy="162.4" r="3" fill="none" stroke="#456" stroke-width="0.3" stroke-opacity="0.7"/></g>
<g opacity="0.74"><circle cx="125.5" cy="163" r="0.9" fill="#f7e11a"/><circle cx="125.5" cy="163" r="0.9" fill="none" stroke="#456" stroke-width="0.3" stroke-opacity="0.7"/></g>
<g opacity="0.74"><path d="M157,166.1 L160.3,166.1 A3.3,3.3 0 0 1 159.67,168.04 Z" fill="#b9e3cf"/><path d="M157,166.1 L159.67,168.04 A3.3,3.3 0 1 1 159.67,164.16 Z" fill="#0cf0f5"/><path d="M157,166.1 L159.67,164.16 A3.3,3.3 0 0 1 160.3,166.1 Z" fill="#ee55dd"/><circle cx="157" cy="166.1" r="3.3" fill="none" stroke="#456" stroke-width="0.3" stroke-opacity="0.7"/></g>
<g opacity="0.74"><path d="M110.5,176.3 L116,176.3 A5.5,5.5 0 1 1 107.27,171.85 Z" fill="#b9e3cf"/><path d="M110.5,176.3 L107.27,171.85 A5.5,5.5 0 0 1 114.95,173.07 Z" fill="#0cf0f5"/><path d="M110.5,176.3 L114.95,173.07 A5.5,5.5 0 0 1 116,176.3 Z" fill="#ee55dd"/><circle cx="110.5" cy="176.3" r="5.5" fill="none" stroke="#456" stroke-width="0.3" stroke-opacity="0.7"/></g>
<g opacity="0.74"><circle cx="123.8" cy="179.8" r="2.6" fill="#4f7be8"/><circle cx="123.8" cy="179.8" r="2.6" fill="none" stroke="#456" stroke-width="0.3" stroke-opacity="0.7"/></g>
<g opacity="0.74"><path d="M133.6,184.3 L136.2,184.3 A2.6,2.6 0 0 1 131,184.3 Z" fill="#4f7be8"/><path d="M133.6,184.3 L131,184.3 A2.6,2.6 0 0 1 136.2,184.3 Z" fill="#e8202a"/><circle cx="133.6" cy="184.3" r="2.6" fill="none" stroke="#456" stroke-width="0.3" stroke-opacity="0.7"/></g>
<g opacity="0.74"><circle cx="138.8" cy="184.3" r="1.6" fill="#0cf0f5"/><circle cx="138.8" cy="184.3" r="1.6" fill="none" stroke="#456" stroke-width="0.3" stroke-opacity="0.7"/></g>
<g opacity="0.74"><path d="M98.9,192.6 L106.9,192.6 A8,8 0 0 1 91.15,194.59 Z" fill="#b9e3cf"/><path d="M98.9,192.6 L91.15,194.59 A8,8 0 0 1 104.73,187.12 Z" fill="#0cf0f5"/><path d="M98.9,192.6 L104.73,187.12 A8,8 0 0 1 106.84,191.6 Z" fill="#ee55dd"/><path d="M98.9,192.6 L106.84,191.6 A8,8 0 0 1 106.9,192.6 Z" fill="#f0a800"/><circle cx="98.9" cy="192.6" r="8" fill="none" stroke="#456" stroke-width="0.3" stroke-opacity="0.7"/></g>
<g opacity="0.74"><path d="M148.4,188.9 L152.7,188.9 A4.3,4.3 0 0 1 152.56,189.97 Z" fill="#b9e3cf"/><path d="M148.4,188.9 L152.56,189.97 A4.3,4.3 0 1 1 152.4,187.32 Z" fill="#0cf0f5"/><path d="M148.4,188.9 L152.4,187.32 A4.3,4.3 0 0 1 152.7,188.9 Z" fill="#ee55dd"/><circle cx="148.4" cy="188.9" r="4.3" fill="none" stroke="#456" stroke-width="0.3" stroke-opacity="0.7"/></g>
<g opacity="0.74"><path d="M112.2,196.7 L116.2,196.7 A4,4 0 1 1 110.96,192.9 Z" fill="#b9e3cf"/><path d="M112.2,196.7 L110.96,192.9 A4,4 0 0 1 116.2,196.7 Z" fill="#0cf0f5"/><circle cx="112.2" cy="196.7" r="4" fill="none" stroke="#456" stroke-width="0.3" stroke-opacity="0.7"/></g>
<g opacity="0.74"><path d="M126.5,192.6 L129.8,192.6 A3.3,3.3 0 0 1 129.39,194.19 Z" fill="#b9e3cf"/><path d="M126.5,192.6 L129.39,194.19 A3.3,3.3 0 1 1 128.91,190.34 Z" fill="#0cf0f5"/><path d="M126.5,192.6 L128.91,190.34 A3.3,3.3 0 0 1 129.8,192.6 Z" fill="#ee55dd"/><circle cx="126.5" cy="192.6" r="3.3" fill="none" stroke="#456" stroke-width="0.3" stroke-opacity="0.7"/></g>
<g opacity="0.74"><circle cx="136.1" cy="200.2" r="3.5" fill="#0cf0f5"/><circle cx="136.1" cy="200.2" r="3.5" fill="none" stroke="#456" stroke-width="0.3" stroke-opacity="0.7"/></g>
<g opacity="0.74"><circle cx="181.1" cy="197.7" r="1.4" fill="#0cf0f5"/><circle cx="181.1" cy="197.7" r="1.4" fill="none" stroke="#456" stroke-width="0.3" stroke-opacity="0.7"/></g>
<g opacity="0.74"><path d="M185.8,202.8 L189.1,202.8 A3.3,3.3 0 0 1 186.82,205.94 Z" fill="#b9e3cf"/><path d="M185.8,202.8 L186.82,205.94 A3.3,3.3 0 1 1 189.1,202.8 Z" fill="#0cf0f5"/><circle cx="185.8" cy="202.8" r="3.3" fill="none" stroke="#456" stroke-width="0.3" stroke-opacity="0.7"/></g>
<g opacity="0.74"><circle cx="131.5" cy="207.2" r="1.1" fill="#4f7be8"/><circle cx="131.5" cy="207.2" r="1.1" fill="none" stroke="#456" stroke-width="0.3" stroke-opacity="0.7"/></g>
<g opacity="0.74"><circle cx="130.5" cy="215.4" r="1.3" fill="#0cf0f5"/><circle cx="130.5" cy="215.4" r="1.3" fill="none" stroke="#456" stroke-width="0.3" stroke-opacity="0.7"/></g>
<g opacity="0.74"><circle cx="140.7" cy="216.8" r="1.3" fill="#4f7be8"/><circle cx="140.7" cy="216.8" r="1.3" fill="none" stroke="#456" stroke-width="0.3" stroke-opacity="0.7"/></g>
<g opacity="0.74"><circle cx="135.5" cy="218.2" r="1.2" fill="#e8202a"/><circle cx="135.5" cy="218.2" r="1.2" fill="none" stroke="#456" stroke-width="0.3" stroke-opacity="0.7"/></g>
<g opacity="0.74"><circle cx="138" cy="211.9" r="1" fill="#0cf0f5"/><circle cx="138" cy="211.9" r="1" fill="none" stroke="#456" stroke-width="0.3" stroke-opacity="0.7"/></g>
<g opacity="0.74"><circle cx="115.2" cy="225.6" r="1.3" fill="#0cf0f5"/><circle cx="115.2" cy="225.6" r="1.3" fill="none" stroke="#456" stroke-width="0.3" stroke-opacity="0.7"/></g>
<g opacity="0.74"><circle cx="125.7" cy="232.8" r="1.3" fill="#4f7be8"/><circle cx="125.7" cy="232.8" r="1.3" fill="none" stroke="#456" stroke-width="0.3" stroke-opacity="0.7"/></g>
<g opacity="0.74"><circle cx="129.7" cy="232.8" r="1.2" fill="#0cf0f5"/><circle cx="129.7" cy="232.8" r="1.2" fill="none" stroke="#456" stroke-width="0.3" stroke-opacity="0.7"/></g>
<g opacity="0.74"><circle cx="137.5" cy="239.7" r="2" fill="#4f7be8"/><circle cx="137.5" cy="239.7" r="2" fill="none" stroke="#456" stroke-width="0.3" stroke-opacity="0.7"/></g>
<g opacity="0.74"><circle cx="134.5" cy="246.6" r="1.2" fill="#0cf0f5"/><circle cx="134.5" cy="246.6" r="1.2" fill="none" stroke="#456" stroke-width="0.3" stroke-opacity="0.7"/></g>
<g opacity="0.74"><circle cx="140.4" cy="252.6" r="1.2" fill="#4f7be8"/><circle cx="140.4" cy="252.6" r="1.2" fill="none" stroke="#456" stroke-width="0.3" stroke-opacity="0.7"/></g>
<g opacity="0.74"><circle cx="141" cy="257.3" r="1" fill="#4f7be8"/><circle cx="141" cy="257.3" r="1" fill="none" stroke="#456" stroke-width="0.3" stroke-opacity="0.7"/></g>
<g opacity="0.74"><circle cx="119.1" cy="270" r="1.2" fill="#4f7be8"/><circle cx="119.1" cy="270" r="1.2" fill="none" stroke="#456" stroke-width="0.3" stroke-opacity="0.7"/></g>
<g opacity="0.74"><circle cx="123.6" cy="270.1" r="1.1" fill="#4f7be8"/><circle cx="123.6" cy="270.1" r="1.1" fill="none" stroke="#456" stroke-width="0.3" stroke-opacity="0.7"/></g>
<g opacity="0.74"><circle cx="152.2" cy="272" r="1.7" fill="#4f7be8"/><circle cx="152.2" cy="272" r="1.7" fill="none" stroke="#456" stroke-width="0.3" stroke-opacity="0.7"/></g>
<g opacity="0.74"><circle cx="151.8" cy="276.3" r="1.1" fill="#4f7be8"/><circle cx="151.8" cy="276.3" r="1.1" fill="none" stroke="#456" stroke-width="0.3" stroke-opacity="0.7"/></g>
<g opacity="0.74"><circle cx="139.5" cy="273.6" r="1.2" fill="#4f7be8"/><circle cx="139.5" cy="273.6" r="1.2" fill="none" stroke="#456" stroke-width="0.3" stroke-opacity="0.7"/></g>
<g opacity="0.74"><circle cx="138.9" cy="285.4" r="1.5" fill="#4f7be8"/><circle cx="138.9" cy="285.4" r="1.5" fill="none" stroke="#456" stroke-width="0.3" stroke-opacity="0.7"/></g>
<g opacity="0.74"><circle cx="147.7" cy="285.6" r="1.1" fill="#4f7be8"/><circle cx="147.7" cy="285.6" r="1.1" fill="none" stroke="#456" stroke-width="0.3" stroke-opacity="0.7"/></g>
<g opacity="0.74"><circle cx="150.6" cy="290.4" r="1.5" fill="#0cf0f5"/><circle cx="150.6" cy="290.4" r="1.5" fill="none" stroke="#456" stroke-width="0.3" stroke-opacity="0.7"/></g>
<g opacity="0.74"><circle cx="144.7" cy="294.2" r="1.5" fill="#0cf0f5"/><circle cx="144.7" cy="294.2" r="1.5" fill="none" stroke="#456" stroke-width="0.3" stroke-opacity="0.7"/></g>
<g opacity="0.74"><circle cx="147.1" cy="297.7" r="1.2" fill="#0cf0f5"/><circle cx="147.1" cy="297.7" r="1.2" fill="none" stroke="#456" stroke-width="0.3" stroke-opacity="0.7"/></g>
<g opacity="0.74"><circle cx="152.3" cy="299.6" r="1" fill="#4f7be8"/><circle cx="152.3" cy="299.6" r="1" fill="none" stroke="#456" stroke-width="0.3" stroke-opacity="0.7"/></g>
<g opacity="0.74"><path d="M128.7,308.7 L131.5,308.7 A2.8,2.8 0 1 1 129.57,306.04 Z" fill="#4f7be8"/><path d="M128.7,308.7 L129.57,306.04 A2.8,2.8 0 0 1 131.5,308.7 Z" fill="#e8202a"/><circle cx="128.7" cy="308.7" r="2.8" fill="none" stroke="#456" stroke-width="0.3" stroke-opacity="0.7"/></g>
<g opacity="0.74"><path d="M144.6,313.5 L148.3,313.5 A3.7,3.7 0 1 1 145.74,309.98 Z" fill="#4f7be8"/><path d="M144.6,313.5 L145.74,309.98 A3.7,3.7 0 0 1 148.3,313.5 Z" fill="#e8202a"/><circle cx="144.6" cy="313.5" r="3.7" fill="none" stroke="#456" stroke-width="0.3" stroke-opacity="0.7"/></g>
<g opacity="0.74"><path d="M153.8,313.5 L153.8,318.6 A5.1,5.1 0 0 1 153.8,308.4 Z" fill="#b9e3cf"/><path d="M153.8,313.5 L153.8,308.4 A5.1,5.1 0 0 1 154.76,318.51 Z" fill="#0cf0f5"/><path d="M153.8,313.5 L154.76,318.51 A5.1,5.1 0 0 1 153.8,318.6 Z" fill="#ee55dd"/><circle cx="153.8" cy="313.5" r="5.1" fill="none" stroke="#456" stroke-width="0.3" stroke-opacity="0.7"/></g>
<g opacity="0.74"><path d="M119,317.2 L122,317.2 A3,3 0 1 1 118.07,314.35 Z" fill="#4f7be8"/><path d="M119,317.2 L118.07,314.35 A3,3 0 0 1 122,317.2 Z" fill="#e8202a"/><circle cx="119" cy="317.2" r="3" fill="none" stroke="#456" stroke-width="0.3" stroke-opacity="0.7"/></g>
<g opacity="0.74"><path d="M130.3,322.8 L132.3,322.8 A2,2 0 1 1 128.68,321.62 Z" fill="#4f7be8"/><path d="M130.3,322.8 L128.68,321.62 A2,2 0 0 1 132.3,322.8 Z" fill="#e8202a"/><circle cx="130.3" cy="322.8" r="2" fill="none" stroke="#456" stroke-width="0.3" stroke-opacity="0.7"/></g>
<g opacity="0.74"><path d="M124.8,326.9 L127.8,326.9 A3,3 0 1 1 127.23,325.14 Z" fill="#4f7be8"/><path d="M124.8,326.9 L127.23,325.14 A3,3 0 0 1 127.8,326.9 Z" fill="#e8202a"/><circle cx="124.8" cy="326.9" r="3" fill="none" stroke="#456" stroke-width="0.3" stroke-opacity="0.7"/></g>
<g opacity="0.74"><path d="M133,331.9 L136,331.9 A3,3 0 1 1 133.93,329.05 Z" fill="#4f7be8"/><path d="M133,331.9 L133.93,329.05 A3,3 0 0 1 136,331.9 Z" fill="#e8202a"/><circle cx="133" cy="331.9" r="3" fill="none" stroke="#456" stroke-width="0.3" stroke-opacity="0.7"/></g>
<g opacity="0.74"><circle cx="138.9" cy="331.9" r="2" fill="#0cf0f5"/><circle cx="138.9" cy="331.9" r="2" fill="none" stroke="#456" stroke-width="0.3" stroke-opacity="0.7"/></g>
<g opacity="0.74"><path d="M118.6,330.9 L121.1,330.9 A2.5,2.5 0 1 1 116.58,329.43 Z" fill="#e8202a"/><path d="M118.6,330.9 L116.58,329.43 A2.5,2.5 0 0 1 121.1,330.9 Z" fill="#f7e11a"/><circle cx="118.6" cy="330.9" r="2.5" fill="none" stroke="#456" stroke-width="0.3" stroke-opacity="0.7"/></g>
<g opacity="0.74"><circle cx="113.3" cy="339.9" r="2" fill="#4f7be8"/><circle cx="113.3" cy="339.9" r="2" fill="none" stroke="#456" stroke-width="0.3" stroke-opacity="0.7"/></g>
<g opacity="0.74"><path d="M146.6,336.4 L149.6,336.4 A3,3 0 1 1 144.17,334.64 Z" fill="#b9e3cf"/><path d="M146.6,336.4 L144.17,334.64 A3,3 0 0 1 149.6,336.4 Z" fill="#0cf0f5"/><circle cx="146.6" cy="336.4" r="3" fill="none" stroke="#456" stroke-width="0.3" stroke-opacity="0.7"/></g>
<g opacity="0.74"><circle cx="124.2" cy="343.4" r="2" fill="#0cf0f5"/><circle cx="124.2" cy="343.4" r="2" fill="none" stroke="#456" stroke-width="0.3" stroke-opacity="0.7"/></g>
<g opacity="0.74"><circle cx="155.8" cy="345.6" r="2" fill="#0cf0f5"/><circle cx="155.8" cy="345.6" r="2" fill="none" stroke="#456" stroke-width="0.3" stroke-opacity="0.7"/></g>
<g opacity="0.74"><path d="M113.9,359.1 L116.5,359.1 A2.6,2.6 0 1 1 114.7,356.63 Z" fill="#4f7be8"/><path d="M113.9,359.1 L114.7,356.63 A2.6,2.6 0 0 1 116.5,359.1 Z" fill="#e8202a"/><circle cx="113.9" cy="359.1" r="2.6" fill="none" stroke="#456" stroke-width="0.3" stroke-opacity="0.7"/></g>
<g opacity="0.74"><circle cx="119.1" cy="359.1" r="1.4" fill="#0cf0f5"/><circle cx="119.1" cy="359.1" r="1.4" fill="none" stroke="#456" stroke-width="0.3" stroke-opacity="0.7"/></g>
<g opacity="0.74"><path d="M130.9,350.6 L132.9,350.6 A2,2 0 1 1 130.28,348.7 Z" fill="#0cf0f5"/><path d="M130.9,350.6 L130.28,348.7 A2,2 0 0 1 132.9,350.6 Z" fill="#f0a800"/><circle cx="130.9" cy="350.6" r="2" fill="none" stroke="#456" stroke-width="0.3" stroke-opacity="0.7"/></g>
<g opacity="0.74"><circle cx="126.8" cy="367.2" r="1.1" fill="#0cf0f5"/><circle cx="126.8" cy="367.2" r="1.1" fill="none" stroke="#456" stroke-width="0.3" stroke-opacity="0.7"/></g>
<g opacity="0.74"><circle cx="140.1" cy="355.4" r="1.5" fill="#e8202a"/><circle cx="140.1" cy="355.4" r="1.5" fill="none" stroke="#456" stroke-width="0.3" stroke-opacity="0.7"/></g>
<g opacity="0.74"><circle cx="144" cy="355.4" r="1.5" fill="#0cf0f5"/><circle cx="144" cy="355.4" r="1.5" fill="none" stroke="#456" stroke-width="0.3" stroke-opacity="0.7"/></g>
<g opacity="0.74"><circle cx="135" cy="376" r="1.5" fill="#4f7be8"/><circle cx="135" cy="376" r="1.5" fill="none" stroke="#456" stroke-width="0.3" stroke-opacity="0.7"/></g>
<g opacity="0.74"><circle cx="137.4" cy="376" r="1.5" fill="#0cf0f5"/><circle cx="137.4" cy="376" r="1.5" fill="none" stroke="#456" stroke-width="0.3" stroke-opacity="0.7"/></g>
<g opacity="0.74"><circle cx="148" cy="373.7" r="1.1" fill="#0cf0f5"/><circle cx="148" cy="373.7" r="1.1" fill="none" stroke="#456" stroke-width="0.3" stroke-opacity="0.7"/></g>
<g opacity="0.74"><path d="M145.2,378.4 L146.9,378.4 A1.7,1.7 0 0 1 143.5,378.4 Z" fill="#4f7be8"/><path d="M145.2,378.4 L143.5,378.4 A1.7,1.7 0 0 1 146.9,378.4 Z" fill="#e8202a"/><circle cx="145.2" cy="378.4" r="1.7" fill="none" stroke="#456" stroke-width="0.3" stroke-opacity="0.7"/></g>
<g opacity="0.74"><circle cx="139.5" cy="381.5" r="1.6" fill="#e8202a"/><circle cx="139.5" cy="381.5" r="1.6" fill="none" stroke="#456" stroke-width="0.3" stroke-opacity="0.7"/></g>
<g opacity="0.74"><circle cx="151.8" cy="387.6" r="1.3" fill="#4f7be8"/><circle cx="151.8" cy="387.6" r="1.3" fill="none" stroke="#456" stroke-width="0.3" stroke-opacity="0.7"/></g>
<g opacity="0.74"><circle cx="154.8" cy="387.5" r="1.3" fill="#0cf0f5"/><circle cx="154.8" cy="387.5" r="1.3" fill="none" stroke="#456" stroke-width="0.3" stroke-opacity="0.7"/></g>
<g opacity="0.74"><circle cx="152.4" cy="392.3" r="1.5" fill="#4f7be8"/><circle cx="152.4" cy="392.3" r="1.5" fill="none" stroke="#456" stroke-width="0.3" stroke-opacity="0.7"/></g>
<g opacity="0.74"><circle cx="153.8" cy="396.9" r="1.5" fill="#4f7be8"/><circle cx="153.8" cy="396.9" r="1.5" fill="none" stroke="#456" stroke-width="0.3" stroke-opacity="0.7"/></g>
<g opacity="0.74"><circle cx="157.9" cy="396.9" r="1.5" fill="#0cf0f5"/><circle cx="157.9" cy="396.9" r="1.5" fill="none" stroke="#456" stroke-width="0.3" stroke-opacity="0.7"/></g>
<g opacity="0.74"><path d="M154.8,401.4 L156.4,401.4 A1.6,1.6 0 1 1 153.51,400.46 Z" fill="#4f7be8"/><path d="M154.8,401.4 L153.51,400.46 A1.6,1.6 0 0 1 156.4,401.4 Z" fill="#e8202a"/><circle cx="154.8" cy="401.4" r="1.6" fill="none" stroke="#456" stroke-width="0.3" stroke-opacity="0.7"/></g>
<g opacity="0.74"><circle cx="158.3" cy="401.6" r="1.4" fill="#ee55dd"/><circle cx="158.3" cy="401.6" r="1.4" fill="none" stroke="#456" stroke-width="0.3" stroke-opacity="0.7"/></g>
<g opacity="0.74"><circle cx="193.6" cy="406" r="1.1" fill="#0cf0f5"/><circle cx="193.6" cy="406" r="1.1" fill="none" stroke="#456" stroke-width="0.3" stroke-opacity="0.7"/></g>
<g opacity="0.74"><path d="M194.2,410.6 L195.7,410.6 A1.5,1.5 0 1 1 193.74,409.17 Z" fill="#0cf0f5"/><path d="M194.2,410.6 L193.74,409.17 A1.5,1.5 0 0 1 195.7,410.6 Z" fill="#ee55dd"/><circle cx="194.2" cy="410.6" r="1.5" fill="none" stroke="#456" stroke-width="0.3" stroke-opacity="0.7"/></g>
<g opacity="0.74"><circle cx="147.7" cy="427.9" r="1.2" fill="#e8202a"/><circle cx="147.7" cy="427.9" r="1.2" fill="none" stroke="#456" stroke-width="0.3" stroke-opacity="0.7"/></g>
<g opacity="0.74"><circle cx="166.1" cy="424.4" r="1.1" fill="#4f7be8"/><circle cx="166.1" cy="424.4" r="1.1" fill="none" stroke="#456" stroke-width="0.3" stroke-opacity="0.7"/></g>
<g opacity="0.74"><circle cx="149.3" cy="441.8" r="1.3" fill="#4f7be8"/><circle cx="149.3" cy="441.8" r="1.3" fill="none" stroke="#456" stroke-width="0.3" stroke-opacity="0.7"/></g>
<g opacity="0.74"><circle cx="152.2" cy="441.8" r="1.5" fill="#0cf0f5"/><circle cx="152.2" cy="441.8" r="1.5" fill="none" stroke="#456" stroke-width="0.3" stroke-opacity="0.7"/></g>
<g opacity="0.74"><path d="M169.5,438.3 L171.5,438.3 A2,2 0 1 1 167.88,437.12 Z" fill="#4f7be8"/><path d="M169.5,438.3 L167.88,437.12 A2,2 0 0 1 171.5,438.3 Z" fill="#e8202a"/><circle cx="169.5" cy="438.3" r="2" fill="none" stroke="#456" stroke-width="0.3" stroke-opacity="0.7"/></g>
<g opacity="0.74"><circle cx="169.5" cy="444.9" r="1.1" fill="#0cf0f5"/><circle cx="169.5" cy="444.9" r="1.1" fill="none" stroke="#456" stroke-width="0.3" stroke-opacity="0.7"/></g>
</g>
<line x1="6.8" y1="140.4" x2="9.4" y2="140.4" stroke="#111" stroke-width="0.7"/>
<text x="140.7" y="131.1" font-size="6.6" font-weight="bold" fill="#128212" text-anchor="middle">X</text>
<text x="135" y="158.7" font-size="6.6" font-weight="bold" fill="#128212" text-anchor="middle">X</text>
<text x="101" y="177.1" font-size="6.6" font-weight="bold" fill="#128212" text-anchor="middle">X</text>
<text x="88.3" y="195.6" font-size="6.6" font-weight="bold" fill="#128212" text-anchor="middle">X</text>
<text x="124.2" y="352.3" font-size="6.6" font-weight="bold" fill="#128212" text-anchor="middle">X</text>
<text x="170.2" y="274" font-size="16.5" fill="#b51a14" stroke="#b51a14" stroke-width="0.25" textLength="6.6" lengthAdjust="spacingAndGlyphs">?</text>
<text x="168.1" y="333.6" font-size="16.5" fill="#b51a14" stroke="#b51a14" stroke-width="0.25" textLength="6.6" lengthAdjust="spacingAndGlyphs">?</text>
<text x="1.8" y="320.9" font-size="9.3" font-weight="bold" font-style="normal" fill="#000" text-anchor="start" textLength="76.8" lengthAdjust="spacingAndGlyphs" >Number of genes lost</text>
<text x="16.2" y="332.1" font-size="9.3" font-weight="bold" font-style="normal" fill="#000" text-anchor="start" textLength="49.8" lengthAdjust="spacingAndGlyphs" >on the branch</text>
<circle cx="29.7" cy="347.3" r="0.9" fill="#fff" stroke="#222" stroke-width="0.55"/>
<circle cx="29.7" cy="352.1" r="2.6" fill="#fff" stroke="#222" stroke-width="0.55"/>
<circle cx="29.7" cy="359" r="3.9" fill="#fff" stroke="#222" stroke-width="0.55"/>
<circle cx="29.7" cy="368.5" r="5.3" fill="#fff" stroke="#222" stroke-width="0.55"/>
<circle cx="29.7" cy="382.4" r="8.0" fill="#fff" stroke="#222" stroke-width="0.55"/>
<text x="40.8" y="346.9" font-size="7.3" font-weight="normal" font-style="normal" fill="#333" text-anchor="start" textLength="3.05" lengthAdjust="spacingAndGlyphs" >1</text>
<text x="40.8" y="354.7" font-size="7.3" font-weight="normal" font-style="normal" fill="#333" text-anchor="start" textLength="3.05" lengthAdjust="spacingAndGlyphs" >5</text>
<text x="40.8" y="362.1" font-size="7.3" font-weight="normal" font-style="normal" fill="#333" text-anchor="start" textLength="6.09" lengthAdjust="spacingAndGlyphs" >10</text>
<text x="40.8" y="371" font-size="7.3" font-weight="normal" font-style="normal" fill="#333" text-anchor="start" textLength="6.09" lengthAdjust="spacingAndGlyphs" >20</text>
<text x="40.8" y="385" font-size="7.3" font-weight="normal" font-style="normal" fill="#333" text-anchor="start" textLength="6.09" lengthAdjust="spacingAndGlyphs" >50</text>
<text x="2.1" y="407.6" font-size="8.3" font-weight="bold" font-style="normal" fill="#000" text-anchor="start" textLength="87.2" lengthAdjust="spacingAndGlyphs" >Categories of genes lost</text>
<text x="4.7" y="416.8" font-size="5.4" font-weight="bold" font-style="italic" fill="#000" text-anchor="start" textLength="13.3" lengthAdjust="spacingAndGlyphs" >Vidania</text>
<text x="21.4" y="416.8" font-size="5.4" font-weight="bold" font-style="italic" fill="#000" text-anchor="start" textLength="11.9" lengthAdjust="spacingAndGlyphs" >Sulcia</text>
<rect x="7.5" y="420" width="4.3" height="4.3" fill="#b7e1cd" stroke="#333" stroke-width="0.4"/>
<rect x="22.5" y="420" width="4.3" height="4.3" fill="#44cc11" stroke="#333" stroke-width="0.4"/>
<text x="30.1" y="424.1" font-size="5.45" font-weight="normal" font-style="normal" fill="#333" text-anchor="start" >Biosynthesis</text>
<rect x="7.5" y="426.2" width="4.3" height="4.3" fill="#00e5ee" stroke="#333" stroke-width="0.4"/>
<rect x="22.5" y="426.2" width="4.3" height="4.3" fill="#2266ee" stroke="#333" stroke-width="0.4"/>
<text x="30.1" y="430.3" font-size="5.45" font-weight="normal" font-style="normal" fill="#333" text-anchor="start" >Genetic information processing</text>
<rect x="7.5" y="432.3" width="4.3" height="4.3" fill="#ee44dd" stroke="#333" stroke-width="0.4"/>
<rect x="22.5" y="432.3" width="4.3" height="4.3" fill="#ee0000" stroke="#333" stroke-width="0.4"/>
<text x="30.1" y="436.4" font-size="5.45" font-weight="normal" font-style="normal" fill="#333" text-anchor="start" >Metabolism</text>
<rect x="7.5" y="438.6" width="4.3" height="4.3" fill="#f0a800" stroke="#333" stroke-width="0.4"/>
<rect x="22.5" y="438.6" width="4.3" height="4.3" fill="#ffee00" stroke="#333" stroke-width="0.4"/>
<text x="30.1" y="442.7" font-size="5.45" font-weight="normal" font-style="normal" fill="#333" text-anchor="start" >Other</text>
<text x="7.9" y="452.6" font-size="6.4" font-weight="bold" font-style="normal" fill="#128212" text-anchor="start" textLength="3.6" lengthAdjust="spacingAndGlyphs" >X</text>
<text x="14" y="452.5" font-size="5.2" fill="#222" textLength="48.2" lengthAdjust="spacingAndGlyphs">Loss of <tspan font-style="italic">Sulcia</tspan> symbiont</text>
<text x="8.2" y="460.4" font-size="8.6" font-weight="normal" font-style="normal" fill="#cc2222" text-anchor="start" textLength="3.6" lengthAdjust="spacingAndGlyphs" >?</text>
<text x="14.4" y="458.4" font-size="5.2" fill="#222" textLength="77.2" lengthAdjust="spacingAndGlyphs">Lack of data about <tspan font-style="italic">Vidania</tspan> genes loss</text>
<line x1="297.5" y1="66.65" x2="297.5" y2="450.11" stroke="#d9d9d9" stroke-width="0.5"/>
<line x1="303.4" y1="66.65" x2="303.4" y2="450.11" stroke="#d9d9d9" stroke-width="0.5"/>
<line x1="309.3" y1="66.65" x2="309.3" y2="450.11" stroke="#d9d9d9" stroke-width="0.5"/>
<line x1="315.2" y1="66.65" x2="315.2" y2="450.11" stroke="#d9d9d9" stroke-width="0.5"/>
<line x1="321.1" y1="66.65" x2="321.1" y2="450.11" stroke="#d9d9d9" stroke-width="0.5"/>
<line x1="327" y1="66.65" x2="327" y2="450.11" stroke="#d9d9d9" stroke-width="0.5"/>
<rect x="291.6" y="66.65" width="37.3" height="4.62" fill="#bccab5"/>
<rect x="291.6" y="67.2" width="37" height="3.52" fill="#4f9638"/>
<rect x="291.6" y="71.27" width="36.1" height="4.62" fill="#bccab5"/>
<rect x="291.6" y="71.82" width="35.8" height="3.52" fill="#4f9638"/>
<rect x="291.6" y="75.89" width="36.4" height="4.62" fill="#bccab5"/>
<rect x="291.6" y="76.44" width="36.1" height="3.52" fill="#4f9638"/>
<rect x="291.6" y="80.51" width="37.1" height="4.62" fill="#bccab5"/>
<rect x="291.6" y="81.06" width="36.8" height="3.52" fill="#4f9638"/>
<text x="294.52" y="89.14" font-size="5.5" font-weight="bold" font-style="normal" fill="#2a8a2a" text-anchor="start" textLength="20.37" lengthAdjust="spacingAndGlyphs" >fragmented</text>
<text x="294.52" y="93.76" font-size="5.5" font-weight="bold" font-style="normal" fill="#2a8a2a" text-anchor="start" textLength="20.37" lengthAdjust="spacingAndGlyphs" >fragmented</text>
<rect x="291.6" y="94.37" width="32.2" height="4.62" fill="#bccab5"/>
<rect x="291.6" y="94.92" width="31.9" height="3.52" fill="#4f9638"/>
<rect x="291.6" y="98.99" width="37.1" height="4.62" fill="#bccab5"/>
<rect x="291.6" y="99.54" width="36.8" height="3.52" fill="#4f9638"/>
<rect x="291.6" y="103.61" width="38.4" height="4.62" fill="#bccab5"/>
<rect x="291.6" y="104.16" width="38.1" height="3.52" fill="#4f9638"/>
<rect x="291.6" y="108.23" width="37.1" height="4.62" fill="#bccab5"/>
<rect x="291.6" y="108.78" width="36.8" height="3.52" fill="#4f9638"/>
<text x="294.52" y="116.86" font-size="5.5" font-weight="bold" font-style="normal" fill="#2a8a2a" text-anchor="start" textLength="20.37" lengthAdjust="spacingAndGlyphs" >fragmented</text>
<text x="294.52" y="121.48" font-size="5.5" font-weight="bold" font-style="normal" fill="#2a8a2a" text-anchor="start" textLength="20.37" lengthAdjust="spacingAndGlyphs" >fragmented</text>
<rect x="291.6" y="122.09" width="37.1" height="4.62" fill="#bccab5"/>
<rect x="291.6" y="122.64" width="36.8" height="3.52" fill="#4f9638"/>
<text x="297.01" y="130.72" font-size="5.5" font-weight="bold" font-style="italic" fill="#2a8a2a" text-anchor="start" textLength="15.38" lengthAdjust="spacingAndGlyphs" >ABSENT</text>
<text x="294.52" y="135.34" font-size="5.5" font-weight="bold" font-style="normal" fill="#2a8a2a" text-anchor="start" textLength="20.37" lengthAdjust="spacingAndGlyphs" >fragmented</text>
<text x="294.52" y="139.96" font-size="5.5" font-weight="bold" font-style="normal" fill="#2a8a2a" text-anchor="start" textLength="20.37" lengthAdjust="spacingAndGlyphs" >fragmented</text>
<text x="294.52" y="144.58" font-size="5.5" font-weight="bold" font-style="normal" fill="#2a8a2a" text-anchor="start" textLength="20.37" lengthAdjust="spacingAndGlyphs" >fragmented</text>
<rect x="291.6" y="145.19" width="34.3" height="4.62" fill="#bccab5"/>
<rect x="291.6" y="145.74" width="34" height="3.52" fill="#4f9638"/>
<rect x="291.6" y="149.81" width="35" height="4.62" fill="#bccab5"/>
<rect x="291.6" y="150.36" width="34.7" height="3.52" fill="#4f9638"/>
<text x="297.01" y="158.44" font-size="5.5" font-weight="bold" font-style="italic" fill="#2a8a2a" text-anchor="start" textLength="15.38" lengthAdjust="spacingAndGlyphs" >ABSENT</text>
<rect x="291.6" y="159.05" width="35" height="4.62" fill="#bccab5"/>
<rect x="291.6" y="159.6" width="34.7" height="3.52" fill="#4f9638"/>
<rect x="291.6" y="163.67" width="34.3" height="4.62" fill="#bccab5"/>
<rect x="291.6" y="164.22" width="34" height="3.52" fill="#4f9638"/>
<text x="294.52" y="172.3" font-size="5.5" font-weight="bold" font-style="normal" fill="#2a8a2a" text-anchor="start" textLength="20.37" lengthAdjust="spacingAndGlyphs" >fragmented</text>
<text x="297.01" y="176.92" font-size="5.5" font-weight="bold" font-style="italic" fill="#2a8a2a" text-anchor="start" textLength="15.38" lengthAdjust="spacingAndGlyphs" >ABSENT</text>
<rect x="291.6" y="177.53" width="38" height="4.62" fill="#bccab5"/>
<rect x="291.6" y="178.08" width="37.7" height="3.52" fill="#4f9638"/>
<rect x="291.6" y="182.15" width="42.4" height="4.62" fill="#bccab5"/>
<rect x="291.6" y="182.7" width="42.1" height="3.52" fill="#4f9638"/>
<text x="297.01" y="190.78" font-size="5.5" font-weight="bold" font-style="italic" fill="#2a8a2a" text-anchor="start" textLength="15.38" lengthAdjust="spacingAndGlyphs" >ABSENT</text>
<text x="297.01" y="195.4" font-size="5.5" font-weight="bold" font-style="italic" fill="#2a8a2a" text-anchor="start" textLength="15.38" lengthAdjust="spacingAndGlyphs" >ABSENT</text>
<text x="297.01" y="200.02" font-size="5.5" font-weight="bold" font-style="italic" fill="#2a8a2a" text-anchor="start" textLength="15.38" lengthAdjust="spacingAndGlyphs" >ABSENT</text>
<text x="297.01" y="204.64" font-size="5.5" font-weight="bold" font-style="italic" fill="#2a8a2a" text-anchor="start" textLength="15.38" lengthAdjust="spacingAndGlyphs" >ABSENT</text>
<rect x="291.6" y="205.25" width="33.4" height="4.62" fill="#bccab5"/>
<rect x="291.6" y="205.8" width="33.1" height="3.52" fill="#4f9638"/>
<rect x="291.6" y="209.87" width="35.4" height="4.62" fill="#bccab5"/>
<rect x="291.6" y="210.42" width="35.1" height="3.52" fill="#4f9638"/>
<rect x="291.6" y="214.49" width="34.9" height="4.62" fill="#bccab5"/>
<rect x="291.6" y="215.04" width="34.6" height="3.52" fill="#4f9638"/>
<rect x="291.6" y="219.11" width="34.9" height="4.62" fill="#bccab5"/>
<rect x="291.6" y="219.66" width="34.6" height="3.52" fill="#4f9638"/>
<rect x="291.6" y="223.73" width="34.4" height="4.62" fill="#bccab5"/>
<rect x="291.6" y="224.28" width="34.1" height="3.52" fill="#4f9638"/>
<rect x="291.6" y="228.35" width="33.9" height="4.62" fill="#bccab5"/>
<rect x="291.6" y="228.9" width="33.6" height="3.52" fill="#4f9638"/>
<rect x="291.6" y="232.97" width="33.9" height="4.62" fill="#bccab5"/>
<rect x="291.6" y="233.52" width="33.6" height="3.52" fill="#4f9638"/>
<rect x="291.6" y="237.59" width="33.9" height="4.62" fill="#bccab5"/>
<rect x="291.6" y="238.14" width="33.6" height="3.52" fill="#4f9638"/>
<rect x="291.6" y="242.21" width="33.9" height="4.62" fill="#bccab5"/>
<rect x="291.6" y="242.76" width="33.6" height="3.52" fill="#4f9638"/>
<rect x="291.6" y="246.83" width="33.9" height="4.62" fill="#bccab5"/>
<rect x="291.6" y="247.38" width="33.6" height="3.52" fill="#4f9638"/>
<rect x="291.6" y="251.45" width="33.4" height="4.62" fill="#bccab5"/>
<rect x="291.6" y="252" width="33.1" height="3.52" fill="#4f9638"/>
<rect x="291.6" y="256.07" width="33.4" height="4.62" fill="#bccab5"/>
<rect x="291.6" y="256.62" width="33.1" height="3.52" fill="#4f9638"/>
<rect x="291.6" y="260.69" width="33.4" height="4.62" fill="#bccab5"/>
<rect x="291.6" y="261.24" width="33.1" height="3.52" fill="#4f9638"/>
<rect x="291.6" y="265.31" width="33.4" height="4.62" fill="#bccab5"/>
<rect x="291.6" y="265.86" width="33.1" height="3.52" fill="#4f9638"/>
<rect x="291.6" y="269.93" width="33.4" height="4.62" fill="#bccab5"/>
<rect x="291.6" y="270.48" width="33.1" height="3.52" fill="#4f9638"/>
<rect x="291.6" y="274.55" width="33.4" height="4.62" fill="#bccab5"/>
<rect x="291.6" y="275.1" width="33.1" height="3.52" fill="#4f9638"/>
<rect x="291.6" y="279.17" width="33.4" height="4.62" fill="#bccab5"/>
<rect x="291.6" y="279.72" width="33.1" height="3.52" fill="#4f9638"/>
<rect x="291.6" y="283.79" width="33.4" height="4.62" fill="#bccab5"/>
<rect x="291.6" y="284.34" width="33.1" height="3.52" fill="#4f9638"/>
<rect x="291.6" y="288.41" width="33.4" height="4.62" fill="#bccab5"/>
<rect x="291.6" y="288.96" width="33.1" height="3.52" fill="#4f9638"/>
<rect x="291.6" y="293.03" width="33.4" height="4.62" fill="#bccab5"/>
<rect x="291.6" y="293.58" width="33.1" height="3.52" fill="#4f9638"/>
<rect x="291.6" y="297.65" width="33.4" height="4.62" fill="#bccab5"/>
<rect x="291.6" y="298.2" width="33.1" height="3.52" fill="#4f9638"/>
<rect x="291.6" y="302.27" width="33.4" height="4.62" fill="#bccab5"/>
<rect x="291.6" y="302.82" width="33.1" height="3.52" fill="#4f9638"/>
<rect x="291.6" y="306.89" width="33.4" height="4.62" fill="#bccab5"/>
<rect x="291.6" y="307.44" width="33.1" height="3.52" fill="#4f9638"/>
<rect x="291.6" y="311.51" width="35.4" height="4.62" fill="#bccab5"/>
<rect x="291.6" y="312.06" width="35.1" height="3.52" fill="#4f9638"/>
<rect x="291.6" y="316.13" width="34.4" height="4.62" fill="#bccab5"/>
<rect x="291.6" y="316.68" width="34.1" height="3.52" fill="#4f9638"/>
<rect x="291.6" y="320.75" width="35.9" height="4.62" fill="#bccab5"/>
<rect x="291.6" y="321.3" width="35.6" height="3.52" fill="#4f9638"/>
<rect x="291.6" y="325.37" width="33.4" height="4.62" fill="#bccab5"/>
<rect x="291.6" y="325.92" width="33.1" height="3.52" fill="#4f9638"/>
<rect x="291.6" y="329.99" width="32.4" height="4.62" fill="#bccab5"/>
<rect x="291.6" y="330.54" width="32.1" height="3.52" fill="#4f9638"/>
<rect x="291.6" y="334.61" width="33.4" height="4.62" fill="#bccab5"/>
<rect x="291.6" y="335.16" width="33.1" height="3.52" fill="#4f9638"/>
<text x="294.52" y="343.24" font-size="5.5" font-weight="bold" font-style="normal" fill="#2a8a2a" text-anchor="start" textLength="20.37" lengthAdjust="spacingAndGlyphs" >fragmented</text>
<text x="294.52" y="347.86" font-size="5.5" font-weight="bold" font-style="normal" fill="#2a8a2a" text-anchor="start" textLength="20.37" lengthAdjust="spacingAndGlyphs" >fragmented</text>
<text x="297.01" y="352.48" font-size="5.5" font-weight="bold" font-style="italic" fill="#2a8a2a" text-anchor="start" textLength="15.38" lengthAdjust="spacingAndGlyphs" >ABSENT</text>
<rect x="291.6" y="353.09" width="32.9" height="4.62" fill="#bccab5"/>
<rect x="291.6" y="353.64" width="32.6" height="3.52" fill="#4f9638"/>
<rect x="291.6" y="357.71" width="32.9" height="4.62" fill="#bccab5"/>
<rect x="291.6" y="358.26" width="32.6" height="3.52" fill="#4f9638"/>
<rect x="291.6" y="362.33" width="32.9" height="4.62" fill="#bccab5"/>
<rect x="291.6" y="362.88" width="32.6" height="3.52" fill="#4f9638"/>
<rect x="291.6" y="366.95" width="32.9" height="4.62" fill="#bccab5"/>
<rect x="291.6" y="367.5" width="32.6" height="3.52" fill="#4f9638"/>
<rect x="291.6" y="371.57" width="32.9" height="4.62" fill="#bccab5"/>
<rect x="291.6" y="372.12" width="32.6" height="3.52" fill="#4f9638"/>
<rect x="291.6" y="376.19" width="32.9" height="4.62" fill="#bccab5"/>
<rect x="291.6" y="376.74" width="32.6" height="3.52" fill="#4f9638"/>
<text x="294.83" y="384.82" font-size="5.5" font-weight="bold" font-style="normal" fill="#2a8a2a" text-anchor="start" textLength="19.74" lengthAdjust="spacingAndGlyphs" >incomplete</text>
<rect x="291.6" y="385.43" width="33.9" height="4.62" fill="#bccab5"/>
<rect x="291.6" y="385.98" width="33.6" height="3.52" fill="#4f9638"/>
<rect x="291.6" y="390.05" width="34.4" height="4.62" fill="#bccab5"/>
<rect x="291.6" y="390.6" width="34.1" height="3.52" fill="#4f9638"/>
<rect x="291.6" y="394.67" width="34.9" height="4.62" fill="#bccab5"/>
<rect x="291.6" y="395.22" width="34.6" height="3.52" fill="#4f9638"/>
<rect x="291.6" y="399.29" width="33.9" height="4.62" fill="#bccab5"/>
<rect x="291.6" y="399.84" width="33.6" height="3.52" fill="#4f9638"/>
<rect x="291.6" y="403.91" width="33.9" height="4.62" fill="#bccab5"/>
<rect x="291.6" y="404.46" width="33.6" height="3.52" fill="#4f9638"/>
<rect x="291.6" y="408.53" width="33.9" height="4.62" fill="#bccab5"/>
<rect x="291.6" y="409.08" width="33.6" height="3.52" fill="#4f9638"/>
<rect x="291.6" y="413.15" width="33.9" height="4.62" fill="#bccab5"/>
<rect x="291.6" y="413.7" width="33.6" height="3.52" fill="#4f9638"/>
<rect x="291.6" y="417.77" width="33.9" height="4.62" fill="#bccab5"/>
<rect x="291.6" y="418.32" width="33.6" height="3.52" fill="#4f9638"/>
<rect x="291.6" y="422.39" width="33.4" height="4.62" fill="#bccab5"/>
<rect x="291.6" y="422.94" width="33.1" height="3.52" fill="#4f9638"/>
<rect x="291.6" y="427.01" width="33.4" height="4.62" fill="#bccab5"/>
<rect x="291.6" y="427.56" width="33.1" height="3.52" fill="#4f9638"/>
<rect x="291.6" y="431.63" width="33.4" height="4.62" fill="#bccab5"/>
<rect x="291.6" y="432.18" width="33.1" height="3.52" fill="#4f9638"/>
<rect x="291.6" y="436.25" width="33.4" height="4.62" fill="#bccab5"/>
<rect x="291.6" y="436.8" width="33.1" height="3.52" fill="#4f9638"/>
<rect x="291.6" y="440.87" width="33.4" height="4.62" fill="#bccab5"/>
<rect x="291.6" y="441.42" width="33.1" height="3.52" fill="#4f9638"/>
<rect x="291.6" y="445.49" width="33.4" height="4.62" fill="#bccab5"/>
<rect x="291.6" y="446.04" width="33.1" height="3.52" fill="#4f9638"/>
<line x1="291.3" y1="66.65" x2="291.3" y2="451.11" stroke="#222" stroke-width="0.6"/>
<rect x="334.35" y="66.95" width="9.3" height="4.02" fill="#00441b"/>
<rect x="344.35" y="66.95" width="9.3" height="4.02" fill="#00441b"/>
<rect x="354.45" y="67.12" width="9.1" height="3.67" fill="#f7fcf5" stroke="#909090" stroke-width="0.55"/>
<rect x="367.35" y="66.95" width="9.3" height="4.02" fill="#1b843f"/>
<rect x="377.35" y="66.95" width="9.3" height="4.02" fill="#00682a"/>
<rect x="387.35" y="66.95" width="9.3" height="4.02" fill="#1b843f"/>
<rect x="397.35" y="66.95" width="9.3" height="4.02" fill="#1b843f"/>
<rect x="407.35" y="66.95" width="9.3" height="4.02" fill="#00441b"/>
<rect x="417.35" y="66.95" width="9.3" height="4.02" fill="#1b843f"/>
<rect x="427.35" y="66.95" width="9.3" height="4.02" fill="#00441b"/>
<rect x="437.35" y="66.95" width="9.3" height="4.02" fill="#00682a"/>
<rect x="450.65" y="66.95" width="9.3" height="4.02" fill="#1b843f"/>
<rect x="334.35" y="71.57" width="9.3" height="4.02" fill="#00441b"/>
<rect x="344.35" y="71.57" width="9.3" height="4.02" fill="#00441b"/>
<rect x="354.35" y="71.57" width="9.3" height="4.02" fill="#00441b"/>
<rect x="367.35" y="71.57" width="9.3" height="4.02" fill="#00682a"/>
<rect x="377.35" y="71.57" width="9.3" height="4.02" fill="#00441b"/>
<rect x="387.35" y="71.57" width="9.3" height="4.02" fill="#00682a"/>
<rect x="397.35" y="71.57" width="9.3" height="4.02" fill="#00682a"/>
<rect x="407.35" y="71.57" width="9.3" height="4.02" fill="#00441b"/>
<rect x="417.35" y="71.57" width="9.3" height="4.02" fill="#1b843f"/>
<rect x="427.35" y="71.57" width="9.3" height="4.02" fill="#00441b"/>
<rect x="437.35" y="71.57" width="9.3" height="4.02" fill="#00441b"/>
<rect x="450.65" y="71.57" width="9.3" height="4.02" fill="#37a055"/>
<rect x="334.35" y="76.19" width="9.3" height="4.02" fill="#00441b"/>
<rect x="344.35" y="76.19" width="9.3" height="4.02" fill="#00441b"/>
<rect x="354.35" y="76.19" width="9.3" height="4.02" fill="#00441b"/>
<rect x="367.35" y="76.19" width="9.3" height="4.02" fill="#1b843f"/>
<rect x="377.35" y="76.19" width="9.3" height="4.02" fill="#00441b"/>
<rect x="387.35" y="76.19" width="9.3" height="4.02" fill="#37a055"/>
<rect x="397.35" y="76.19" width="9.3" height="4.02" fill="#1b843f"/>
<rect x="407.35" y="76.19" width="9.3" height="4.02" fill="#00441b"/>
<rect x="417.35" y="76.19" width="9.3" height="4.02" fill="#1b843f"/>
<rect x="427.35" y="76.19" width="9.3" height="4.02" fill="#00441b"/>
<rect x="437.35" y="76.19" width="9.3" height="4.02" fill="#00441b"/>
<rect x="450.65" y="76.19" width="9.3" height="4.02" fill="#37a055"/>
<rect x="334.35" y="80.81" width="9.3" height="4.02" fill="#00441b"/>
<rect x="344.35" y="80.81" width="9.3" height="4.02" fill="#00441b"/>
<rect x="354.35" y="80.81" width="9.3" height="4.02" fill="#00441b"/>
<rect x="367.35" y="80.81" width="9.3" height="4.02" fill="#1b843f"/>
<rect x="377.35" y="80.81" width="9.3" height="4.02" fill="#00682a"/>
<rect x="387.35" y="80.81" width="9.3" height="4.02" fill="#1b843f"/>
<rect x="397.35" y="80.81" width="9.3" height="4.02" fill="#1b843f"/>
<rect x="407.35" y="80.81" width="9.3" height="4.02" fill="#00441b"/>
<rect x="417.35" y="80.81" width="9.3" height="4.02" fill="#1b843f"/>
<rect x="427.35" y="80.81" width="9.3" height="4.02" fill="#00441b"/>
<rect x="437.35" y="80.81" width="9.3" height="4.02" fill="#00441b"/>
<rect x="450.65" y="80.81" width="9.3" height="4.02" fill="#37a055"/>
<rect x="334.35" y="94.67" width="9.3" height="4.02" fill="#00441b"/>
<rect x="344.35" y="94.67" width="9.3" height="4.02" fill="#00441b"/>
<rect x="354.45" y="94.84" width="9.1" height="3.67" fill="#f7fcf5" stroke="#909090" stroke-width="0.55"/>
<rect x="367.35" y="94.67" width="9.3" height="4.02" fill="#1b843f"/>
<rect x="377.35" y="94.67" width="9.3" height="4.02" fill="#00441b"/>
<rect x="387.35" y="94.67" width="9.3" height="4.02" fill="#1b843f"/>
<rect x="397.35" y="94.67" width="9.3" height="4.02" fill="#37a055"/>
<rect x="407.35" y="94.67" width="9.3" height="4.02" fill="#00441b"/>
<rect x="417.35" y="94.67" width="9.3" height="4.02" fill="#5db96b"/>
<rect x="427.35" y="94.67" width="9.3" height="4.02" fill="#00441b"/>
<rect x="437.35" y="94.67" width="9.3" height="4.02" fill="#00682a"/>
<rect x="450.65" y="94.67" width="9.3" height="4.02" fill="#37a055"/>
<rect x="334.35" y="99.29" width="9.3" height="4.02" fill="#00441b"/>
<rect x="344.35" y="99.29" width="9.3" height="4.02" fill="#00441b"/>
<rect x="354.45" y="99.47" width="9.1" height="3.67" fill="#f7fcf5" stroke="#909090" stroke-width="0.55"/>
<rect x="367.35" y="99.29" width="9.3" height="4.02" fill="#00682a"/>
<rect x="377.35" y="99.29" width="9.3" height="4.02" fill="#00441b"/>
<rect x="387.35" y="99.29" width="9.3" height="4.02" fill="#00682a"/>
<rect x="397.35" y="99.29" width="9.3" height="4.02" fill="#1b843f"/>
<rect x="407.35" y="99.29" width="9.3" height="4.02" fill="#00441b"/>
<rect x="417.35" y="99.29" width="9.3" height="4.02" fill="#1b843f"/>
<rect x="427.35" y="99.29" width="9.3" height="4.02" fill="#00441b"/>
<rect x="437.35" y="99.29" width="9.3" height="4.02" fill="#00441b"/>
<rect x="450.65" y="99.29" width="9.3" height="4.02" fill="#5db96b"/>
<rect x="334.35" y="103.91" width="9.3" height="4.02" fill="#00441b"/>
<rect x="344.35" y="103.91" width="9.3" height="4.02" fill="#00441b"/>
<rect x="354.35" y="103.91" width="9.3" height="4.02" fill="#00441b"/>
<rect x="367.35" y="103.91" width="9.3" height="4.02" fill="#1b843f"/>
<rect x="377.35" y="103.91" width="9.3" height="4.02" fill="#00441b"/>
<rect x="387.35" y="103.91" width="9.3" height="4.02" fill="#5db96b"/>
<rect x="397.35" y="103.91" width="9.3" height="4.02" fill="#88cd86"/>
<rect x="407.35" y="103.91" width="9.3" height="4.02" fill="#00441b"/>
<rect x="417.35" y="103.91" width="9.3" height="4.02" fill="#1b843f"/>
<rect x="427.35" y="103.91" width="9.3" height="4.02" fill="#00441b"/>
<rect x="437.35" y="103.91" width="9.3" height="4.02" fill="#00441b"/>
<rect x="450.65" y="103.91" width="9.3" height="4.02" fill="#37a055"/>
<rect x="334.35" y="108.53" width="9.3" height="4.02" fill="#00441b"/>
<rect x="344.35" y="108.53" width="9.3" height="4.02" fill="#00441b"/>
<rect x="354.35" y="108.53" width="9.3" height="4.02" fill="#00441b"/>
<rect x="367.35" y="108.53" width="9.3" height="4.02" fill="#37a055"/>
<rect x="377.35" y="108.53" width="9.3" height="4.02" fill="#00682a"/>
<rect x="387.35" y="108.53" width="9.3" height="4.02" fill="#1b843f"/>
<rect x="397.35" y="108.53" width="9.3" height="4.02" fill="#1b843f"/>
<rect x="407.35" y="108.53" width="9.3" height="4.02" fill="#00441b"/>
<rect x="417.35" y="108.53" width="9.3" height="4.02" fill="#1b843f"/>
<rect x="427.35" y="108.53" width="9.3" height="4.02" fill="#00441b"/>
<rect x="437.35" y="108.53" width="9.3" height="4.02" fill="#00441b"/>
<rect x="450.65" y="108.53" width="9.3" height="4.02" fill="#37a055"/>
<rect x="334.35" y="122.39" width="9.3" height="4.02" fill="#00441b"/>
<rect x="344.35" y="122.39" width="9.3" height="4.02" fill="#00441b"/>
<rect x="354.35" y="122.39" width="9.3" height="4.02" fill="#00441b"/>
<rect x="367.35" y="122.39" width="9.3" height="4.02" fill="#00682a"/>
<rect x="377.35" y="122.39" width="9.3" height="4.02" fill="#00441b"/>
<rect x="387.35" y="122.39" width="9.3" height="4.02" fill="#37a055"/>
<rect x="397.35" y="122.39" width="9.3" height="4.02" fill="#1b843f"/>
<rect x="407.35" y="122.39" width="9.3" height="4.02" fill="#00441b"/>
<rect x="417.35" y="122.39" width="9.3" height="4.02" fill="#37a055"/>
<rect x="427.35" y="122.39" width="9.3" height="4.02" fill="#00441b"/>
<rect x="437.35" y="122.39" width="9.3" height="4.02" fill="#00441b"/>
<rect x="450.65" y="122.39" width="9.3" height="4.02" fill="#37a055"/>
<rect x="334.35" y="145.49" width="9.3" height="4.02" fill="#00441b"/>
<rect x="344.35" y="145.49" width="9.3" height="4.02" fill="#00441b"/>
<rect x="354.35" y="145.49" width="9.3" height="4.02" fill="#00441b"/>
<rect x="367.35" y="145.49" width="9.3" height="4.02" fill="#5db96b"/>
<rect x="377.35" y="145.49" width="9.3" height="4.02" fill="#00441b"/>
<rect x="387.35" y="145.49" width="9.3" height="4.02" fill="#1b843f"/>
<rect x="397.35" y="145.49" width="9.3" height="4.02" fill="#1b843f"/>
<rect x="407.35" y="145.49" width="9.3" height="4.02" fill="#00441b"/>
<rect x="417.35" y="145.49" width="9.3" height="4.02" fill="#37a055"/>
<rect x="427.35" y="145.49" width="9.3" height="4.02" fill="#00441b"/>
<rect x="437.35" y="145.49" width="9.3" height="4.02" fill="#00441b"/>
<rect x="450.65" y="145.49" width="9.3" height="4.02" fill="#00682a"/>
<rect x="334.35" y="150.11" width="9.3" height="4.02" fill="#00441b"/>
<rect x="344.35" y="150.11" width="9.3" height="4.02" fill="#00441b"/>
<rect x="354.45" y="150.28" width="9.1" height="3.67" fill="#f7fcf5" stroke="#909090" stroke-width="0.55"/>
<rect x="367.35" y="150.11" width="9.3" height="4.02" fill="#37a055"/>
<rect x="377.35" y="150.11" width="9.3" height="4.02" fill="#00441b"/>
<rect x="387.35" y="150.11" width="9.3" height="4.02" fill="#1b843f"/>
<rect x="397.35" y="150.11" width="9.3" height="4.02" fill="#1b843f"/>
<rect x="407.35" y="150.11" width="9.3" height="4.02" fill="#00441b"/>
<rect x="417.35" y="150.11" width="9.3" height="4.02" fill="#1b843f"/>
<rect x="427.35" y="150.11" width="9.3" height="4.02" fill="#00441b"/>
<rect x="437.35" y="150.11" width="9.3" height="4.02" fill="#00441b"/>
<rect x="450.65" y="150.11" width="9.3" height="4.02" fill="#00682a"/>
<rect x="334.35" y="159.35" width="9.3" height="4.02" fill="#00441b"/>
<rect x="344.35" y="159.35" width="9.3" height="4.02" fill="#00441b"/>
<rect x="354.45" y="159.53" width="9.1" height="3.67" fill="#f7fcf5" stroke="#909090" stroke-width="0.55"/>
<rect x="367.35" y="159.35" width="9.3" height="4.02" fill="#88cd86"/>
<rect x="377.35" y="159.35" width="9.3" height="4.02" fill="#00441b"/>
<rect x="387.35" y="159.35" width="9.3" height="4.02" fill="#1b843f"/>
<rect x="397.35" y="159.35" width="9.3" height="4.02" fill="#1b843f"/>
<rect x="407.35" y="159.35" width="9.3" height="4.02" fill="#00441b"/>
<rect x="417.35" y="159.35" width="9.3" height="4.02" fill="#1b843f"/>
<rect x="427.35" y="159.35" width="9.3" height="4.02" fill="#00441b"/>
<rect x="437.35" y="159.35" width="9.3" height="4.02" fill="#00441b"/>
<rect x="450.65" y="159.35" width="9.3" height="4.02" fill="#37a055"/>
<rect x="334.35" y="163.97" width="9.3" height="4.02" fill="#00441b"/>
<rect x="344.35" y="163.97" width="9.3" height="4.02" fill="#00441b"/>
<rect x="354.45" y="164.15" width="9.1" height="3.67" fill="#f7fcf5" stroke="#909090" stroke-width="0.55"/>
<rect x="367.35" y="163.97" width="9.3" height="4.02" fill="#5db96b"/>
<rect x="377.35" y="163.97" width="9.3" height="4.02" fill="#00441b"/>
<rect x="387.35" y="163.97" width="9.3" height="4.02" fill="#1b843f"/>
<rect x="397.35" y="163.97" width="9.3" height="4.02" fill="#1b843f"/>
<rect x="407.35" y="163.97" width="9.3" height="4.02" fill="#00441b"/>
<rect x="417.35" y="163.97" width="9.3" height="4.02" fill="#1b843f"/>
<rect x="427.35" y="163.97" width="9.3" height="4.02" fill="#00682a"/>
<rect x="437.35" y="163.97" width="9.3" height="4.02" fill="#00441b"/>
<rect x="450.65" y="163.97" width="9.3" height="4.02" fill="#37a055"/>
<rect x="334.35" y="177.83" width="9.3" height="4.02" fill="#00441b"/>
<rect x="344.35" y="177.83" width="9.3" height="4.02" fill="#00441b"/>
<rect x="354.45" y="178" width="9.1" height="3.67" fill="#f7fcf5" stroke="#909090" stroke-width="0.55"/>
<rect x="367.35" y="177.83" width="9.3" height="4.02" fill="#1b843f"/>
<rect x="377.35" y="177.83" width="9.3" height="4.02" fill="#00441b"/>
<rect x="387.35" y="177.83" width="9.3" height="4.02" fill="#1b843f"/>
<rect x="397.35" y="177.83" width="9.3" height="4.02" fill="#1b843f"/>
<rect x="407.35" y="177.83" width="9.3" height="4.02" fill="#00441b"/>
<rect x="417.35" y="177.83" width="9.3" height="4.02" fill="#aedea7"/>
<rect x="427.35" y="177.83" width="9.3" height="4.02" fill="#00441b"/>
<rect x="437.35" y="177.83" width="9.3" height="4.02" fill="#00441b"/>
<rect x="450.65" y="177.83" width="9.3" height="4.02" fill="#1b843f"/>
<rect x="334.35" y="182.45" width="9.3" height="4.02" fill="#00441b"/>
<rect x="344.35" y="182.45" width="9.3" height="4.02" fill="#00441b"/>
<rect x="354.45" y="182.62" width="9.1" height="3.67" fill="#f7fcf5" stroke="#909090" stroke-width="0.55"/>
<rect x="367.35" y="182.45" width="9.3" height="4.02" fill="#1b843f"/>
<rect x="377.35" y="182.45" width="9.3" height="4.02" fill="#00682a"/>
<rect x="387.35" y="182.45" width="9.3" height="4.02" fill="#1b843f"/>
<rect x="397.35" y="182.45" width="9.3" height="4.02" fill="#1b843f"/>
<rect x="407.35" y="182.45" width="9.3" height="4.02" fill="#00441b"/>
<rect x="417.35" y="182.45" width="9.3" height="4.02" fill="#88cd86"/>
<rect x="427.35" y="182.45" width="9.3" height="4.02" fill="#00441b"/>
<rect x="437.35" y="182.45" width="9.3" height="4.02" fill="#00441b"/>
<rect x="450.65" y="182.45" width="9.3" height="4.02" fill="#37a055"/>
<rect x="334.35" y="205.55" width="9.3" height="4.02" fill="#00441b"/>
<rect x="344.35" y="205.55" width="9.3" height="4.02" fill="#00441b"/>
<rect x="354.45" y="205.72" width="9.1" height="3.67" fill="#f7fcf5" stroke="#909090" stroke-width="0.55"/>
<rect x="367.35" y="205.55" width="9.3" height="4.02" fill="#00682a"/>
<rect x="377.35" y="205.55" width="9.3" height="4.02" fill="#00441b"/>
<rect x="387.35" y="205.55" width="9.3" height="4.02" fill="#2a924a"/>
<rect x="397.35" y="205.55" width="9.3" height="4.02" fill="#0c7734"/>
<rect x="407.35" y="205.55" width="9.3" height="4.02" fill="#00441b"/>
<rect x="417.35" y="205.55" width="9.3" height="4.02" fill="#47ae60"/>
<rect x="427.35" y="205.55" width="9.3" height="4.02" fill="#00441b"/>
<rect x="437.35" y="205.55" width="9.3" height="4.02" fill="#00441b"/>
<rect x="450.65" y="205.55" width="9.3" height="4.02" fill="#1b843f"/>
<rect x="334.35" y="210.17" width="9.3" height="4.02" fill="#00441b"/>
<rect x="344.35" y="210.17" width="9.3" height="4.02" fill="#00441b"/>
<rect x="354.45" y="210.34" width="9.1" height="3.67" fill="#f7fcf5" stroke="#909090" stroke-width="0.55"/>
<rect x="367.35" y="210.17" width="9.3" height="4.02" fill="#00682a"/>
<rect x="377.35" y="210.17" width="9.3" height="4.02" fill="#00441b"/>
<rect x="387.35" y="210.17" width="9.3" height="4.02" fill="#2a924a"/>
<rect x="397.35" y="210.17" width="9.3" height="4.02" fill="#0c7734"/>
<rect x="407.35" y="210.17" width="9.3" height="4.02" fill="#00441b"/>
<rect x="417.35" y="210.17" width="9.3" height="4.02" fill="#47ae60"/>
<rect x="427.35" y="210.17" width="9.3" height="4.02" fill="#00441b"/>
<rect x="437.35" y="210.17" width="9.3" height="4.02" fill="#00441b"/>
<rect x="450.65" y="210.17" width="9.3" height="4.02" fill="#1b843f"/>
<rect x="334.35" y="214.79" width="9.3" height="4.02" fill="#00441b"/>
<rect x="344.35" y="214.79" width="9.3" height="4.02" fill="#00441b"/>
<rect x="354.45" y="214.97" width="9.1" height="3.67" fill="#f7fcf5" stroke="#909090" stroke-width="0.55"/>
<rect x="367.35" y="214.79" width="9.3" height="4.02" fill="#00682a"/>
<rect x="377.35" y="214.79" width="9.3" height="4.02" fill="#00441b"/>
<rect x="387.35" y="214.79" width="9.3" height="4.02" fill="#2a924a"/>
<rect x="397.35" y="214.79" width="9.3" height="4.02" fill="#0c7734"/>
<rect x="407.35" y="214.79" width="9.3" height="4.02" fill="#00441b"/>
<rect x="417.35" y="214.79" width="9.3" height="4.02" fill="#47ae60"/>
<rect x="427.35" y="214.79" width="9.3" height="4.02" fill="#00441b"/>
<rect x="437.35" y="214.79" width="9.3" height="4.02" fill="#00441b"/>
<rect x="450.65" y="214.79" width="9.3" height="4.02" fill="#1b843f"/>
<rect x="334.35" y="219.41" width="9.3" height="4.02" fill="#00441b"/>
<rect x="344.35" y="219.41" width="9.3" height="4.02" fill="#00441b"/>
<rect x="354.45" y="219.59" width="9.1" height="3.67" fill="#f7fcf5" stroke="#909090" stroke-width="0.55"/>
<rect x="367.35" y="219.41" width="9.3" height="4.02" fill="#00682a"/>
<rect x="377.35" y="219.41" width="9.3" height="4.02" fill="#00441b"/>
<rect x="387.35" y="219.41" width="9.3" height="4.02" fill="#2a924a"/>
<rect x="397.35" y="219.41" width="9.3" height="4.02" fill="#0c7734"/>
<rect x="407.35" y="219.41" width="9.3" height="4.02" fill="#00441b"/>
<rect x="417.35" y="219.41" width="9.3" height="4.02" fill="#47ae60"/>
<rect x="427.35" y="219.41" width="9.3" height="4.02" fill="#00441b"/>
<rect x="437.35" y="219.41" width="9.3" height="4.02" fill="#00441b"/>
<rect x="450.65" y="219.41" width="9.3" height="4.02" fill="#1b843f"/>
<rect x="334.35" y="224.03" width="9.3" height="4.02" fill="#00441b"/>
<rect x="344.35" y="224.03" width="9.3" height="4.02" fill="#00441b"/>
<rect x="354.45" y="224.21" width="9.1" height="3.67" fill="#f7fcf5" stroke="#909090" stroke-width="0.55"/>
<rect x="367.35" y="224.03" width="9.3" height="4.02" fill="#00682a"/>
<rect x="377.35" y="224.03" width="9.3" height="4.02" fill="#00441b"/>
<rect x="387.35" y="224.03" width="9.3" height="4.02" fill="#2a924a"/>
<rect x="397.35" y="224.03" width="9.3" height="4.02" fill="#0c7734"/>
<rect x="407.35" y="224.03" width="9.3" height="4.02" fill="#00441b"/>
<rect x="417.35" y="224.03" width="9.3" height="4.02" fill="#47ae60"/>
<rect x="427.35" y="224.03" width="9.3" height="4.02" fill="#00441b"/>
<rect x="437.35" y="224.03" width="9.3" height="4.02" fill="#00441b"/>
<rect x="450.65" y="224.03" width="9.3" height="4.02" fill="#1b843f"/>
<rect x="334.35" y="228.65" width="9.3" height="4.02" fill="#00441b"/>
<rect x="344.35" y="228.65" width="9.3" height="4.02" fill="#00441b"/>
<rect x="354.45" y="228.83" width="9.1" height="3.67" fill="#f7fcf5" stroke="#909090" stroke-width="0.55"/>
<rect x="367.35" y="228.65" width="9.3" height="4.02" fill="#00682a"/>
<rect x="377.35" y="228.65" width="9.3" height="4.02" fill="#00441b"/>
<rect x="387.35" y="228.65" width="9.3" height="4.02" fill="#2a924a"/>
<rect x="397.35" y="228.65" width="9.3" height="4.02" fill="#0c7734"/>
<rect x="407.35" y="228.65" width="9.3" height="4.02" fill="#00441b"/>
<rect x="417.35" y="228.65" width="9.3" height="4.02" fill="#47ae60"/>
<rect x="427.35" y="228.65" width="9.3" height="4.02" fill="#00441b"/>
<rect x="437.35" y="228.65" width="9.3" height="4.02" fill="#00441b"/>
<rect x="450.65" y="228.65" width="9.3" height="4.02" fill="#0c7734"/>
<rect x="334.35" y="233.27" width="9.3" height="4.02" fill="#00441b"/>
<rect x="344.35" y="233.27" width="9.3" height="4.02" fill="#00441b"/>
<rect x="354.45" y="233.44" width="9.1" height="3.67" fill="#f7fcf5" stroke="#909090" stroke-width="0.55"/>
<rect x="367.35" y="233.27" width="9.3" height="4.02" fill="#00682a"/>
<rect x="377.35" y="233.27" width="9.3" height="4.02" fill="#00441b"/>
<rect x="387.35" y="233.27" width="9.3" height="4.02" fill="#2a924a"/>
<rect x="397.35" y="233.27" width="9.3" height="4.02" fill="#0c7734"/>
<rect x="407.35" y="233.27" width="9.3" height="4.02" fill="#00441b"/>
<rect x="417.35" y="233.27" width="9.3" height="4.02" fill="#47ae60"/>
<rect x="427.35" y="233.27" width="9.3" height="4.02" fill="#00441b"/>
<rect x="437.35" y="233.27" width="9.3" height="4.02" fill="#00441b"/>
<rect x="450.65" y="233.27" width="9.3" height="4.02" fill="#0c7734"/>
<rect x="334.35" y="237.89" width="9.3" height="4.02" fill="#00441b"/>
<rect x="344.35" y="237.89" width="9.3" height="4.02" fill="#00441b"/>
<rect x="354.45" y="238.06" width="9.1" height="3.67" fill="#f7fcf5" stroke="#909090" stroke-width="0.55"/>
<rect x="367.35" y="237.89" width="9.3" height="4.02" fill="#00682a"/>
<rect x="377.35" y="237.89" width="9.3" height="4.02" fill="#00441b"/>
<rect x="387.35" y="237.89" width="9.3" height="4.02" fill="#2a924a"/>
<rect x="397.35" y="237.89" width="9.3" height="4.02" fill="#0c7734"/>
<rect x="407.35" y="237.89" width="9.3" height="4.02" fill="#00441b"/>
<rect x="417.35" y="237.89" width="9.3" height="4.02" fill="#47ae60"/>
<rect x="427.35" y="237.89" width="9.3" height="4.02" fill="#00441b"/>
<rect x="437.35" y="237.89" width="9.3" height="4.02" fill="#00441b"/>
<rect x="450.65" y="237.89" width="9.3" height="4.02" fill="#0c7734"/>
<rect x="334.35" y="242.51" width="9.3" height="4.02" fill="#00441b"/>
<rect x="344.35" y="242.51" width="9.3" height="4.02" fill="#00441b"/>
<rect x="354.45" y="242.69" width="9.1" height="3.67" fill="#f7fcf5" stroke="#909090" stroke-width="0.55"/>
<rect x="367.35" y="242.51" width="9.3" height="4.02" fill="#00682a"/>
<rect x="377.35" y="242.51" width="9.3" height="4.02" fill="#00441b"/>
<rect x="387.35" y="242.51" width="9.3" height="4.02" fill="#2a924a"/>
<rect x="397.35" y="242.51" width="9.3" height="4.02" fill="#0c7734"/>
<rect x="407.35" y="242.51" width="9.3" height="4.02" fill="#00441b"/>
<rect x="417.35" y="242.51" width="9.3" height="4.02" fill="#47ae60"/>
<rect x="427.35" y="242.51" width="9.3" height="4.02" fill="#00441b"/>
<rect x="437.35" y="242.51" width="9.3" height="4.02" fill="#00441b"/>
<rect x="450.65" y="242.51" width="9.3" height="4.02" fill="#0c7734"/>
<rect x="334.35" y="247.13" width="9.3" height="4.02" fill="#00441b"/>
<rect x="344.35" y="247.13" width="9.3" height="4.02" fill="#00441b"/>
<rect x="354.45" y="247.31" width="9.1" height="3.67" fill="#f7fcf5" stroke="#909090" stroke-width="0.55"/>
<rect x="367.35" y="247.13" width="9.3" height="4.02" fill="#00682a"/>
<rect x="377.35" y="247.13" width="9.3" height="4.02" fill="#00441b"/>
<rect x="387.35" y="247.13" width="9.3" height="4.02" fill="#2a924a"/>
<rect x="397.35" y="247.13" width="9.3" height="4.02" fill="#0c7734"/>
<rect x="407.35" y="247.13" width="9.3" height="4.02" fill="#00441b"/>
<rect x="417.35" y="247.13" width="9.3" height="4.02" fill="#47ae60"/>
<rect x="427.35" y="247.13" width="9.3" height="4.02" fill="#00441b"/>
<rect x="437.35" y="247.13" width="9.3" height="4.02" fill="#00441b"/>
<rect x="450.65" y="247.13" width="9.3" height="4.02" fill="#0c7734"/>
<rect x="334.35" y="251.75" width="9.3" height="4.02" fill="#00441b"/>
<rect x="344.35" y="251.75" width="9.3" height="4.02" fill="#00441b"/>
<rect x="354.45" y="251.93" width="9.1" height="3.67" fill="#f7fcf5" stroke="#909090" stroke-width="0.55"/>
<rect x="367.35" y="251.75" width="9.3" height="4.02" fill="#00682a"/>
<rect x="377.35" y="251.75" width="9.3" height="4.02" fill="#00441b"/>
<rect x="387.35" y="251.75" width="9.3" height="4.02" fill="#2a924a"/>
<rect x="397.35" y="251.75" width="9.3" height="4.02" fill="#0c7734"/>
<rect x="407.35" y="251.75" width="9.3" height="4.02" fill="#00441b"/>
<rect x="417.35" y="251.75" width="9.3" height="4.02" fill="#47ae60"/>
<rect x="427.35" y="251.75" width="9.3" height="4.02" fill="#00441b"/>
<rect x="437.35" y="251.75" width="9.3" height="4.02" fill="#00441b"/>
<rect x="450.65" y="251.75" width="9.3" height="4.02" fill="#0c7734"/>
<rect x="334.35" y="256.37" width="9.3" height="4.02" fill="#00441b"/>
<rect x="344.35" y="256.37" width="9.3" height="4.02" fill="#00441b"/>
<rect x="354.45" y="256.55" width="9.1" height="3.67" fill="#f7fcf5" stroke="#909090" stroke-width="0.55"/>
<rect x="367.35" y="256.37" width="9.3" height="4.02" fill="#00682a"/>
<rect x="377.35" y="256.37" width="9.3" height="4.02" fill="#00441b"/>
<rect x="387.35" y="256.37" width="9.3" height="4.02" fill="#2a924a"/>
<rect x="397.35" y="256.37" width="9.3" height="4.02" fill="#0c7734"/>
<rect x="407.35" y="256.37" width="9.3" height="4.02" fill="#00441b"/>
<rect x="417.35" y="256.37" width="9.3" height="4.02" fill="#47ae60"/>
<rect x="427.35" y="256.37" width="9.3" height="4.02" fill="#00441b"/>
<rect x="437.35" y="256.37" width="9.3" height="4.02" fill="#00441b"/>
<rect x="450.65" y="256.37" width="9.3" height="4.02" fill="#0c7734"/>
<rect x="334.35" y="260.99" width="9.3" height="4.02" fill="#00441b"/>
<rect x="344.35" y="260.99" width="9.3" height="4.02" fill="#00441b"/>
<rect x="354.45" y="261.17" width="9.1" height="3.67" fill="#f7fcf5" stroke="#909090" stroke-width="0.55"/>
<rect x="367.35" y="260.99" width="9.3" height="4.02" fill="#00682a"/>
<rect x="377.35" y="260.99" width="9.3" height="4.02" fill="#00441b"/>
<rect x="387.35" y="260.99" width="9.3" height="4.02" fill="#2a924a"/>
<rect x="397.35" y="260.99" width="9.3" height="4.02" fill="#0c7734"/>
<rect x="407.35" y="260.99" width="9.3" height="4.02" fill="#00441b"/>
<rect x="417.35" y="260.99" width="9.3" height="4.02" fill="#47ae60"/>
<rect x="427.35" y="260.99" width="9.3" height="4.02" fill="#00441b"/>
<rect x="437.35" y="260.99" width="9.3" height="4.02" fill="#00441b"/>
<rect x="450.65" y="260.99" width="9.3" height="4.02" fill="#0c7734"/>
<rect x="334.35" y="265.61" width="9.3" height="4.02" fill="#00441b"/>
<rect x="344.35" y="265.61" width="9.3" height="4.02" fill="#00441b"/>
<rect x="354.45" y="265.79" width="9.1" height="3.67" fill="#f7fcf5" stroke="#909090" stroke-width="0.55"/>
<rect x="367.35" y="265.61" width="9.3" height="4.02" fill="#00682a"/>
<rect x="377.35" y="265.61" width="9.3" height="4.02" fill="#00441b"/>
<rect x="387.35" y="265.61" width="9.3" height="4.02" fill="#2a924a"/>
<rect x="397.35" y="265.61" width="9.3" height="4.02" fill="#0c7734"/>
<rect x="407.35" y="265.61" width="9.3" height="4.02" fill="#00441b"/>
<rect x="417.35" y="265.61" width="9.3" height="4.02" fill="#47ae60"/>
<rect x="427.35" y="265.61" width="9.3" height="4.02" fill="#00441b"/>
<rect x="437.35" y="265.61" width="9.3" height="4.02" fill="#00441b"/>
<rect x="450.65" y="265.61" width="9.3" height="4.02" fill="#0c7734"/>
<rect x="334.35" y="270.23" width="9.3" height="4.02" fill="#00441b"/>
<rect x="344.35" y="270.23" width="9.3" height="4.02" fill="#00441b"/>
<rect x="354.45" y="270.41" width="9.1" height="3.67" fill="#f7fcf5" stroke="#909090" stroke-width="0.55"/>
<rect x="367.35" y="270.23" width="9.3" height="4.02" fill="#00682a"/>
<rect x="377.35" y="270.23" width="9.3" height="4.02" fill="#00441b"/>
<rect x="387.35" y="270.23" width="9.3" height="4.02" fill="#2a924a"/>
<rect x="397.35" y="270.23" width="9.3" height="4.02" fill="#0c7734"/>
<rect x="407.35" y="270.23" width="9.3" height="4.02" fill="#00441b"/>
<rect x="417.35" y="270.23" width="9.3" height="4.02" fill="#47ae60"/>
<rect x="427.35" y="270.23" width="9.3" height="4.02" fill="#00441b"/>
<rect x="437.35" y="270.23" width="9.3" height="4.02" fill="#00441b"/>
<rect x="450.65" y="270.23" width="9.3" height="4.02" fill="#0c7734"/>
<rect x="334.35" y="274.85" width="9.3" height="4.02" fill="#00441b"/>
<rect x="344.35" y="274.85" width="9.3" height="4.02" fill="#00441b"/>
<rect x="354.45" y="275.03" width="9.1" height="3.67" fill="#f7fcf5" stroke="#909090" stroke-width="0.55"/>
<rect x="367.35" y="274.85" width="9.3" height="4.02" fill="#00682a"/>
<rect x="377.35" y="274.85" width="9.3" height="4.02" fill="#00441b"/>
<rect x="387.35" y="274.85" width="9.3" height="4.02" fill="#2a924a"/>
<rect x="397.35" y="274.85" width="9.3" height="4.02" fill="#0c7734"/>
<rect x="407.35" y="274.85" width="9.3" height="4.02" fill="#00441b"/>
<rect x="417.35" y="274.85" width="9.3" height="4.02" fill="#47ae60"/>
<rect x="427.35" y="274.85" width="9.3" height="4.02" fill="#00441b"/>
<rect x="437.35" y="274.85" width="9.3" height="4.02" fill="#00441b"/>
<rect x="450.65" y="274.85" width="9.3" height="4.02" fill="#0c7734"/>
<rect x="334.35" y="279.47" width="9.3" height="4.02" fill="#00441b"/>
<rect x="344.35" y="279.47" width="9.3" height="4.02" fill="#00441b"/>
<rect x="354.45" y="279.65" width="9.1" height="3.67" fill="#f7fcf5" stroke="#909090" stroke-width="0.55"/>
<rect x="367.35" y="279.47" width="9.3" height="4.02" fill="#00682a"/>
<rect x="377.35" y="279.47" width="9.3" height="4.02" fill="#00441b"/>
<rect x="387.35" y="279.47" width="9.3" height="4.02" fill="#2a924a"/>
<rect x="397.35" y="279.47" width="9.3" height="4.02" fill="#0c7734"/>
<rect x="407.35" y="279.47" width="9.3" height="4.02" fill="#00441b"/>
<rect x="417.35" y="279.47" width="9.3" height="4.02" fill="#47ae60"/>
<rect x="427.35" y="279.47" width="9.3" height="4.02" fill="#00441b"/>
<rect x="437.35" y="279.47" width="9.3" height="4.02" fill="#00441b"/>
<rect x="450.65" y="279.47" width="9.3" height="4.02" fill="#0c7734"/>
<rect x="334.35" y="284.09" width="9.3" height="4.02" fill="#00441b"/>
<rect x="344.35" y="284.09" width="9.3" height="4.02" fill="#00441b"/>
<rect x="354.45" y="284.27" width="9.1" height="3.67" fill="#f7fcf5" stroke="#909090" stroke-width="0.55"/>
<rect x="367.35" y="284.09" width="9.3" height="4.02" fill="#00682a"/>
<rect x="377.35" y="284.09" width="9.3" height="4.02" fill="#00441b"/>
<rect x="387.35" y="284.09" width="9.3" height="4.02" fill="#2a924a"/>
<rect x="397.35" y="284.09" width="9.3" height="4.02" fill="#0c7734"/>
<rect x="407.35" y="284.09" width="9.3" height="4.02" fill="#00441b"/>
<rect x="417.35" y="284.09" width="9.3" height="4.02" fill="#47ae60"/>
<rect x="427.35" y="284.09" width="9.3" height="4.02" fill="#00441b"/>
<rect x="437.35" y="284.09" width="9.3" height="4.02" fill="#00441b"/>
<rect x="450.65" y="284.09" width="9.3" height="4.02" fill="#0c7734"/>
<rect x="334.35" y="288.71" width="9.3" height="4.02" fill="#00441b"/>
<rect x="344.35" y="288.71" width="9.3" height="4.02" fill="#00441b"/>
<rect x="354.45" y="288.88" width="9.1" height="3.67" fill="#f7fcf5" stroke="#909090" stroke-width="0.55"/>
<rect x="367.35" y="288.71" width="9.3" height="4.02" fill="#00682a"/>
<rect x="377.35" y="288.71" width="9.3" height="4.02" fill="#00441b"/>
<rect x="387.35" y="288.71" width="9.3" height="4.02" fill="#2a924a"/>
<rect x="397.35" y="288.71" width="9.3" height="4.02" fill="#0c7734"/>
<rect x="407.35" y="288.71" width="9.3" height="4.02" fill="#00441b"/>
<rect x="417.35" y="288.71" width="9.3" height="4.02" fill="#47ae60"/>
<rect x="427.35" y="288.71" width="9.3" height="4.02" fill="#00441b"/>
<rect x="437.35" y="288.71" width="9.3" height="4.02" fill="#00441b"/>
<rect x="450.65" y="288.71" width="9.3" height="4.02" fill="#0c7734"/>
<rect x="334.35" y="293.33" width="9.3" height="4.02" fill="#00441b"/>
<rect x="344.35" y="293.33" width="9.3" height="4.02" fill="#00441b"/>
<rect x="354.45" y="293.5" width="9.1" height="3.67" fill="#f7fcf5" stroke="#909090" stroke-width="0.55"/>
<rect x="367.35" y="293.33" width="9.3" height="4.02" fill="#00682a"/>
<rect x="377.35" y="293.33" width="9.3" height="4.02" fill="#00441b"/>
<rect x="387.35" y="293.33" width="9.3" height="4.02" fill="#2a924a"/>
<rect x="397.35" y="293.33" width="9.3" height="4.02" fill="#0c7734"/>
<rect x="407.35" y="293.33" width="9.3" height="4.02" fill="#00441b"/>
<rect x="417.35" y="293.33" width="9.3" height="4.02" fill="#47ae60"/>
<rect x="427.35" y="293.33" width="9.3" height="4.02" fill="#00441b"/>
<rect x="437.35" y="293.33" width="9.3" height="4.02" fill="#00441b"/>
<rect x="450.65" y="293.33" width="9.3" height="4.02" fill="#0c7734"/>
<rect x="334.35" y="297.95" width="9.3" height="4.02" fill="#00441b"/>
<rect x="344.35" y="297.95" width="9.3" height="4.02" fill="#00441b"/>
<rect x="354.45" y="298.12" width="9.1" height="3.67" fill="#f7fcf5" stroke="#909090" stroke-width="0.55"/>
<rect x="367.35" y="297.95" width="9.3" height="4.02" fill="#00682a"/>
<rect x="377.35" y="297.95" width="9.3" height="4.02" fill="#00441b"/>
<rect x="387.35" y="297.95" width="9.3" height="4.02" fill="#2a924a"/>
<rect x="397.35" y="297.95" width="9.3" height="4.02" fill="#0c7734"/>
<rect x="407.35" y="297.95" width="9.3" height="4.02" fill="#00441b"/>
<rect x="417.35" y="297.95" width="9.3" height="4.02" fill="#47ae60"/>
<rect x="427.35" y="297.95" width="9.3" height="4.02" fill="#00441b"/>
<rect x="437.35" y="297.95" width="9.3" height="4.02" fill="#00441b"/>
<rect x="450.65" y="297.95" width="9.3" height="4.02" fill="#0c7734"/>
<rect x="334.35" y="302.57" width="9.3" height="4.02" fill="#00441b"/>
<rect x="344.35" y="302.57" width="9.3" height="4.02" fill="#00441b"/>
<rect x="354.45" y="302.75" width="9.1" height="3.67" fill="#f7fcf5" stroke="#909090" stroke-width="0.55"/>
<rect x="367.35" y="302.57" width="9.3" height="4.02" fill="#00682a"/>
<rect x="377.35" y="302.57" width="9.3" height="4.02" fill="#00441b"/>
<rect x="387.35" y="302.57" width="9.3" height="4.02" fill="#2a924a"/>
<rect x="397.35" y="302.57" width="9.3" height="4.02" fill="#0c7734"/>
<rect x="407.35" y="302.57" width="9.3" height="4.02" fill="#00441b"/>
<rect x="417.35" y="302.57" width="9.3" height="4.02" fill="#47ae60"/>
<rect x="427.35" y="302.57" width="9.3" height="4.02" fill="#00441b"/>
<rect x="437.35" y="302.57" width="9.3" height="4.02" fill="#00441b"/>
<rect x="450.65" y="302.57" width="9.3" height="4.02" fill="#0c7734"/>
<rect x="334.35" y="307.19" width="9.3" height="4.02" fill="#00441b"/>
<rect x="344.35" y="307.19" width="9.3" height="4.02" fill="#00441b"/>
<rect x="354.45" y="307.37" width="9.1" height="3.67" fill="#f7fcf5" stroke="#909090" stroke-width="0.55"/>
<rect x="367.35" y="307.19" width="9.3" height="4.02" fill="#00682a"/>
<rect x="377.35" y="307.19" width="9.3" height="4.02" fill="#00441b"/>
<rect x="387.35" y="307.19" width="9.3" height="4.02" fill="#2a924a"/>
<rect x="397.35" y="307.19" width="9.3" height="4.02" fill="#0c7734"/>
<rect x="407.35" y="307.19" width="9.3" height="4.02" fill="#00441b"/>
<rect x="417.35" y="307.19" width="9.3" height="4.02" fill="#47ae60"/>
<rect x="427.35" y="307.19" width="9.3" height="4.02" fill="#00441b"/>
<rect x="437.35" y="307.19" width="9.3" height="4.02" fill="#00441b"/>
<rect x="450.65" y="307.19" width="9.3" height="4.02" fill="#0c7734"/>
<rect x="334.35" y="311.81" width="9.3" height="4.02" fill="#00441b"/>
<rect x="344.35" y="311.81" width="9.3" height="4.02" fill="#00441b"/>
<rect x="354.45" y="311.99" width="9.1" height="3.67" fill="#f7fcf5" stroke="#909090" stroke-width="0.55"/>
<rect x="367.35" y="311.81" width="9.3" height="4.02" fill="#00682a"/>
<rect x="377.35" y="311.81" width="9.3" height="4.02" fill="#00441b"/>
<rect x="387.35" y="311.81" width="9.3" height="4.02" fill="#2a924a"/>
<rect x="397.35" y="311.81" width="9.3" height="4.02" fill="#0c7734"/>
<rect x="407.35" y="311.81" width="9.3" height="4.02" fill="#00441b"/>
<rect x="417.35" y="311.81" width="9.3" height="4.02" fill="#88cd86"/>
<rect x="427.35" y="311.81" width="9.3" height="4.02" fill="#00441b"/>
<rect x="437.35" y="311.81" width="9.3" height="4.02" fill="#00441b"/>
<rect x="450.65" y="311.81" width="9.3" height="4.02" fill="#0c7734"/>
<rect x="334.35" y="316.43" width="9.3" height="4.02" fill="#00441b"/>
<rect x="344.35" y="316.43" width="9.3" height="4.02" fill="#00441b"/>
<rect x="354.45" y="316.61" width="9.1" height="3.67" fill="#f7fcf5" stroke="#909090" stroke-width="0.55"/>
<rect x="367.35" y="316.43" width="9.3" height="4.02" fill="#00682a"/>
<rect x="377.35" y="316.43" width="9.3" height="4.02" fill="#00441b"/>
<rect x="387.35" y="316.43" width="9.3" height="4.02" fill="#2a924a"/>
<rect x="397.35" y="316.43" width="9.3" height="4.02" fill="#0c7734"/>
<rect x="407.35" y="316.43" width="9.3" height="4.02" fill="#00441b"/>
<rect x="417.35" y="316.43" width="9.3" height="4.02" fill="#88cd86"/>
<rect x="427.35" y="316.43" width="9.3" height="4.02" fill="#00441b"/>
<rect x="437.35" y="316.43" width="9.3" height="4.02" fill="#00441b"/>
<rect x="450.65" y="316.43" width="9.3" height="4.02" fill="#0c7734"/>
<rect x="334.35" y="321.05" width="9.3" height="4.02" fill="#00441b"/>
<rect x="344.35" y="321.05" width="9.3" height="4.02" fill="#00441b"/>
<rect x="354.45" y="321.23" width="9.1" height="3.67" fill="#f7fcf5" stroke="#909090" stroke-width="0.55"/>
<rect x="367.35" y="321.05" width="9.3" height="4.02" fill="#00682a"/>
<rect x="377.35" y="321.05" width="9.3" height="4.02" fill="#00441b"/>
<rect x="387.35" y="321.05" width="9.3" height="4.02" fill="#2a924a"/>
<rect x="397.35" y="321.05" width="9.3" height="4.02" fill="#0c7734"/>
<rect x="407.35" y="321.05" width="9.3" height="4.02" fill="#00441b"/>
<rect x="417.35" y="321.05" width="9.3" height="4.02" fill="#47ae60"/>
<rect x="427.35" y="321.05" width="9.3" height="4.02" fill="#00441b"/>
<rect x="437.35" y="321.05" width="9.3" height="4.02" fill="#00441b"/>
<rect x="450.65" y="321.05" width="9.3" height="4.02" fill="#0c7734"/>
<rect x="334.35" y="325.67" width="9.3" height="4.02" fill="#00441b"/>
<rect x="344.35" y="325.67" width="9.3" height="4.02" fill="#00441b"/>
<rect x="354.45" y="325.85" width="9.1" height="3.67" fill="#f7fcf5" stroke="#909090" stroke-width="0.55"/>
<rect x="367.35" y="325.67" width="9.3" height="4.02" fill="#00441b"/>
<rect x="377.35" y="325.67" width="9.3" height="4.02" fill="#00441b"/>
<rect x="387.35" y="325.67" width="9.3" height="4.02" fill="#00682a"/>
<rect x="397.35" y="325.67" width="9.3" height="4.02" fill="#5db96b"/>
<rect x="407.35" y="325.67" width="9.3" height="4.02" fill="#00441b"/>
<rect x="417.35" y="325.67" width="9.3" height="4.02" fill="#47ae60"/>
<rect x="427.35" y="325.67" width="9.3" height="4.02" fill="#00441b"/>
<rect x="437.35" y="325.67" width="9.3" height="4.02" fill="#00441b"/>
<rect x="450.65" y="325.67" width="9.3" height="4.02" fill="#0c7734"/>
<rect x="334.35" y="330.29" width="9.3" height="4.02" fill="#00441b"/>
<rect x="344.35" y="330.29" width="9.3" height="4.02" fill="#00441b"/>
<rect x="354.45" y="330.47" width="9.1" height="3.67" fill="#f7fcf5" stroke="#909090" stroke-width="0.55"/>
<rect x="367.35" y="330.29" width="9.3" height="4.02" fill="#5db96b"/>
<rect x="377.35" y="330.29" width="9.3" height="4.02" fill="#00441b"/>
<rect x="387.35" y="330.29" width="9.3" height="4.02" fill="#2a924a"/>
<rect x="397.35" y="330.29" width="9.3" height="4.02" fill="#0c7734"/>
<rect x="407.35" y="330.29" width="9.3" height="4.02" fill="#00441b"/>
<rect x="417.35" y="330.29" width="9.3" height="4.02" fill="#88cd86"/>
<rect x="427.35" y="330.29" width="9.3" height="4.02" fill="#00441b"/>
<rect x="437.35" y="330.29" width="9.3" height="4.02" fill="#00441b"/>
<rect x="450.65" y="330.29" width="9.3" height="4.02" fill="#0c7734"/>
<rect x="334.35" y="334.91" width="9.3" height="4.02" fill="#00441b"/>
<rect x="344.35" y="334.91" width="9.3" height="4.02" fill="#00441b"/>
<rect x="354.45" y="335.09" width="9.1" height="3.67" fill="#f7fcf5" stroke="#909090" stroke-width="0.55"/>
<rect x="367.35" y="334.91" width="9.3" height="4.02" fill="#00682a"/>
<rect x="377.35" y="334.91" width="9.3" height="4.02" fill="#00441b"/>
<rect x="387.35" y="334.91" width="9.3" height="4.02" fill="#2a924a"/>
<rect x="397.35" y="334.91" width="9.3" height="4.02" fill="#0c7734"/>
<rect x="407.35" y="334.91" width="9.3" height="4.02" fill="#00441b"/>
<rect x="417.35" y="334.91" width="9.3" height="4.02" fill="#47ae60"/>
<rect x="427.35" y="334.91" width="9.3" height="4.02" fill="#00441b"/>
<rect x="437.35" y="334.91" width="9.3" height="4.02" fill="#00441b"/>
<rect x="450.65" y="334.91" width="9.3" height="4.02" fill="#0c7734"/>
<rect x="334.35" y="353.39" width="9.3" height="4.02" fill="#00441b"/>
<rect x="344.35" y="353.39" width="9.3" height="4.02" fill="#00441b"/>
<rect x="354.45" y="353.57" width="9.1" height="3.67" fill="#f7fcf5" stroke="#909090" stroke-width="0.55"/>
<rect x="367.35" y="353.39" width="9.3" height="4.02" fill="#37a055"/>
<rect x="377.35" y="353.39" width="9.3" height="4.02" fill="#00441b"/>
<rect x="387.35" y="353.39" width="9.3" height="4.02" fill="#00682a"/>
<rect x="397.35" y="353.39" width="9.3" height="4.02" fill="#1b843f"/>
<rect x="407.35" y="353.39" width="9.3" height="4.02" fill="#00441b"/>
<rect x="417.35" y="353.39" width="9.3" height="4.02" fill="#74c476"/>
<rect x="427.35" y="353.39" width="9.3" height="4.02" fill="#00441b"/>
<rect x="437.35" y="353.39" width="9.3" height="4.02" fill="#00441b"/>
<rect x="450.65" y="353.39" width="9.3" height="4.02" fill="#37a055"/>
<rect x="334.35" y="358.01" width="9.3" height="4.02" fill="#00441b"/>
<rect x="344.35" y="358.01" width="9.3" height="4.02" fill="#00441b"/>
<rect x="354.45" y="358.19" width="9.1" height="3.67" fill="#f7fcf5" stroke="#909090" stroke-width="0.55"/>
<rect x="367.35" y="358.01" width="9.3" height="4.02" fill="#37a055"/>
<rect x="377.35" y="358.01" width="9.3" height="4.02" fill="#00441b"/>
<rect x="387.35" y="358.01" width="9.3" height="4.02" fill="#00682a"/>
<rect x="397.35" y="358.01" width="9.3" height="4.02" fill="#1b843f"/>
<rect x="407.35" y="358.01" width="9.3" height="4.02" fill="#00441b"/>
<rect x="417.35" y="358.01" width="9.3" height="4.02" fill="#74c476"/>
<rect x="427.35" y="358.01" width="9.3" height="4.02" fill="#00441b"/>
<rect x="437.35" y="358.01" width="9.3" height="4.02" fill="#00441b"/>
<rect x="450.65" y="358.01" width="9.3" height="4.02" fill="#37a055"/>
<rect x="334.35" y="362.63" width="9.3" height="4.02" fill="#00441b"/>
<rect x="344.35" y="362.63" width="9.3" height="4.02" fill="#00441b"/>
<rect x="354.45" y="362.81" width="9.1" height="3.67" fill="#f7fcf5" stroke="#909090" stroke-width="0.55"/>
<rect x="367.35" y="362.63" width="9.3" height="4.02" fill="#37a055"/>
<rect x="377.35" y="362.63" width="9.3" height="4.02" fill="#00441b"/>
<rect x="387.35" y="362.63" width="9.3" height="4.02" fill="#00682a"/>
<rect x="397.35" y="362.63" width="9.3" height="4.02" fill="#1b843f"/>
<rect x="407.35" y="362.63" width="9.3" height="4.02" fill="#00441b"/>
<rect x="417.35" y="362.63" width="9.3" height="4.02" fill="#74c476"/>
<rect x="427.35" y="362.63" width="9.3" height="4.02" fill="#00441b"/>
<rect x="437.35" y="362.63" width="9.3" height="4.02" fill="#00441b"/>
<rect x="450.65" y="362.63" width="9.3" height="4.02" fill="#37a055"/>
<rect x="334.35" y="367.25" width="9.3" height="4.02" fill="#00441b"/>
<rect x="344.35" y="367.25" width="9.3" height="4.02" fill="#00441b"/>
<rect x="354.45" y="367.43" width="9.1" height="3.67" fill="#f7fcf5" stroke="#909090" stroke-width="0.55"/>
<rect x="367.35" y="367.25" width="9.3" height="4.02" fill="#37a055"/>
<rect x="377.35" y="367.25" width="9.3" height="4.02" fill="#00441b"/>
<rect x="387.35" y="367.25" width="9.3" height="4.02" fill="#00682a"/>
<rect x="397.35" y="367.25" width="9.3" height="4.02" fill="#1b843f"/>
<rect x="407.35" y="367.25" width="9.3" height="4.02" fill="#00441b"/>
<rect x="417.35" y="367.25" width="9.3" height="4.02" fill="#74c476"/>
<rect x="427.35" y="367.25" width="9.3" height="4.02" fill="#00441b"/>
<rect x="437.35" y="367.25" width="9.3" height="4.02" fill="#00441b"/>
<rect x="450.65" y="367.25" width="9.3" height="4.02" fill="#37a055"/>
<rect x="334.35" y="371.87" width="9.3" height="4.02" fill="#00441b"/>
<rect x="344.35" y="371.87" width="9.3" height="4.02" fill="#00441b"/>
<rect x="354.45" y="372.05" width="9.1" height="3.67" fill="#f7fcf5" stroke="#909090" stroke-width="0.55"/>
<rect x="367.35" y="371.87" width="9.3" height="4.02" fill="#37a055"/>
<rect x="377.35" y="371.87" width="9.3" height="4.02" fill="#00441b"/>
<rect x="387.35" y="371.87" width="9.3" height="4.02" fill="#00682a"/>
<rect x="397.35" y="371.87" width="9.3" height="4.02" fill="#1b843f"/>
<rect x="407.35" y="371.87" width="9.3" height="4.02" fill="#00441b"/>
<rect x="417.35" y="371.87" width="9.3" height="4.02" fill="#74c476"/>
<rect x="427.35" y="371.87" width="9.3" height="4.02" fill="#00441b"/>
<rect x="437.35" y="371.87" width="9.3" height="4.02" fill="#00441b"/>
<rect x="450.65" y="371.87" width="9.3" height="4.02" fill="#37a055"/>
<rect x="334.35" y="376.49" width="9.3" height="4.02" fill="#00441b"/>
<rect x="344.35" y="376.49" width="9.3" height="4.02" fill="#00441b"/>
<rect x="354.45" y="376.67" width="9.1" height="3.67" fill="#f7fcf5" stroke="#909090" stroke-width="0.55"/>
<rect x="367.35" y="376.49" width="9.3" height="4.02" fill="#37a055"/>
<rect x="377.35" y="376.49" width="9.3" height="4.02" fill="#00441b"/>
<rect x="387.35" y="376.49" width="9.3" height="4.02" fill="#00682a"/>
<rect x="397.35" y="376.49" width="9.3" height="4.02" fill="#1b843f"/>
<rect x="407.35" y="376.49" width="9.3" height="4.02" fill="#00441b"/>
<rect x="417.35" y="376.49" width="9.3" height="4.02" fill="#74c476"/>
<rect x="427.35" y="376.49" width="9.3" height="4.02" fill="#00441b"/>
<rect x="437.35" y="376.49" width="9.3" height="4.02" fill="#00441b"/>
<rect x="450.65" y="376.49" width="9.3" height="4.02" fill="#37a055"/>
<rect x="334.35" y="385.73" width="9.3" height="4.02" fill="#00441b"/>
<rect x="344.35" y="385.73" width="9.3" height="4.02" fill="#00441b"/>
<rect x="354.45" y="385.91" width="9.1" height="3.67" fill="#f7fcf5" stroke="#909090" stroke-width="0.55"/>
<rect x="367.35" y="385.73" width="9.3" height="4.02" fill="#1b843f"/>
<rect x="377.35" y="385.73" width="9.3" height="4.02" fill="#00441b"/>
<rect x="387.35" y="385.73" width="9.3" height="4.02" fill="#1b843f"/>
<rect x="397.35" y="385.73" width="9.3" height="4.02" fill="#0c7734"/>
<rect x="407.35" y="385.73" width="9.3" height="4.02" fill="#00441b"/>
<rect x="417.35" y="385.73" width="9.3" height="4.02" fill="#74c476"/>
<rect x="427.35" y="385.73" width="9.3" height="4.02" fill="#00441b"/>
<rect x="437.35" y="385.73" width="9.3" height="4.02" fill="#00441b"/>
<rect x="450.65" y="385.73" width="9.3" height="4.02" fill="#00682a"/>
<rect x="334.35" y="390.35" width="9.3" height="4.02" fill="#00441b"/>
<rect x="344.35" y="390.35" width="9.3" height="4.02" fill="#00441b"/>
<rect x="354.45" y="390.53" width="9.1" height="3.67" fill="#f7fcf5" stroke="#909090" stroke-width="0.55"/>
<rect x="367.35" y="390.35" width="9.3" height="4.02" fill="#1b843f"/>
<rect x="377.35" y="390.35" width="9.3" height="4.02" fill="#00441b"/>
<rect x="387.35" y="390.35" width="9.3" height="4.02" fill="#1b843f"/>
<rect x="397.35" y="390.35" width="9.3" height="4.02" fill="#0c7734"/>
<rect x="407.35" y="390.35" width="9.3" height="4.02" fill="#00441b"/>
<rect x="417.35" y="390.35" width="9.3" height="4.02" fill="#74c476"/>
<rect x="427.35" y="390.35" width="9.3" height="4.02" fill="#00441b"/>
<rect x="437.35" y="390.35" width="9.3" height="4.02" fill="#00441b"/>
<rect x="450.65" y="390.35" width="9.3" height="4.02" fill="#00682a"/>
<rect x="334.35" y="394.97" width="9.3" height="4.02" fill="#00441b"/>
<rect x="344.35" y="394.97" width="9.3" height="4.02" fill="#00441b"/>
<rect x="354.45" y="395.14" width="9.1" height="3.67" fill="#f7fcf5" stroke="#909090" stroke-width="0.55"/>
<rect x="367.35" y="394.97" width="9.3" height="4.02" fill="#1b843f"/>
<rect x="377.35" y="394.97" width="9.3" height="4.02" fill="#00441b"/>
<rect x="387.35" y="394.97" width="9.3" height="4.02" fill="#1b843f"/>
<rect x="397.35" y="394.97" width="9.3" height="4.02" fill="#0c7734"/>
<rect x="407.35" y="394.97" width="9.3" height="4.02" fill="#00441b"/>
<rect x="417.35" y="394.97" width="9.3" height="4.02" fill="#74c476"/>
<rect x="427.35" y="394.97" width="9.3" height="4.02" fill="#00441b"/>
<rect x="437.35" y="394.97" width="9.3" height="4.02" fill="#00441b"/>
<rect x="450.65" y="394.97" width="9.3" height="4.02" fill="#00682a"/>
<rect x="334.35" y="399.59" width="9.3" height="4.02" fill="#00441b"/>
<rect x="344.35" y="399.59" width="9.3" height="4.02" fill="#00441b"/>
<rect x="354.45" y="399.76" width="9.1" height="3.67" fill="#f7fcf5" stroke="#909090" stroke-width="0.55"/>
<rect x="367.35" y="399.59" width="9.3" height="4.02" fill="#1b843f"/>
<rect x="377.35" y="399.59" width="9.3" height="4.02" fill="#00441b"/>
<rect x="387.35" y="399.59" width="9.3" height="4.02" fill="#1b843f"/>
<rect x="397.35" y="399.59" width="9.3" height="4.02" fill="#0c7734"/>
<rect x="407.35" y="399.59" width="9.3" height="4.02" fill="#00441b"/>
<rect x="417.35" y="399.59" width="9.3" height="4.02" fill="#74c476"/>
<rect x="427.35" y="399.59" width="9.3" height="4.02" fill="#00441b"/>
<rect x="437.35" y="399.59" width="9.3" height="4.02" fill="#00441b"/>
<rect x="450.65" y="399.59" width="9.3" height="4.02" fill="#1b843f"/>
<rect x="334.35" y="404.21" width="9.3" height="4.02" fill="#00441b"/>
<rect x="344.35" y="404.21" width="9.3" height="4.02" fill="#00441b"/>
<rect x="354.45" y="404.38" width="9.1" height="3.67" fill="#f7fcf5" stroke="#909090" stroke-width="0.55"/>
<rect x="367.35" y="404.21" width="9.3" height="4.02" fill="#1b843f"/>
<rect x="377.35" y="404.21" width="9.3" height="4.02" fill="#00441b"/>
<rect x="387.35" y="404.21" width="9.3" height="4.02" fill="#1b843f"/>
<rect x="397.35" y="404.21" width="9.3" height="4.02" fill="#0c7734"/>
<rect x="407.35" y="404.21" width="9.3" height="4.02" fill="#00441b"/>
<rect x="417.35" y="404.21" width="9.3" height="4.02" fill="#74c476"/>
<rect x="427.35" y="404.21" width="9.3" height="4.02" fill="#00441b"/>
<rect x="437.35" y="404.21" width="9.3" height="4.02" fill="#00441b"/>
<rect x="450.65" y="404.21" width="9.3" height="4.02" fill="#1b843f"/>
<rect x="334.35" y="408.83" width="9.3" height="4.02" fill="#00441b"/>
<rect x="344.35" y="408.83" width="9.3" height="4.02" fill="#00441b"/>
<rect x="354.45" y="409" width="9.1" height="3.67" fill="#f7fcf5" stroke="#909090" stroke-width="0.55"/>
<rect x="367.35" y="408.83" width="9.3" height="4.02" fill="#1b843f"/>
<rect x="377.35" y="408.83" width="9.3" height="4.02" fill="#00441b"/>
<rect x="387.35" y="408.83" width="9.3" height="4.02" fill="#1b843f"/>
<rect x="397.35" y="408.83" width="9.3" height="4.02" fill="#0c7734"/>
<rect x="407.35" y="408.83" width="9.3" height="4.02" fill="#00441b"/>
<rect x="417.35" y="408.83" width="9.3" height="4.02" fill="#74c476"/>
<rect x="427.35" y="408.83" width="9.3" height="4.02" fill="#00441b"/>
<rect x="437.35" y="408.83" width="9.3" height="4.02" fill="#00441b"/>
<rect x="450.65" y="408.83" width="9.3" height="4.02" fill="#1b843f"/>
<rect x="334.35" y="413.45" width="9.3" height="4.02" fill="#00441b"/>
<rect x="344.35" y="413.45" width="9.3" height="4.02" fill="#00441b"/>
<rect x="354.45" y="413.62" width="9.1" height="3.67" fill="#f7fcf5" stroke="#909090" stroke-width="0.55"/>
<rect x="367.35" y="413.45" width="9.3" height="4.02" fill="#1b843f"/>
<rect x="377.35" y="413.45" width="9.3" height="4.02" fill="#00441b"/>
<rect x="387.35" y="413.45" width="9.3" height="4.02" fill="#1b843f"/>
<rect x="397.35" y="413.45" width="9.3" height="4.02" fill="#0c7734"/>
<rect x="407.35" y="413.45" width="9.3" height="4.02" fill="#00441b"/>
<rect x="417.35" y="413.45" width="9.3" height="4.02" fill="#74c476"/>
<rect x="427.35" y="413.45" width="9.3" height="4.02" fill="#00441b"/>
<rect x="437.35" y="413.45" width="9.3" height="4.02" fill="#00441b"/>
<rect x="450.65" y="413.45" width="9.3" height="4.02" fill="#1b843f"/>
<rect x="334.35" y="418.07" width="9.3" height="4.02" fill="#00441b"/>
<rect x="344.35" y="418.07" width="9.3" height="4.02" fill="#00441b"/>
<rect x="354.45" y="418.25" width="9.1" height="3.67" fill="#f7fcf5" stroke="#909090" stroke-width="0.55"/>
<rect x="367.35" y="418.07" width="9.3" height="4.02" fill="#1b843f"/>
<rect x="377.35" y="418.07" width="9.3" height="4.02" fill="#00441b"/>
<rect x="387.35" y="418.07" width="9.3" height="4.02" fill="#1b843f"/>
<rect x="397.35" y="418.07" width="9.3" height="4.02" fill="#0c7734"/>
<rect x="407.35" y="418.07" width="9.3" height="4.02" fill="#00441b"/>
<rect x="417.35" y="418.07" width="9.3" height="4.02" fill="#74c476"/>
<rect x="427.35" y="418.07" width="9.3" height="4.02" fill="#00441b"/>
<rect x="437.35" y="418.07" width="9.3" height="4.02" fill="#00441b"/>
<rect x="450.65" y="418.07" width="9.3" height="4.02" fill="#1b843f"/>
<rect x="334.35" y="422.69" width="9.3" height="4.02" fill="#00441b"/>
<rect x="344.35" y="422.69" width="9.3" height="4.02" fill="#00441b"/>
<rect x="354.45" y="422.87" width="9.1" height="3.67" fill="#f7fcf5" stroke="#909090" stroke-width="0.55"/>
<rect x="367.35" y="422.69" width="9.3" height="4.02" fill="#1b843f"/>
<rect x="377.35" y="422.69" width="9.3" height="4.02" fill="#00441b"/>
<rect x="387.35" y="422.69" width="9.3" height="4.02" fill="#1b843f"/>
<rect x="397.35" y="422.69" width="9.3" height="4.02" fill="#0c7734"/>
<rect x="407.35" y="422.69" width="9.3" height="4.02" fill="#00441b"/>
<rect x="417.35" y="422.69" width="9.3" height="4.02" fill="#74c476"/>
<rect x="427.35" y="422.69" width="9.3" height="4.02" fill="#00441b"/>
<rect x="437.35" y="422.69" width="9.3" height="4.02" fill="#00441b"/>
<rect x="450.65" y="422.69" width="9.3" height="4.02" fill="#1b843f"/>
<rect x="334.35" y="427.31" width="9.3" height="4.02" fill="#00441b"/>
<rect x="344.35" y="427.31" width="9.3" height="4.02" fill="#00441b"/>
<rect x="354.45" y="427.49" width="9.1" height="3.67" fill="#f7fcf5" stroke="#909090" stroke-width="0.55"/>
<rect x="367.35" y="427.31" width="9.3" height="4.02" fill="#1b843f"/>
<rect x="377.35" y="427.31" width="9.3" height="4.02" fill="#00441b"/>
<rect x="387.35" y="427.31" width="9.3" height="4.02" fill="#1b843f"/>
<rect x="397.35" y="427.31" width="9.3" height="4.02" fill="#0c7734"/>
<rect x="407.35" y="427.31" width="9.3" height="4.02" fill="#00441b"/>
<rect x="417.35" y="427.31" width="9.3" height="4.02" fill="#74c476"/>
<rect x="427.35" y="427.31" width="9.3" height="4.02" fill="#00441b"/>
<rect x="437.35" y="427.31" width="9.3" height="4.02" fill="#00441b"/>
<rect x="450.65" y="427.31" width="9.3" height="4.02" fill="#1b843f"/>
<rect x="334.35" y="431.93" width="9.3" height="4.02" fill="#00441b"/>
<rect x="344.35" y="431.93" width="9.3" height="4.02" fill="#00441b"/>
<rect x="354.45" y="432.11" width="9.1" height="3.67" fill="#f7fcf5" stroke="#909090" stroke-width="0.55"/>
<rect x="367.35" y="431.93" width="9.3" height="4.02" fill="#1b843f"/>
<rect x="377.35" y="431.93" width="9.3" height="4.02" fill="#00441b"/>
<rect x="387.35" y="431.93" width="9.3" height="4.02" fill="#1b843f"/>
<rect x="397.35" y="431.93" width="9.3" height="4.02" fill="#0c7734"/>
<rect x="407.35" y="431.93" width="9.3" height="4.02" fill="#00441b"/>
<rect x="417.35" y="431.93" width="9.3" height="4.02" fill="#74c476"/>
<rect x="427.35" y="431.93" width="9.3" height="4.02" fill="#00441b"/>
<rect x="437.35" y="431.93" width="9.3" height="4.02" fill="#00441b"/>
<rect x="450.65" y="431.93" width="9.3" height="4.02" fill="#1b843f"/>
<rect x="334.35" y="436.55" width="9.3" height="4.02" fill="#00441b"/>
<rect x="344.35" y="436.55" width="9.3" height="4.02" fill="#00441b"/>
<rect x="354.45" y="436.73" width="9.1" height="3.67" fill="#f7fcf5" stroke="#909090" stroke-width="0.55"/>
<rect x="367.35" y="436.55" width="9.3" height="4.02" fill="#1b843f"/>
<rect x="377.35" y="436.55" width="9.3" height="4.02" fill="#00441b"/>
<rect x="387.35" y="436.55" width="9.3" height="4.02" fill="#1b843f"/>
<rect x="397.35" y="436.55" width="9.3" height="4.02" fill="#0c7734"/>
<rect x="407.35" y="436.55" width="9.3" height="4.02" fill="#00441b"/>
<rect x="417.35" y="436.55" width="9.3" height="4.02" fill="#74c476"/>
<rect x="427.35" y="436.55" width="9.3" height="4.02" fill="#00441b"/>
<rect x="437.35" y="436.55" width="9.3" height="4.02" fill="#00441b"/>
<rect x="450.65" y="436.55" width="9.3" height="4.02" fill="#1b843f"/>
<rect x="334.35" y="441.17" width="9.3" height="4.02" fill="#00441b"/>
<rect x="344.35" y="441.17" width="9.3" height="4.02" fill="#00441b"/>
<rect x="354.45" y="441.35" width="9.1" height="3.67" fill="#f7fcf5" stroke="#909090" stroke-width="0.55"/>
<rect x="367.35" y="441.17" width="9.3" height="4.02" fill="#1b843f"/>
<rect x="377.35" y="441.17" width="9.3" height="4.02" fill="#00441b"/>
<rect x="387.35" y="441.17" width="9.3" height="4.02" fill="#1b843f"/>
<rect x="397.35" y="441.17" width="9.3" height="4.02" fill="#0c7734"/>
<rect x="407.35" y="441.17" width="9.3" height="4.02" fill="#00441b"/>
<rect x="417.35" y="441.17" width="9.3" height="4.02" fill="#74c476"/>
<rect x="427.35" y="441.17" width="9.3" height="4.02" fill="#00441b"/>
<rect x="437.35" y="441.17" width="9.3" height="4.02" fill="#00441b"/>
<rect x="450.65" y="441.17" width="9.3" height="4.02" fill="#1b843f"/>
<rect x="334.35" y="445.79" width="9.3" height="4.02" fill="#00441b"/>
<rect x="344.35" y="445.79" width="9.3" height="4.02" fill="#00441b"/>
<rect x="354.45" y="445.97" width="9.1" height="3.67" fill="#f7fcf5" stroke="#909090" stroke-width="0.55"/>
<rect x="367.35" y="445.79" width="9.3" height="4.02" fill="#1b843f"/>
<rect x="377.35" y="445.79" width="9.3" height="4.02" fill="#00441b"/>
<rect x="387.35" y="445.79" width="9.3" height="4.02" fill="#1b843f"/>
<rect x="397.35" y="445.79" width="9.3" height="4.02" fill="#0c7734"/>
<rect x="407.35" y="445.79" width="9.3" height="4.02" fill="#00441b"/>
<rect x="417.35" y="445.79" width="9.3" height="4.02" fill="#74c476"/>
<rect x="427.35" y="445.79" width="9.3" height="4.02" fill="#00441b"/>
<rect x="437.35" y="445.79" width="9.3" height="4.02" fill="#00441b"/>
<rect x="450.65" y="445.79" width="9.3" height="4.02" fill="#1b843f"/>
<line x1="470.5" y1="66.65" x2="470.5" y2="450.11" stroke="#d9d9d9" stroke-width="0.5"/>
<line x1="476.4" y1="66.65" x2="476.4" y2="450.11" stroke="#d9d9d9" stroke-width="0.5"/>
<line x1="482.3" y1="66.65" x2="482.3" y2="450.11" stroke="#d9d9d9" stroke-width="0.5"/>
<line x1="488.2" y1="66.65" x2="488.2" y2="450.11" stroke="#d9d9d9" stroke-width="0.5"/>
<line x1="494.1" y1="66.65" x2="494.1" y2="450.11" stroke="#d9d9d9" stroke-width="0.5"/>
<rect x="464.6" y="66.65" width="28.2" height="4.62" fill="#e2b4b4"/>
<rect x="464.6" y="67.15" width="27.9" height="3.62" fill="#c60808"/>
<rect x="464.6" y="71.27" width="27.4" height="4.62" fill="#e2b4b4"/>
<rect x="464.6" y="71.77" width="27.1" height="3.62" fill="#c60808"/>
<rect x="464.6" y="75.89" width="31" height="4.62" fill="#e2b4b4"/>
<rect x="464.6" y="76.39" width="30.7" height="3.62" fill="#c60808"/>
<rect x="464.6" y="80.51" width="30.4" height="4.62" fill="#e2b4b4"/>
<rect x="464.6" y="81.01" width="30.1" height="3.62" fill="#c60808"/>
<rect x="464.6" y="85.13" width="31.4" height="4.62" fill="#e2b4b4"/>
<rect x="464.6" y="85.63" width="31.1" height="3.62" fill="#c60808"/>
<rect x="464.6" y="89.75" width="30.9" height="4.62" fill="#e2b4b4"/>
<rect x="464.6" y="90.25" width="30.6" height="3.62" fill="#c60808"/>
<rect x="464.6" y="94.37" width="26.4" height="4.62" fill="#e2b4b4"/>
<rect x="464.6" y="94.87" width="26.1" height="3.62" fill="#c60808"/>
<rect x="464.6" y="98.99" width="27.9" height="4.62" fill="#e2b4b4"/>
<rect x="464.6" y="99.49" width="27.6" height="3.62" fill="#c60808"/>
<rect x="464.6" y="103.61" width="27.4" height="4.62" fill="#e2b4b4"/>
<rect x="464.6" y="104.11" width="27.1" height="3.62" fill="#c60808"/>
<rect x="464.6" y="108.23" width="27.4" height="4.62" fill="#e2b4b4"/>
<rect x="464.6" y="108.73" width="27.1" height="3.62" fill="#c60808"/>
<rect x="464.6" y="112.85" width="22.4" height="4.62" fill="#e2b4b4"/>
<rect x="464.6" y="113.35" width="22.1" height="3.62" fill="#c60808"/>
<rect x="464.6" y="117.47" width="24.4" height="4.62" fill="#e2b4b4"/>
<rect x="464.6" y="117.97" width="24.1" height="3.62" fill="#c60808"/>
<rect x="464.6" y="122.09" width="22.9" height="4.62" fill="#e2b4b4"/>
<rect x="464.6" y="122.59" width="22.6" height="3.62" fill="#c60808"/>
<rect x="464.6" y="126.71" width="11.4" height="4.62" fill="#e2b4b4"/>
<rect x="464.6" y="127.21" width="11.1" height="3.62" fill="#c60808"/>
<rect x="464.6" y="131.33" width="23.9" height="4.62" fill="#e2b4b4"/>
<rect x="464.6" y="131.83" width="23.6" height="3.62" fill="#c60808"/>
<rect x="464.6" y="135.95" width="19.9" height="4.62" fill="#e2b4b4"/>
<rect x="464.6" y="136.45" width="19.6" height="3.62" fill="#c60808"/>
<rect x="464.6" y="140.57" width="22" height="4.62" fill="#e2b4b4"/>
<rect x="464.6" y="141.07" width="21.7" height="3.62" fill="#c60808"/>
<rect x="464.6" y="145.19" width="26.1" height="4.62" fill="#e2b4b4"/>
<rect x="464.6" y="145.69" width="25.8" height="3.62" fill="#c60808"/>
<rect x="464.6" y="149.81" width="26.1" height="4.62" fill="#e2b4b4"/>
<rect x="464.6" y="150.31" width="25.8" height="3.62" fill="#c60808"/>
<rect x="464.6" y="154.43" width="19" height="4.62" fill="#e2b4b4"/>
<rect x="464.6" y="154.93" width="18.7" height="3.62" fill="#c60808"/>
<rect x="464.6" y="159.05" width="22" height="4.62" fill="#e2b4b4"/>
<rect x="464.6" y="159.55" width="21.7" height="3.62" fill="#c60808"/>
<rect x="464.6" y="163.67" width="23.4" height="4.62" fill="#e2b4b4"/>
<rect x="464.6" y="164.17" width="23.1" height="3.62" fill="#c60808"/>
<rect x="464.6" y="168.29" width="22.4" height="4.62" fill="#e2b4b4"/>
<rect x="464.6" y="168.79" width="22.1" height="3.62" fill="#c60808"/>
<rect x="464.6" y="172.91" width="31.4" height="4.62" fill="#e2b4b4"/>
<rect x="464.6" y="173.41" width="31.1" height="3.62" fill="#c60808"/>
<text x="467.2" y="181.34" font-size="4.8" font-weight="normal" font-style="normal" fill="#b02424" text-anchor="start" textLength="20.43" lengthAdjust="spacingAndGlyphs" stroke="#b02424" stroke-width="0.12">incomplete</text>
<rect x="464.6" y="182.15" width="26.9" height="4.62" fill="#e2b4b4"/>
<rect x="464.6" y="182.65" width="26.6" height="3.62" fill="#c60808"/>
<rect x="464.6" y="186.77" width="14.4" height="4.62" fill="#e2b4b4"/>
<rect x="464.6" y="187.27" width="14.1" height="3.62" fill="#c60808"/>
<rect x="464.6" y="191.39" width="16.4" height="4.62" fill="#e2b4b4"/>
<rect x="464.6" y="191.89" width="16.1" height="3.62" fill="#c60808"/>
<rect x="464.6" y="196.01" width="13.4" height="4.62" fill="#e2b4b4"/>
<rect x="464.6" y="196.51" width="13.1" height="3.62" fill="#c60808"/>
<rect x="464.6" y="200.63" width="12" height="4.62" fill="#e2b4b4"/>
<rect x="464.6" y="201.13" width="11.7" height="3.62" fill="#c60808"/>
<rect x="464.6" y="205.25" width="28.7" height="4.62" fill="#e2b4b4"/>
<rect x="464.6" y="205.75" width="28.4" height="3.62" fill="#c60808"/>
<rect x="464.6" y="209.87" width="28.4" height="4.62" fill="#e2b4b4"/>
<rect x="464.6" y="210.37" width="28.1" height="3.62" fill="#c60808"/>
<rect x="464.6" y="214.49" width="28.4" height="4.62" fill="#e2b4b4"/>
<rect x="464.6" y="214.99" width="28.1" height="3.62" fill="#c60808"/>
<rect x="464.6" y="219.11" width="28.4" height="4.62" fill="#e2b4b4"/>
<rect x="464.6" y="219.61" width="28.1" height="3.62" fill="#c60808"/>
<rect x="464.6" y="223.73" width="28.4" height="4.62" fill="#e2b4b4"/>
<rect x="464.6" y="224.23" width="28.1" height="3.62" fill="#c60808"/>
<rect x="464.6" y="228.35" width="28.4" height="4.62" fill="#e2b4b4"/>
<rect x="464.6" y="228.85" width="28.1" height="3.62" fill="#c60808"/>
<rect x="464.6" y="232.97" width="28.4" height="4.62" fill="#e2b4b4"/>
<rect x="464.6" y="233.47" width="28.1" height="3.62" fill="#c60808"/>
<rect x="464.6" y="237.59" width="28.4" height="4.62" fill="#e2b4b4"/>
<rect x="464.6" y="238.09" width="28.1" height="3.62" fill="#c60808"/>
<rect x="464.6" y="242.21" width="28.4" height="4.62" fill="#e2b4b4"/>
<rect x="464.6" y="242.71" width="28.1" height="3.62" fill="#c60808"/>
<rect x="464.6" y="246.83" width="28.4" height="4.62" fill="#e2b4b4"/>
<rect x="464.6" y="247.33" width="28.1" height="3.62" fill="#c60808"/>
<text x="467.2" y="255.26" font-size="4.8" font-weight="normal" font-style="normal" fill="#b02424" text-anchor="start" textLength="20.43" lengthAdjust="spacingAndGlyphs" stroke="#b02424" stroke-width="0.12">incomplete</text>
<text x="467.2" y="259.88" font-size="4.8" font-weight="normal" font-style="normal" fill="#b02424" text-anchor="start" textLength="20.43" lengthAdjust="spacingAndGlyphs" stroke="#b02424" stroke-width="0.12">incomplete</text>
<text x="467.2" y="264.5" font-size="4.8" font-weight="normal" font-style="normal" fill="#b02424" text-anchor="start" textLength="20.43" lengthAdjust="spacingAndGlyphs" stroke="#b02424" stroke-width="0.12">incomplete</text>
<text x="467.2" y="269.12" font-size="4.8" font-weight="normal" font-style="normal" fill="#b02424" text-anchor="start" textLength="20.43" lengthAdjust="spacingAndGlyphs" stroke="#b02424" stroke-width="0.12">incomplete</text>
<text x="467.2" y="273.74" font-size="4.8" font-weight="normal" font-style="normal" fill="#b02424" text-anchor="start" textLength="20.43" lengthAdjust="spacingAndGlyphs" stroke="#b02424" stroke-width="0.12">incomplete</text>
<text x="467.2" y="278.36" font-size="4.8" font-weight="normal" font-style="normal" fill="#b02424" text-anchor="start" textLength="20.43" lengthAdjust="spacingAndGlyphs" stroke="#b02424" stroke-width="0.12">incomplete</text>
<text x="467.2" y="282.98" font-size="4.8" font-weight="normal" font-style="normal" fill="#b02424" text-anchor="start" textLength="20.43" lengthAdjust="spacingAndGlyphs" stroke="#b02424" stroke-width="0.12">incomplete</text>
<text x="467.2" y="287.6" font-size="4.8" font-weight="normal" font-style="normal" fill="#b02424" text-anchor="start" textLength="20.43" lengthAdjust="spacingAndGlyphs" stroke="#b02424" stroke-width="0.12">incomplete</text>
<rect x="464.6" y="288.41" width="28.4" height="4.62" fill="#e2b4b4"/>
<rect x="464.6" y="288.91" width="28.1" height="3.62" fill="#c60808"/>
<rect x="464.6" y="293.03" width="28.4" height="4.62" fill="#e2b4b4"/>
<rect x="464.6" y="293.53" width="28.1" height="3.62" fill="#c60808"/>
<rect x="464.6" y="297.65" width="28.4" height="4.62" fill="#e2b4b4"/>
<rect x="464.6" y="298.15" width="28.1" height="3.62" fill="#c60808"/>
<rect x="464.6" y="302.27" width="28.4" height="4.62" fill="#e2b4b4"/>
<rect x="464.6" y="302.77" width="28.1" height="3.62" fill="#c60808"/>
<text x="467.2" y="310.7" font-size="4.8" font-weight="normal" font-style="normal" fill="#b02424" text-anchor="start" textLength="20.43" lengthAdjust="spacingAndGlyphs" stroke="#b02424" stroke-width="0.12">incomplete</text>
<rect x="464.6" y="311.51" width="25.2" height="4.62" fill="#e2b4b4"/>
<rect x="464.6" y="312.01" width="24.9" height="3.62" fill="#c60808"/>
<text x="467.2" y="319.94" font-size="4.8" font-weight="normal" font-style="normal" fill="#b02424" text-anchor="start" textLength="20.43" lengthAdjust="spacingAndGlyphs" stroke="#b02424" stroke-width="0.12">incomplete</text>
<text x="467.2" y="324.56" font-size="4.8" font-weight="normal" font-style="normal" fill="#b02424" text-anchor="start" textLength="20.43" lengthAdjust="spacingAndGlyphs" stroke="#b02424" stroke-width="0.12">incomplete</text>
<text x="467.2" y="329.18" font-size="4.8" font-weight="normal" font-style="normal" fill="#b02424" text-anchor="start" textLength="20.43" lengthAdjust="spacingAndGlyphs" stroke="#b02424" stroke-width="0.12">incomplete</text>
<rect x="464.6" y="329.99" width="27.8" height="4.62" fill="#e2b4b4"/>
<rect x="464.6" y="330.49" width="27.5" height="3.62" fill="#c60808"/>
<rect x="464.6" y="334.61" width="27.8" height="4.62" fill="#e2b4b4"/>
<rect x="464.6" y="335.11" width="27.5" height="3.62" fill="#c60808"/>
<rect x="464.6" y="339.23" width="27.8" height="4.62" fill="#e2b4b4"/>
<rect x="464.6" y="339.73" width="27.5" height="3.62" fill="#c60808"/>
<rect x="464.6" y="343.85" width="27.8" height="4.62" fill="#e2b4b4"/>
<rect x="464.6" y="344.35" width="27.5" height="3.62" fill="#c60808"/>
<rect x="464.6" y="348.47" width="27.8" height="4.62" fill="#e2b4b4"/>
<rect x="464.6" y="348.97" width="27.5" height="3.62" fill="#c60808"/>
<rect x="464.6" y="353.09" width="27.8" height="4.62" fill="#e2b4b4"/>
<rect x="464.6" y="353.59" width="27.5" height="3.62" fill="#c60808"/>
<rect x="464.6" y="357.71" width="27.8" height="4.62" fill="#e2b4b4"/>
<rect x="464.6" y="358.21" width="27.5" height="3.62" fill="#c60808"/>
<rect x="464.6" y="362.33" width="27.8" height="4.62" fill="#e2b4b4"/>
<rect x="464.6" y="362.83" width="27.5" height="3.62" fill="#c60808"/>
<text x="467.2" y="370.76" font-size="4.8" font-weight="normal" font-style="normal" fill="#b02424" text-anchor="start" textLength="20.43" lengthAdjust="spacingAndGlyphs" stroke="#b02424" stroke-width="0.12">incomplete</text>
<rect x="464.6" y="371.57" width="26.9" height="4.62" fill="#e2b4b4"/>
<rect x="464.6" y="372.07" width="26.6" height="3.62" fill="#c60808"/>
<rect x="464.6" y="376.19" width="26.9" height="4.62" fill="#e2b4b4"/>
<rect x="464.6" y="376.69" width="26.6" height="3.62" fill="#c60808"/>
<rect x="464.6" y="380.81" width="26.9" height="4.62" fill="#e2b4b4"/>
<rect x="464.6" y="381.31" width="26.6" height="3.62" fill="#c60808"/>
<rect x="464.6" y="385.43" width="28.4" height="4.62" fill="#e2b4b4"/>
<rect x="464.6" y="385.93" width="28.1" height="3.62" fill="#c60808"/>
<rect x="464.6" y="390.05" width="28.4" height="4.62" fill="#e2b4b4"/>
<rect x="464.6" y="390.55" width="28.1" height="3.62" fill="#c60808"/>
<rect x="464.6" y="394.67" width="28.4" height="4.62" fill="#e2b4b4"/>
<rect x="464.6" y="395.17" width="28.1" height="3.62" fill="#c60808"/>
<rect x="464.6" y="399.29" width="28.4" height="4.62" fill="#e2b4b4"/>
<rect x="464.6" y="399.79" width="28.1" height="3.62" fill="#c60808"/>
<rect x="464.6" y="403.91" width="23.4" height="4.62" fill="#e2b4b4"/>
<rect x="464.6" y="404.41" width="23.1" height="3.62" fill="#c60808"/>
<rect x="464.6" y="408.53" width="23.4" height="4.62" fill="#e2b4b4"/>
<rect x="464.6" y="409.03" width="23.1" height="3.62" fill="#c60808"/>
<rect x="464.6" y="413.15" width="23.4" height="4.62" fill="#e2b4b4"/>
<rect x="464.6" y="413.65" width="23.1" height="3.62" fill="#c60808"/>
<rect x="464.6" y="417.77" width="23.4" height="4.62" fill="#e2b4b4"/>
<rect x="464.6" y="418.27" width="23.1" height="3.62" fill="#c60808"/>
<text x="467.2" y="426.2" font-size="4.8" font-weight="normal" font-style="normal" fill="#b02424" text-anchor="start" textLength="20.43" lengthAdjust="spacingAndGlyphs" stroke="#b02424" stroke-width="0.12">incomplete</text>
<rect x="464.6" y="427.01" width="26.4" height="4.62" fill="#e2b4b4"/>
<rect x="464.6" y="427.51" width="26.1" height="3.62" fill="#c60808"/>
<rect x="464.6" y="431.63" width="26.4" height="4.62" fill="#e2b4b4"/>
<rect x="464.6" y="432.13" width="26.1" height="3.62" fill="#c60808"/>
<rect x="464.6" y="436.25" width="26.4" height="4.62" fill="#e2b4b4"/>
<rect x="464.6" y="436.75" width="26.1" height="3.62" fill="#c60808"/>
<rect x="464.6" y="440.87" width="26.4" height="4.62" fill="#e2b4b4"/>
<rect x="464.6" y="441.37" width="26.1" height="3.62" fill="#c60808"/>
<rect x="464.6" y="445.49" width="26.4" height="4.62" fill="#e2b4b4"/>
<rect x="464.6" y="445.99" width="26.1" height="3.62" fill="#c60808"/>
<line x1="464.3" y1="66.65" x2="464.3" y2="451.11" stroke="#222" stroke-width="0.6"/>
<rect x="499.15" y="66.95" width="9.57" height="4.02" fill="#67000d"/>
<rect x="509.42" y="66.95" width="9.57" height="4.02" fill="#67000d"/>
<rect x="519.69" y="66.95" width="9.57" height="4.02" fill="#c3161b"/>
<rect x="530.06" y="67.12" width="9.37" height="3.67" fill="#fff5f0" stroke="#909090" stroke-width="0.55"/>
<rect x="540.23" y="66.95" width="9.57" height="4.02" fill="#9e0d14"/>
<rect x="550.5" y="66.95" width="9.57" height="4.02" fill="#67000d"/>
<rect x="560.77" y="66.95" width="9.57" height="4.02" fill="#9e0d14"/>
<rect x="573.95" y="66.95" width="9.54" height="4.02" fill="#f6553d"/>
<rect x="584.19" y="66.95" width="9.54" height="4.02" fill="#67000d"/>
<rect x="594.43" y="66.95" width="9.54" height="4.02" fill="#c3161b"/>
<rect x="604.67" y="66.95" width="9.54" height="4.02" fill="#c3161b"/>
<rect x="614.91" y="66.95" width="9.54" height="4.02" fill="#67000d"/>
<rect x="625.15" y="66.95" width="9.54" height="4.02" fill="#9e0d14"/>
<rect x="635.39" y="66.95" width="9.54" height="4.02" fill="#9e0d14"/>
<rect x="645.63" y="66.95" width="9.54" height="4.02" fill="#67000d"/>
<rect x="659.25" y="66.95" width="9.3" height="4.02" fill="#f6553d"/>
<rect x="499.15" y="71.57" width="9.57" height="4.02" fill="#67000d"/>
<rect x="509.42" y="71.57" width="9.57" height="4.02" fill="#67000d"/>
<rect x="519.69" y="71.57" width="9.57" height="4.02" fill="#67000d"/>
<rect x="529.96" y="71.57" width="9.57" height="4.02" fill="#67000d"/>
<rect x="540.23" y="71.57" width="9.57" height="4.02" fill="#9e0d14"/>
<rect x="550.5" y="71.57" width="9.57" height="4.02" fill="#67000d"/>
<rect x="560.77" y="71.57" width="9.57" height="4.02" fill="#9e0d14"/>
<rect x="573.95" y="71.57" width="9.54" height="4.02" fill="#e32f27"/>
<rect x="584.19" y="71.57" width="9.54" height="4.02" fill="#9e0d14"/>
<rect x="594.43" y="71.57" width="9.54" height="4.02" fill="#e32f27"/>
<rect x="604.67" y="71.57" width="9.54" height="4.02" fill="#c3161b"/>
<rect x="614.91" y="71.57" width="9.54" height="4.02" fill="#67000d"/>
<rect x="625.15" y="71.57" width="9.54" height="4.02" fill="#c3161b"/>
<rect x="635.39" y="71.57" width="9.54" height="4.02" fill="#9e0d14"/>
<rect x="645.63" y="71.57" width="9.54" height="4.02" fill="#67000d"/>
<rect x="659.25" y="71.57" width="9.3" height="4.02" fill="#9e0d14"/>
<rect x="499.15" y="76.19" width="9.57" height="4.02" fill="#67000d"/>
<rect x="509.42" y="76.19" width="9.57" height="4.02" fill="#67000d"/>
<rect x="519.69" y="76.19" width="9.57" height="4.02" fill="#67000d"/>
<rect x="529.96" y="76.19" width="9.57" height="4.02" fill="#67000d"/>
<rect x="540.23" y="76.19" width="9.57" height="4.02" fill="#9e0d14"/>
<rect x="550.5" y="76.19" width="9.57" height="4.02" fill="#67000d"/>
<rect x="560.77" y="76.19" width="9.57" height="4.02" fill="#9e0d14"/>
<rect x="573.95" y="76.19" width="9.54" height="4.02" fill="#c3161b"/>
<rect x="584.19" y="76.19" width="9.54" height="4.02" fill="#67000d"/>
<rect x="594.43" y="76.19" width="9.54" height="4.02" fill="#c3161b"/>
<rect x="604.67" y="76.19" width="9.54" height="4.02" fill="#9e0d14"/>
<rect x="614.91" y="76.19" width="9.54" height="4.02" fill="#67000d"/>
<rect x="625.15" y="76.19" width="9.54" height="4.02" fill="#9e0d14"/>
<rect x="635.39" y="76.19" width="9.54" height="4.02" fill="#9e0d14"/>
<rect x="645.63" y="76.19" width="9.54" height="4.02" fill="#67000d"/>
<rect x="659.25" y="76.19" width="9.3" height="4.02" fill="#9e0d14"/>
<rect x="499.15" y="80.81" width="9.57" height="4.02" fill="#67000d"/>
<rect x="509.42" y="80.81" width="9.57" height="4.02" fill="#67000d"/>
<rect x="519.69" y="80.81" width="9.57" height="4.02" fill="#67000d"/>
<rect x="529.96" y="80.81" width="9.57" height="4.02" fill="#67000d"/>
<rect x="540.23" y="80.81" width="9.57" height="4.02" fill="#9e0d14"/>
<rect x="550.5" y="80.81" width="9.57" height="4.02" fill="#67000d"/>
<rect x="560.77" y="80.81" width="9.57" height="4.02" fill="#9e0d14"/>
<rect x="573.95" y="80.81" width="9.54" height="4.02" fill="#c3161b"/>
<rect x="584.19" y="80.81" width="9.54" height="4.02" fill="#67000d"/>
<rect x="594.43" y="80.81" width="9.54" height="4.02" fill="#c3161b"/>
<rect x="604.67" y="80.81" width="9.54" height="4.02" fill="#9e0d14"/>
<rect x="614.91" y="80.81" width="9.54" height="4.02" fill="#67000d"/>
<rect x="625.15" y="80.81" width="9.54" height="4.02" fill="#c3161b"/>
<rect x="635.39" y="80.81" width="9.54" height="4.02" fill="#9e0d14"/>
<rect x="645.63" y="80.81" width="9.54" height="4.02" fill="#67000d"/>
<rect x="659.25" y="80.81" width="9.3" height="4.02" fill="#fb6a4a"/>
<rect x="499.15" y="85.43" width="9.57" height="4.02" fill="#67000d"/>
<rect x="509.42" y="85.43" width="9.57" height="4.02" fill="#67000d"/>
<rect x="519.69" y="85.43" width="9.57" height="4.02" fill="#67000d"/>
<rect x="529.96" y="85.43" width="9.57" height="4.02" fill="#67000d"/>
<rect x="540.23" y="85.43" width="9.57" height="4.02" fill="#9e0d14"/>
<rect x="550.5" y="85.43" width="9.57" height="4.02" fill="#67000d"/>
<rect x="560.77" y="85.43" width="9.57" height="4.02" fill="#9e0d14"/>
<rect x="573.95" y="85.43" width="9.54" height="4.02" fill="#e32f27"/>
<rect x="584.19" y="85.43" width="9.54" height="4.02" fill="#67000d"/>
<rect x="594.43" y="85.43" width="9.54" height="4.02" fill="#b21218"/>
<rect x="604.67" y="85.43" width="9.54" height="4.02" fill="#9e0d14"/>
<rect x="614.91" y="85.43" width="9.54" height="4.02" fill="#67000d"/>
<rect x="625.15" y="85.43" width="9.54" height="4.02" fill="#9e0d14"/>
<rect x="635.39" y="85.43" width="9.54" height="4.02" fill="#9e0d14"/>
<rect x="645.63" y="85.43" width="9.54" height="4.02" fill="#67000d"/>
<rect x="659.25" y="85.43" width="9.3" height="4.02" fill="#fb7c5c"/>
<rect x="499.15" y="90.05" width="9.57" height="4.02" fill="#67000d"/>
<rect x="509.42" y="90.05" width="9.57" height="4.02" fill="#67000d"/>
<rect x="519.69" y="90.05" width="9.57" height="4.02" fill="#67000d"/>
<rect x="529.96" y="90.05" width="9.57" height="4.02" fill="#67000d"/>
<rect x="540.23" y="90.05" width="9.57" height="4.02" fill="#9e0d14"/>
<rect x="550.5" y="90.05" width="9.57" height="4.02" fill="#67000d"/>
<rect x="560.77" y="90.05" width="9.57" height="4.02" fill="#9e0d14"/>
<rect x="573.95" y="90.05" width="9.54" height="4.02" fill="#e32f27"/>
<rect x="584.19" y="90.05" width="9.54" height="4.02" fill="#67000d"/>
<rect x="594.43" y="90.05" width="9.54" height="4.02" fill="#b21218"/>
<rect x="604.67" y="90.05" width="9.54" height="4.02" fill="#c3161b"/>
<rect x="614.91" y="90.05" width="9.54" height="4.02" fill="#67000d"/>
<rect x="625.15" y="90.05" width="9.54" height="4.02" fill="#9e0d14"/>
<rect x="635.39" y="90.05" width="9.54" height="4.02" fill="#9e0d14"/>
<rect x="645.63" y="90.05" width="9.54" height="4.02" fill="#9e0d14"/>
<rect x="659.25" y="90.05" width="9.3" height="4.02" fill="#fc8e6e"/>
<rect x="499.15" y="94.67" width="9.57" height="4.02" fill="#67000d"/>
<rect x="509.42" y="94.67" width="9.57" height="4.02" fill="#67000d"/>
<rect x="519.69" y="94.67" width="9.57" height="4.02" fill="#67000d"/>
<rect x="529.96" y="94.67" width="9.57" height="4.02" fill="#67000d"/>
<rect x="540.23" y="94.67" width="9.57" height="4.02" fill="#9e0d14"/>
<rect x="550.5" y="94.67" width="9.57" height="4.02" fill="#67000d"/>
<rect x="560.77" y="94.67" width="9.57" height="4.02" fill="#9e0d14"/>
<rect x="573.95" y="94.67" width="9.54" height="4.02" fill="#c3161b"/>
<rect x="584.19" y="94.67" width="9.54" height="4.02" fill="#9e0d14"/>
<rect x="594.43" y="94.67" width="9.54" height="4.02" fill="#fb6a4a"/>
<rect x="604.67" y="94.67" width="9.54" height="4.02" fill="#c3161b"/>
<rect x="614.91" y="94.67" width="9.54" height="4.02" fill="#67000d"/>
<rect x="625.15" y="94.67" width="9.54" height="4.02" fill="#f6553d"/>
<rect x="635.39" y="94.67" width="9.54" height="4.02" fill="#9e0d14"/>
<rect x="645.63" y="94.67" width="9.54" height="4.02" fill="#9e0d14"/>
<rect x="659.25" y="94.67" width="9.3" height="4.02" fill="#fb7c5c"/>
<rect x="499.15" y="99.29" width="9.57" height="4.02" fill="#67000d"/>
<rect x="509.42" y="99.29" width="9.57" height="4.02" fill="#67000d"/>
<rect x="519.69" y="99.29" width="9.57" height="4.02" fill="#67000d"/>
<rect x="529.96" y="99.29" width="9.57" height="4.02" fill="#67000d"/>
<rect x="540.23" y="99.29" width="9.57" height="4.02" fill="#9e0d14"/>
<rect x="550.5" y="99.29" width="9.57" height="4.02" fill="#67000d"/>
<rect x="560.77" y="99.29" width="9.57" height="4.02" fill="#9e0d14"/>
<rect x="573.95" y="99.29" width="9.54" height="4.02" fill="#c3161b"/>
<rect x="584.19" y="99.29" width="9.54" height="4.02" fill="#67000d"/>
<rect x="594.43" y="99.29" width="9.54" height="4.02" fill="#c3161b"/>
<rect x="604.67" y="99.29" width="9.54" height="4.02" fill="#c3161b"/>
<rect x="614.91" y="99.29" width="9.54" height="4.02" fill="#67000d"/>
<rect x="625.15" y="99.29" width="9.54" height="4.02" fill="#f6553d"/>
<rect x="635.39" y="99.29" width="9.54" height="4.02" fill="#9e0d14"/>
<rect x="645.63" y="99.29" width="9.54" height="4.02" fill="#67000d"/>
<rect x="659.25" y="99.29" width="9.3" height="4.02" fill="#fb7c5c"/>
<rect x="499.15" y="103.91" width="9.57" height="4.02" fill="#67000d"/>
<rect x="509.42" y="103.91" width="9.57" height="4.02" fill="#67000d"/>
<rect x="519.69" y="103.91" width="9.57" height="4.02" fill="#67000d"/>
<rect x="529.96" y="103.91" width="9.57" height="4.02" fill="#67000d"/>
<rect x="540.23" y="103.91" width="9.57" height="4.02" fill="#9e0d14"/>
<rect x="550.5" y="103.91" width="9.57" height="4.02" fill="#67000d"/>
<rect x="560.77" y="103.91" width="9.57" height="4.02" fill="#9e0d14"/>
<rect x="573.95" y="103.91" width="9.54" height="4.02" fill="#c3161b"/>
<rect x="584.19" y="103.91" width="9.54" height="4.02" fill="#67000d"/>
<rect x="594.43" y="103.91" width="9.54" height="4.02" fill="#e32f27"/>
<rect x="604.67" y="103.91" width="9.54" height="4.02" fill="#e32f27"/>
<rect x="614.91" y="103.91" width="9.54" height="4.02" fill="#67000d"/>
<rect x="625.15" y="103.91" width="9.54" height="4.02" fill="#e32f27"/>
<rect x="635.39" y="103.91" width="9.54" height="4.02" fill="#9e0d14"/>
<rect x="645.63" y="103.91" width="9.54" height="4.02" fill="#9e0d14"/>
<rect x="659.25" y="103.91" width="9.3" height="4.02" fill="#fb7c5c"/>
<rect x="499.15" y="108.53" width="9.57" height="4.02" fill="#67000d"/>
<rect x="509.42" y="108.53" width="9.57" height="4.02" fill="#67000d"/>
<rect x="519.69" y="108.53" width="9.57" height="4.02" fill="#67000d"/>
<rect x="529.96" y="108.53" width="9.57" height="4.02" fill="#67000d"/>
<rect x="540.23" y="108.53" width="9.57" height="4.02" fill="#9e0d14"/>
<rect x="550.5" y="108.53" width="9.57" height="4.02" fill="#67000d"/>
<rect x="560.77" y="108.53" width="9.57" height="4.02" fill="#9e0d14"/>
<rect x="573.95" y="108.53" width="9.54" height="4.02" fill="#c3161b"/>
<rect x="584.19" y="108.53" width="9.54" height="4.02" fill="#67000d"/>
<rect x="594.43" y="108.53" width="9.54" height="4.02" fill="#c3161b"/>
<rect x="604.67" y="108.53" width="9.54" height="4.02" fill="#c3161b"/>
<rect x="614.91" y="108.53" width="9.54" height="4.02" fill="#67000d"/>
<rect x="625.15" y="108.53" width="9.54" height="4.02" fill="#f6553d"/>
<rect x="635.39" y="108.53" width="9.54" height="4.02" fill="#9e0d14"/>
<rect x="645.63" y="108.53" width="9.54" height="4.02" fill="#9e0d14"/>
<rect x="659.25" y="108.53" width="9.3" height="4.02" fill="#fc8e6e"/>
<rect x="499.15" y="113.15" width="9.57" height="4.02" fill="#67000d"/>
<rect x="509.42" y="113.15" width="9.57" height="4.02" fill="#67000d"/>
<rect x="519.69" y="113.15" width="9.57" height="4.02" fill="#c3161b"/>
<rect x="530.06" y="113.33" width="9.37" height="3.67" fill="#fff5f0" stroke="#909090" stroke-width="0.55"/>
<rect x="540.23" y="113.15" width="9.57" height="4.02" fill="#9e0d14"/>
<rect x="550.5" y="113.15" width="9.57" height="4.02" fill="#67000d"/>
<rect x="560.77" y="113.15" width="9.57" height="4.02" fill="#9e0d14"/>
<rect x="573.95" y="113.15" width="9.54" height="4.02" fill="#c3161b"/>
<rect x="584.19" y="113.15" width="9.54" height="4.02" fill="#67000d"/>
<rect x="594.43" y="113.15" width="9.54" height="4.02" fill="#fcb297"/>
<rect x="604.67" y="113.15" width="9.54" height="4.02" fill="#f0402f"/>
<rect x="614.91" y="113.15" width="9.54" height="4.02" fill="#67000d"/>
<rect x="625.15" y="113.15" width="9.54" height="4.02" fill="#fee2d5"/>
<rect x="635.39" y="113.15" width="9.54" height="4.02" fill="#9e0d14"/>
<rect x="645.63" y="113.15" width="9.54" height="4.02" fill="#9e0d14"/>
<rect x="659.25" y="113.15" width="9.3" height="4.02" fill="#fc8e6e"/>
<rect x="499.15" y="117.77" width="9.57" height="4.02" fill="#67000d"/>
<rect x="509.42" y="117.77" width="9.57" height="4.02" fill="#67000d"/>
<rect x="519.69" y="117.77" width="9.57" height="4.02" fill="#67000d"/>
<rect x="529.96" y="117.77" width="9.57" height="4.02" fill="#67000d"/>
<rect x="540.23" y="117.77" width="9.57" height="4.02" fill="#9e0d14"/>
<rect x="550.5" y="117.77" width="9.57" height="4.02" fill="#67000d"/>
<rect x="560.77" y="117.77" width="9.57" height="4.02" fill="#9e0d14"/>
<rect x="573.95" y="117.77" width="9.54" height="4.02" fill="#c3161b"/>
<rect x="584.19" y="117.77" width="9.54" height="4.02" fill="#67000d"/>
<rect x="594.43" y="117.77" width="9.54" height="4.02" fill="#fb7c5c"/>
<rect x="604.67" y="117.77" width="9.54" height="4.02" fill="#f0402f"/>
<rect x="614.91" y="117.77" width="9.54" height="4.02" fill="#67000d"/>
<rect x="625.15" y="117.77" width="9.54" height="4.02" fill="#fca082"/>
<rect x="635.39" y="117.77" width="9.54" height="4.02" fill="#9e0d14"/>
<rect x="645.63" y="117.77" width="9.54" height="4.02" fill="#9e0d14"/>
<rect x="659.25" y="117.77" width="9.3" height="4.02" fill="#fc8e6e"/>
<rect x="499.15" y="122.39" width="9.57" height="4.02" fill="#67000d"/>
<rect x="509.42" y="122.39" width="9.57" height="4.02" fill="#67000d"/>
<rect x="519.69" y="122.39" width="9.57" height="4.02" fill="#c3161b"/>
<rect x="530.06" y="122.56" width="9.37" height="3.67" fill="#fff5f0" stroke="#909090" stroke-width="0.55"/>
<rect x="540.23" y="122.39" width="9.57" height="4.02" fill="#9e0d14"/>
<rect x="550.5" y="122.39" width="9.57" height="4.02" fill="#67000d"/>
<rect x="560.87" y="122.56" width="9.37" height="3.67" fill="#fff5f0" stroke="#909090" stroke-width="0.55"/>
<rect x="573.95" y="122.39" width="9.54" height="4.02" fill="#c3161b"/>
<rect x="584.19" y="122.39" width="9.54" height="4.02" fill="#67000d"/>
<rect x="594.43" y="122.39" width="9.54" height="4.02" fill="#e32f27"/>
<rect x="604.67" y="122.39" width="9.54" height="4.02" fill="#e32f27"/>
<rect x="614.91" y="122.39" width="9.54" height="4.02" fill="#67000d"/>
<rect x="625.15" y="122.39" width="9.54" height="4.02" fill="#f6553d"/>
<rect x="635.39" y="122.39" width="9.54" height="4.02" fill="#9e0d14"/>
<rect x="645.63" y="122.39" width="9.54" height="4.02" fill="#9e0d14"/>
<rect x="659.25" y="122.39" width="9.3" height="4.02" fill="#fc8e6e"/>
<rect x="499.25" y="127.19" width="9.37" height="3.67" fill="#fff5f0" stroke="#909090" stroke-width="0.55"/>
<rect x="509.52" y="127.19" width="9.37" height="3.67" fill="#fff5f0" stroke="#909090" stroke-width="0.55"/>
<rect x="519.79" y="127.19" width="9.37" height="3.67" fill="#fff5f0" stroke="#909090" stroke-width="0.55"/>
<rect x="530.06" y="127.19" width="9.37" height="3.67" fill="#fff5f0" stroke="#909090" stroke-width="0.55"/>
<rect x="540.23" y="127.01" width="9.57" height="4.02" fill="#9e0d14"/>
<rect x="550.6" y="127.19" width="9.37" height="3.67" fill="#fff5f0" stroke="#909090" stroke-width="0.55"/>
<rect x="560.87" y="127.19" width="9.37" height="3.67" fill="#fff5f0" stroke="#909090" stroke-width="0.55"/>
<rect x="573.95" y="127.01" width="9.54" height="4.02" fill="#fb7c5c"/>
<rect x="584.19" y="127.01" width="9.54" height="4.02" fill="#b21218"/>
<rect x="594.43" y="127.01" width="9.54" height="4.02" fill="#fcb297"/>
<rect x="604.67" y="127.01" width="9.54" height="4.02" fill="#fcb297"/>
<rect x="614.91" y="127.01" width="9.54" height="4.02" fill="#9e0d14"/>
<rect x="625.25" y="127.19" width="9.34" height="3.67" fill="#fff5f0" stroke="#909090" stroke-width="0.55"/>
<rect x="635.39" y="127.01" width="9.54" height="4.02" fill="#c3161b"/>
<rect x="645.63" y="127.01" width="9.54" height="4.02" fill="#e32f27"/>
<rect x="659.25" y="127.01" width="9.3" height="4.02" fill="#fee2d5"/>
<rect x="499.15" y="131.63" width="9.57" height="4.02" fill="#67000d"/>
<rect x="509.42" y="131.63" width="9.57" height="4.02" fill="#67000d"/>
<rect x="519.69" y="131.63" width="9.57" height="4.02" fill="#9e0d14"/>
<rect x="529.96" y="131.63" width="9.57" height="4.02" fill="#67000d"/>
<rect x="540.23" y="131.63" width="9.57" height="4.02" fill="#9e0d14"/>
<rect x="550.5" y="131.63" width="9.57" height="4.02" fill="#67000d"/>
<rect x="560.77" y="131.63" width="9.57" height="4.02" fill="#9e0d14"/>
<rect x="573.95" y="131.63" width="9.54" height="4.02" fill="#e32f27"/>
<rect x="584.19" y="131.63" width="9.54" height="4.02" fill="#67000d"/>
<rect x="594.43" y="131.63" width="9.54" height="4.02" fill="#e32f27"/>
<rect x="604.67" y="131.63" width="9.54" height="4.02" fill="#f6553d"/>
<rect x="614.91" y="131.63" width="9.54" height="4.02" fill="#67000d"/>
<rect x="625.25" y="131.81" width="9.34" height="3.67" fill="#fff5f0" stroke="#909090" stroke-width="0.55"/>
<rect x="635.39" y="131.63" width="9.54" height="4.02" fill="#9e0d14"/>
<rect x="645.63" y="131.63" width="9.54" height="4.02" fill="#9e0d14"/>
<rect x="659.25" y="131.63" width="9.3" height="4.02" fill="#fcb297"/>
<rect x="499.15" y="136.25" width="9.57" height="4.02" fill="#67000d"/>
<rect x="509.42" y="136.25" width="9.57" height="4.02" fill="#67000d"/>
<rect x="519.69" y="136.25" width="9.57" height="4.02" fill="#e32f27"/>
<rect x="530.06" y="136.42" width="9.37" height="3.67" fill="#fff5f0" stroke="#909090" stroke-width="0.55"/>
<rect x="540.23" y="136.25" width="9.57" height="4.02" fill="#9e0d14"/>
<rect x="550.5" y="136.25" width="9.57" height="4.02" fill="#67000d"/>
<rect x="560.87" y="136.42" width="9.37" height="3.67" fill="#fff5f0" stroke="#909090" stroke-width="0.55"/>
<rect x="573.95" y="136.25" width="9.54" height="4.02" fill="#e32f27"/>
<rect x="584.19" y="136.25" width="9.54" height="4.02" fill="#67000d"/>
<rect x="594.43" y="136.25" width="9.54" height="4.02" fill="#f6553d"/>
<rect x="604.67" y="136.25" width="9.54" height="4.02" fill="#f6553d"/>
<rect x="614.91" y="136.25" width="9.54" height="4.02" fill="#67000d"/>
<rect x="625.25" y="136.42" width="9.34" height="3.67" fill="#fff5f0" stroke="#909090" stroke-width="0.55"/>
<rect x="635.39" y="136.25" width="9.54" height="4.02" fill="#9e0d14"/>
<rect x="645.63" y="136.25" width="9.54" height="4.02" fill="#9e0d14"/>
<rect x="659.25" y="136.25" width="9.3" height="4.02" fill="#fcb297"/>
<rect x="499.15" y="140.87" width="9.57" height="4.02" fill="#67000d"/>
<rect x="509.42" y="140.87" width="9.57" height="4.02" fill="#67000d"/>
<rect x="519.69" y="140.87" width="9.57" height="4.02" fill="#9e0d14"/>
<rect x="529.96" y="140.87" width="9.57" height="4.02" fill="#67000d"/>
<rect x="540.23" y="140.87" width="9.57" height="4.02" fill="#9e0d14"/>
<rect x="550.5" y="140.87" width="9.57" height="4.02" fill="#67000d"/>
<rect x="560.87" y="141.04" width="9.37" height="3.67" fill="#fff5f0" stroke="#909090" stroke-width="0.55"/>
<rect x="573.95" y="140.87" width="9.54" height="4.02" fill="#c3161b"/>
<rect x="584.19" y="140.87" width="9.54" height="4.02" fill="#67000d"/>
<rect x="594.43" y="140.87" width="9.54" height="4.02" fill="#e32f27"/>
<rect x="604.67" y="140.87" width="9.54" height="4.02" fill="#e32f27"/>
<rect x="614.91" y="140.87" width="9.54" height="4.02" fill="#67000d"/>
<rect x="625.15" y="140.87" width="9.54" height="4.02" fill="#fcc3ac"/>
<rect x="635.39" y="140.87" width="9.54" height="4.02" fill="#9e0d14"/>
<rect x="645.63" y="140.87" width="9.54" height="4.02" fill="#9e0d14"/>
<rect x="659.25" y="140.87" width="9.3" height="4.02" fill="#fca082"/>
<rect x="499.15" y="145.49" width="9.57" height="4.02" fill="#67000d"/>
<rect x="509.42" y="145.49" width="9.57" height="4.02" fill="#67000d"/>
<rect x="519.69" y="145.49" width="9.57" height="4.02" fill="#9e0d14"/>
<rect x="529.96" y="145.49" width="9.57" height="4.02" fill="#67000d"/>
<rect x="540.23" y="145.49" width="9.57" height="4.02" fill="#9e0d14"/>
<rect x="550.5" y="145.49" width="9.57" height="4.02" fill="#e32f27"/>
<rect x="560.77" y="145.49" width="9.57" height="4.02" fill="#9e0d14"/>
<rect x="573.95" y="145.49" width="9.54" height="4.02" fill="#9e0d14"/>
<rect x="584.19" y="145.49" width="9.54" height="4.02" fill="#9e0d14"/>
<rect x="594.43" y="145.49" width="9.54" height="4.02" fill="#fb7c5c"/>
<rect x="604.67" y="145.49" width="9.54" height="4.02" fill="#e32f27"/>
<rect x="614.91" y="145.49" width="9.54" height="4.02" fill="#67000d"/>
<rect x="625.15" y="145.49" width="9.54" height="4.02" fill="#fb7c5c"/>
<rect x="635.39" y="145.49" width="9.54" height="4.02" fill="#9e0d14"/>
<rect x="645.63" y="145.49" width="9.54" height="4.02" fill="#c3161b"/>
<rect x="659.25" y="145.49" width="9.3" height="4.02" fill="#fc8e6e"/>
<rect x="499.15" y="150.11" width="9.57" height="4.02" fill="#67000d"/>
<rect x="509.42" y="150.11" width="9.57" height="4.02" fill="#67000d"/>
<rect x="519.69" y="150.11" width="9.57" height="4.02" fill="#9e0d14"/>
<rect x="529.96" y="150.11" width="9.57" height="4.02" fill="#67000d"/>
<rect x="540.23" y="150.11" width="9.57" height="4.02" fill="#9e0d14"/>
<rect x="550.5" y="150.11" width="9.57" height="4.02" fill="#e32f27"/>
<rect x="560.77" y="150.11" width="9.57" height="4.02" fill="#9e0d14"/>
<rect x="573.95" y="150.11" width="9.54" height="4.02" fill="#9e0d14"/>
<rect x="584.19" y="150.11" width="9.54" height="4.02" fill="#9e0d14"/>
<rect x="594.43" y="150.11" width="9.54" height="4.02" fill="#fb7c5c"/>
<rect x="604.67" y="150.11" width="9.54" height="4.02" fill="#e32f27"/>
<rect x="614.91" y="150.11" width="9.54" height="4.02" fill="#67000d"/>
<rect x="625.15" y="150.11" width="9.54" height="4.02" fill="#fb7c5c"/>
<rect x="635.39" y="150.11" width="9.54" height="4.02" fill="#9e0d14"/>
<rect x="645.63" y="150.11" width="9.54" height="4.02" fill="#67000d"/>
<rect x="659.25" y="150.11" width="9.3" height="4.02" fill="#fc8e6e"/>
<rect x="499.15" y="154.73" width="9.57" height="4.02" fill="#fca082"/>
<rect x="509.52" y="154.91" width="9.37" height="3.67" fill="#fff5f0" stroke="#909090" stroke-width="0.55"/>
<rect x="519.69" y="154.73" width="9.57" height="4.02" fill="#67000d"/>
<rect x="530.06" y="154.91" width="9.37" height="3.67" fill="#fff5f0" stroke="#909090" stroke-width="0.55"/>
<rect x="540.33" y="154.91" width="9.37" height="3.67" fill="#fff5f0" stroke="#909090" stroke-width="0.55"/>
<rect x="550.6" y="154.91" width="9.37" height="3.67" fill="#fff5f0" stroke="#909090" stroke-width="0.55"/>
<rect x="560.77" y="154.73" width="9.57" height="4.02" fill="#fee2d5"/>
<rect x="573.95" y="154.73" width="9.54" height="4.02" fill="#9e0d14"/>
<rect x="584.19" y="154.73" width="9.54" height="4.02" fill="#9e0d14"/>
<rect x="594.43" y="154.73" width="9.54" height="4.02" fill="#fb7c5c"/>
<rect x="604.67" y="154.73" width="9.54" height="4.02" fill="#e32f27"/>
<rect x="614.91" y="154.73" width="9.54" height="4.02" fill="#67000d"/>
<rect x="625.15" y="154.73" width="9.54" height="4.02" fill="#fb7c5c"/>
<rect x="635.39" y="154.73" width="9.54" height="4.02" fill="#9e0d14"/>
<rect x="645.63" y="154.73" width="9.54" height="4.02" fill="#d32020"/>
<rect x="659.25" y="154.73" width="9.3" height="4.02" fill="#fcc3ac"/>
<rect x="499.15" y="159.35" width="9.57" height="4.02" fill="#67000d"/>
<rect x="509.42" y="159.35" width="9.57" height="4.02" fill="#67000d"/>
<rect x="519.69" y="159.35" width="9.57" height="4.02" fill="#c3161b"/>
<rect x="530.06" y="159.53" width="9.37" height="3.67" fill="#fff5f0" stroke="#909090" stroke-width="0.55"/>
<rect x="540.23" y="159.35" width="9.57" height="4.02" fill="#9e0d14"/>
<rect x="550.5" y="159.35" width="9.57" height="4.02" fill="#e32f27"/>
<rect x="560.77" y="159.35" width="9.57" height="4.02" fill="#9e0d14"/>
<rect x="573.95" y="159.35" width="9.54" height="4.02" fill="#9e0d14"/>
<rect x="584.19" y="159.35" width="9.54" height="4.02" fill="#c3161b"/>
<rect x="594.43" y="159.35" width="9.54" height="4.02" fill="#fcc3ac"/>
<rect x="604.67" y="159.35" width="9.54" height="4.02" fill="#e32f27"/>
<rect x="614.91" y="159.35" width="9.54" height="4.02" fill="#67000d"/>
<rect x="625.15" y="159.35" width="9.54" height="4.02" fill="#fb7c5c"/>
<rect x="635.39" y="159.35" width="9.54" height="4.02" fill="#c3161b"/>
<rect x="645.63" y="159.35" width="9.54" height="4.02" fill="#c3161b"/>
<rect x="659.25" y="159.35" width="9.3" height="4.02" fill="#fcb297"/>
<rect x="499.15" y="163.97" width="9.57" height="4.02" fill="#67000d"/>
<rect x="509.42" y="163.97" width="9.57" height="4.02" fill="#67000d"/>
<rect x="519.69" y="163.97" width="9.57" height="4.02" fill="#c3161b"/>
<rect x="530.06" y="164.15" width="9.37" height="3.67" fill="#fff5f0" stroke="#909090" stroke-width="0.55"/>
<rect x="540.23" y="163.97" width="9.57" height="4.02" fill="#9e0d14"/>
<rect x="550.5" y="163.97" width="9.57" height="4.02" fill="#e32f27"/>
<rect x="560.77" y="163.97" width="9.57" height="4.02" fill="#9e0d14"/>
<rect x="573.95" y="163.97" width="9.54" height="4.02" fill="#9e0d14"/>
<rect x="584.19" y="163.97" width="9.54" height="4.02" fill="#9e0d14"/>
<rect x="594.43" y="163.97" width="9.54" height="4.02" fill="#fb7c5c"/>
<rect x="604.67" y="163.97" width="9.54" height="4.02" fill="#e32f27"/>
<rect x="614.91" y="163.97" width="9.54" height="4.02" fill="#67000d"/>
<rect x="625.15" y="163.97" width="9.54" height="4.02" fill="#fb7c5c"/>
<rect x="635.39" y="163.97" width="9.54" height="4.02" fill="#9e0d14"/>
<rect x="645.63" y="163.97" width="9.54" height="4.02" fill="#67000d"/>
<rect x="659.25" y="163.97" width="9.3" height="4.02" fill="#fc8e6e"/>
<rect x="499.15" y="168.59" width="9.57" height="4.02" fill="#67000d"/>
<rect x="509.42" y="168.59" width="9.57" height="4.02" fill="#67000d"/>
<rect x="519.69" y="168.59" width="9.57" height="4.02" fill="#e32f27"/>
<rect x="530.06" y="168.77" width="9.37" height="3.67" fill="#fff5f0" stroke="#909090" stroke-width="0.55"/>
<rect x="540.23" y="168.59" width="9.57" height="4.02" fill="#9e0d14"/>
<rect x="550.5" y="168.59" width="9.57" height="4.02" fill="#67000d"/>
<rect x="560.77" y="168.59" width="9.57" height="4.02" fill="#9e0d14"/>
<rect x="573.95" y="168.59" width="9.54" height="4.02" fill="#fb7c5c"/>
<rect x="584.19" y="168.59" width="9.54" height="4.02" fill="#9e0d14"/>
<rect x="594.43" y="168.59" width="9.54" height="4.02" fill="#fb7c5c"/>
<rect x="604.67" y="168.59" width="9.54" height="4.02" fill="#f6553d"/>
<rect x="614.91" y="168.59" width="9.54" height="4.02" fill="#67000d"/>
<rect x="625.15" y="168.59" width="9.54" height="4.02" fill="#fca082"/>
<rect x="635.39" y="168.59" width="9.54" height="4.02" fill="#9e0d14"/>
<rect x="645.63" y="168.59" width="9.54" height="4.02" fill="#9e0d14"/>
<rect x="659.25" y="168.59" width="9.3" height="4.02" fill="#fb7c5c"/>
<rect x="499.25" y="173.39" width="9.37" height="3.67" fill="#fff5f0" stroke="#909090" stroke-width="0.55"/>
<rect x="509.52" y="173.39" width="9.37" height="3.67" fill="#fff5f0" stroke="#909090" stroke-width="0.55"/>
<rect x="519.69" y="173.21" width="9.57" height="4.02" fill="#9e0d14"/>
<rect x="529.96" y="173.21" width="9.57" height="4.02" fill="#67000d"/>
<rect x="540.23" y="173.21" width="9.57" height="4.02" fill="#9e0d14"/>
<rect x="550.6" y="173.39" width="9.37" height="3.67" fill="#fff5f0" stroke="#909090" stroke-width="0.55"/>
<rect x="560.87" y="173.39" width="9.37" height="3.67" fill="#fff5f0" stroke="#909090" stroke-width="0.55"/>
<rect x="573.95" y="173.21" width="9.54" height="4.02" fill="#fb6a4a"/>
<rect x="584.19" y="173.21" width="9.54" height="4.02" fill="#9e0d14"/>
<rect x="594.43" y="173.21" width="9.54" height="4.02" fill="#fb7c5c"/>
<rect x="604.67" y="173.21" width="9.54" height="4.02" fill="#f0402f"/>
<rect x="614.91" y="173.21" width="9.54" height="4.02" fill="#67000d"/>
<rect x="625.15" y="173.21" width="9.54" height="4.02" fill="#fb7c5c"/>
<rect x="635.39" y="173.21" width="9.54" height="4.02" fill="#67000d"/>
<rect x="645.63" y="173.21" width="9.54" height="4.02" fill="#67000d"/>
<rect x="659.25" y="173.21" width="9.3" height="4.02" fill="#fca082"/>
<rect x="499.15" y="182.45" width="9.57" height="4.02" fill="#67000d"/>
<rect x="509.42" y="182.45" width="9.57" height="4.02" fill="#67000d"/>
<rect x="519.69" y="182.45" width="9.57" height="4.02" fill="#9e0d14"/>
<rect x="529.96" y="182.45" width="9.57" height="4.02" fill="#67000d"/>
<rect x="540.23" y="182.45" width="9.57" height="4.02" fill="#9e0d14"/>
<rect x="550.5" y="182.45" width="9.57" height="4.02" fill="#67000d"/>
<rect x="560.87" y="182.62" width="9.37" height="3.67" fill="#fff5f0" stroke="#909090" stroke-width="0.55"/>
<rect x="573.95" y="182.45" width="9.54" height="4.02" fill="#9e0d14"/>
<rect x="584.19" y="182.45" width="9.54" height="4.02" fill="#9e0d14"/>
<rect x="594.43" y="182.45" width="9.54" height="4.02" fill="#fb6a4a"/>
<rect x="604.67" y="182.45" width="9.54" height="4.02" fill="#e32f27"/>
<rect x="614.91" y="182.45" width="9.54" height="4.02" fill="#67000d"/>
<rect x="625.15" y="182.45" width="9.54" height="4.02" fill="#fb7c5c"/>
<rect x="635.39" y="182.45" width="9.54" height="4.02" fill="#9e0d14"/>
<rect x="645.63" y="182.45" width="9.54" height="4.02" fill="#67000d"/>
<rect x="659.25" y="182.45" width="9.3" height="4.02" fill="#fb6a4a"/>
<rect x="499.25" y="187.25" width="9.37" height="3.67" fill="#fff5f0" stroke="#909090" stroke-width="0.55"/>
<rect x="509.52" y="187.25" width="9.37" height="3.67" fill="#fff5f0" stroke="#909090" stroke-width="0.55"/>
<rect x="519.69" y="187.07" width="9.57" height="4.02" fill="#9e0d14"/>
<rect x="529.96" y="187.07" width="9.57" height="4.02" fill="#67000d"/>
<rect x="540.23" y="187.07" width="9.57" height="4.02" fill="#9e0d14"/>
<rect x="550.6" y="187.25" width="9.37" height="3.67" fill="#fff5f0" stroke="#909090" stroke-width="0.55"/>
<rect x="560.87" y="187.25" width="9.37" height="3.67" fill="#fff5f0" stroke="#909090" stroke-width="0.55"/>
<rect x="573.95" y="187.07" width="9.54" height="4.02" fill="#fca082"/>
<rect x="584.19" y="187.07" width="9.54" height="4.02" fill="#9e0d14"/>
<rect x="594.43" y="187.07" width="9.54" height="4.02" fill="#fcc3ac"/>
<rect x="604.67" y="187.07" width="9.54" height="4.02" fill="#fca082"/>
<rect x="614.91" y="187.07" width="9.54" height="4.02" fill="#67000d"/>
<rect x="625.25" y="187.25" width="9.34" height="3.67" fill="#fff5f0" stroke="#909090" stroke-width="0.55"/>
<rect x="635.39" y="187.07" width="9.54" height="4.02" fill="#c3161b"/>
<rect x="645.63" y="187.07" width="9.54" height="4.02" fill="#d32020"/>
<rect x="659.25" y="187.07" width="9.3" height="4.02" fill="#fcc3ac"/>
<rect x="499.25" y="191.87" width="9.37" height="3.67" fill="#fff5f0" stroke="#909090" stroke-width="0.55"/>
<rect x="509.52" y="191.87" width="9.37" height="3.67" fill="#fff5f0" stroke="#909090" stroke-width="0.55"/>
<rect x="519.79" y="191.87" width="9.37" height="3.67" fill="#fff5f0" stroke="#909090" stroke-width="0.55"/>
<rect x="529.96" y="191.69" width="9.57" height="4.02" fill="#67000d"/>
<rect x="540.23" y="191.69" width="9.57" height="4.02" fill="#9e0d14"/>
<rect x="550.6" y="191.87" width="9.37" height="3.67" fill="#fff5f0" stroke="#909090" stroke-width="0.55"/>
<rect x="560.87" y="191.87" width="9.37" height="3.67" fill="#fff5f0" stroke="#909090" stroke-width="0.55"/>
<rect x="573.95" y="191.69" width="9.54" height="4.02" fill="#fca082"/>
<rect x="584.19" y="191.69" width="9.54" height="4.02" fill="#9e0d14"/>
<rect x="594.43" y="191.69" width="9.54" height="4.02" fill="#fcc3ac"/>
<rect x="604.67" y="191.69" width="9.54" height="4.02" fill="#fca082"/>
<rect x="614.91" y="191.69" width="9.54" height="4.02" fill="#67000d"/>
<rect x="625.15" y="191.69" width="9.54" height="4.02" fill="#fb7c5c"/>
<rect x="635.39" y="191.69" width="9.54" height="4.02" fill="#c3161b"/>
<rect x="645.63" y="191.69" width="9.54" height="4.02" fill="#fcb297"/>
<rect x="659.25" y="191.69" width="9.3" height="4.02" fill="#fee2d5"/>
<rect x="499.25" y="196.49" width="9.37" height="3.67" fill="#fff5f0" stroke="#909090" stroke-width="0.55"/>
<rect x="509.52" y="196.49" width="9.37" height="3.67" fill="#fff5f0" stroke="#909090" stroke-width="0.55"/>
<rect x="519.79" y="196.49" width="9.37" height="3.67" fill="#fff5f0" stroke="#909090" stroke-width="0.55"/>
<rect x="529.96" y="196.31" width="9.57" height="4.02" fill="#67000d"/>
<rect x="540.23" y="196.31" width="9.57" height="4.02" fill="#9e0d14"/>
<rect x="550.6" y="196.49" width="9.37" height="3.67" fill="#fff5f0" stroke="#909090" stroke-width="0.55"/>
<rect x="560.87" y="196.49" width="9.37" height="3.67" fill="#fff5f0" stroke="#909090" stroke-width="0.55"/>
<rect x="573.95" y="196.31" width="9.54" height="4.02" fill="#fca082"/>
<rect x="584.19" y="196.31" width="9.54" height="4.02" fill="#9e0d14"/>
<rect x="594.43" y="196.31" width="9.54" height="4.02" fill="#fcc3ac"/>
<rect x="604.67" y="196.31" width="9.54" height="4.02" fill="#fb7c5c"/>
<rect x="614.91" y="196.31" width="9.54" height="4.02" fill="#67000d"/>
<rect x="625.25" y="196.49" width="9.34" height="3.67" fill="#fff5f0" stroke="#909090" stroke-width="0.55"/>
<rect x="635.39" y="196.31" width="9.54" height="4.02" fill="#c3161b"/>
<rect x="645.63" y="196.31" width="9.54" height="4.02" fill="#f6553d"/>
<rect x="659.25" y="196.31" width="9.3" height="4.02" fill="#fcc3ac"/>
<rect x="499.25" y="201.1" width="9.37" height="3.67" fill="#fff5f0" stroke="#909090" stroke-width="0.55"/>
<rect x="509.52" y="201.1" width="9.37" height="3.67" fill="#fff5f0" stroke="#909090" stroke-width="0.55"/>
<rect x="519.79" y="201.1" width="9.37" height="3.67" fill="#fff5f0" stroke="#909090" stroke-width="0.55"/>
<rect x="530.06" y="201.1" width="9.37" height="3.67" fill="#fff5f0" stroke="#909090" stroke-width="0.55"/>
<rect x="540.23" y="200.93" width="9.57" height="4.02" fill="#9e0d14"/>
<rect x="550.6" y="201.1" width="9.37" height="3.67" fill="#fff5f0" stroke="#909090" stroke-width="0.55"/>
<rect x="560.87" y="201.1" width="9.37" height="3.67" fill="#fff5f0" stroke="#909090" stroke-width="0.55"/>
<rect x="573.95" y="200.93" width="9.54" height="4.02" fill="#fca082"/>
<rect x="584.19" y="200.93" width="9.54" height="4.02" fill="#e32f27"/>
<rect x="594.43" y="200.93" width="9.54" height="4.02" fill="#fcc3ac"/>
<rect x="604.67" y="200.93" width="9.54" height="4.02" fill="#fca082"/>
<rect x="614.91" y="200.93" width="9.54" height="4.02" fill="#67000d"/>
<rect x="625.25" y="201.1" width="9.34" height="3.67" fill="#fff5f0" stroke="#909090" stroke-width="0.55"/>
<rect x="635.39" y="200.93" width="9.54" height="4.02" fill="#c3161b"/>
<rect x="645.63" y="200.93" width="9.54" height="4.02" fill="#fcb297"/>
<rect x="659.25" y="200.93" width="9.3" height="4.02" fill="#fcc3ac"/>
<rect x="499.15" y="205.55" width="9.57" height="4.02" fill="#67000d"/>
<rect x="509.42" y="205.55" width="9.57" height="4.02" fill="#67000d"/>
<rect x="519.69" y="205.55" width="9.57" height="4.02" fill="#c3161b"/>
<rect x="529.96" y="205.55" width="9.57" height="4.02" fill="#67000d"/>
<rect x="540.23" y="205.55" width="9.57" height="4.02" fill="#9e0d14"/>
<rect x="550.5" y="205.55" width="9.57" height="4.02" fill="#67000d"/>
<rect x="560.77" y="205.55" width="9.57" height="4.02" fill="#9e0d14"/>
<rect x="573.95" y="205.55" width="9.54" height="4.02" fill="#b21218"/>
<rect x="584.19" y="205.55" width="9.54" height="4.02" fill="#c3161b"/>
<rect x="594.43" y="205.55" width="9.54" height="4.02" fill="#67000d"/>
<rect x="604.67" y="205.55" width="9.54" height="4.02" fill="#e32f27"/>
<rect x="614.91" y="205.55" width="9.54" height="4.02" fill="#67000d"/>
<rect x="625.15" y="205.55" width="9.54" height="4.02" fill="#f0402f"/>
<rect x="635.39" y="205.55" width="9.54" height="4.02" fill="#67000d"/>
<rect x="645.63" y="205.55" width="9.54" height="4.02" fill="#67000d"/>
<rect x="659.25" y="205.55" width="9.3" height="4.02" fill="#fb7c5c"/>
<rect x="499.15" y="210.17" width="9.57" height="4.02" fill="#67000d"/>
<rect x="509.42" y="210.17" width="9.57" height="4.02" fill="#67000d"/>
<rect x="519.69" y="210.17" width="9.57" height="4.02" fill="#c3161b"/>
<rect x="529.96" y="210.17" width="9.57" height="4.02" fill="#67000d"/>
<rect x="540.23" y="210.17" width="9.57" height="4.02" fill="#9e0d14"/>
<rect x="550.5" y="210.17" width="9.57" height="4.02" fill="#67000d"/>
<rect x="560.77" y="210.17" width="9.57" height="4.02" fill="#9e0d14"/>
<rect x="573.95" y="210.17" width="9.54" height="4.02" fill="#b21218"/>
<rect x="584.19" y="210.17" width="9.54" height="4.02" fill="#c3161b"/>
<rect x="594.43" y="210.17" width="9.54" height="4.02" fill="#67000d"/>
<rect x="604.67" y="210.17" width="9.54" height="4.02" fill="#e32f27"/>
<rect x="614.91" y="210.17" width="9.54" height="4.02" fill="#67000d"/>
<rect x="625.15" y="210.17" width="9.54" height="4.02" fill="#f0402f"/>
<rect x="635.39" y="210.17" width="9.54" height="4.02" fill="#67000d"/>
<rect x="645.63" y="210.17" width="9.54" height="4.02" fill="#67000d"/>
<rect x="659.25" y="210.17" width="9.3" height="4.02" fill="#fb7c5c"/>
<rect x="499.15" y="214.79" width="9.57" height="4.02" fill="#67000d"/>
<rect x="509.42" y="214.79" width="9.57" height="4.02" fill="#67000d"/>
<rect x="519.69" y="214.79" width="9.57" height="4.02" fill="#c3161b"/>
<rect x="529.96" y="214.79" width="9.57" height="4.02" fill="#67000d"/>
<rect x="540.23" y="214.79" width="9.57" height="4.02" fill="#9e0d14"/>
<rect x="550.5" y="214.79" width="9.57" height="4.02" fill="#67000d"/>
<rect x="560.77" y="214.79" width="9.57" height="4.02" fill="#9e0d14"/>
<rect x="573.95" y="214.79" width="9.54" height="4.02" fill="#b21218"/>
<rect x="584.19" y="214.79" width="9.54" height="4.02" fill="#c3161b"/>
<rect x="594.43" y="214.79" width="9.54" height="4.02" fill="#67000d"/>
<rect x="604.67" y="214.79" width="9.54" height="4.02" fill="#e32f27"/>
<rect x="614.91" y="214.79" width="9.54" height="4.02" fill="#67000d"/>
<rect x="625.15" y="214.79" width="9.54" height="4.02" fill="#f0402f"/>
<rect x="635.39" y="214.79" width="9.54" height="4.02" fill="#67000d"/>
<rect x="645.63" y="214.79" width="9.54" height="4.02" fill="#67000d"/>
<rect x="659.25" y="214.79" width="9.3" height="4.02" fill="#fb7c5c"/>
<rect x="499.15" y="219.41" width="9.57" height="4.02" fill="#67000d"/>
<rect x="509.42" y="219.41" width="9.57" height="4.02" fill="#67000d"/>
<rect x="519.69" y="219.41" width="9.57" height="4.02" fill="#9e0d14"/>
<rect x="529.96" y="219.41" width="9.57" height="4.02" fill="#67000d"/>
<rect x="540.23" y="219.41" width="9.57" height="4.02" fill="#9e0d14"/>
<rect x="550.5" y="219.41" width="9.57" height="4.02" fill="#67000d"/>
<rect x="560.77" y="219.41" width="9.57" height="4.02" fill="#9e0d14"/>
<rect x="573.95" y="219.41" width="9.54" height="4.02" fill="#b21218"/>
<rect x="584.19" y="219.41" width="9.54" height="4.02" fill="#c3161b"/>
<rect x="594.43" y="219.41" width="9.54" height="4.02" fill="#67000d"/>
<rect x="604.67" y="219.41" width="9.54" height="4.02" fill="#e32f27"/>
<rect x="614.91" y="219.41" width="9.54" height="4.02" fill="#67000d"/>
<rect x="625.15" y="219.41" width="9.54" height="4.02" fill="#f0402f"/>
<rect x="635.39" y="219.41" width="9.54" height="4.02" fill="#67000d"/>
<rect x="645.63" y="219.41" width="9.54" height="4.02" fill="#67000d"/>
<rect x="659.25" y="219.41" width="9.3" height="4.02" fill="#fb7c5c"/>
<rect x="499.15" y="224.03" width="9.57" height="4.02" fill="#67000d"/>
<rect x="509.42" y="224.03" width="9.57" height="4.02" fill="#67000d"/>
<rect x="519.69" y="224.03" width="9.57" height="4.02" fill="#9e0d14"/>
<rect x="529.96" y="224.03" width="9.57" height="4.02" fill="#67000d"/>
<rect x="540.23" y="224.03" width="9.57" height="4.02" fill="#9e0d14"/>
<rect x="550.5" y="224.03" width="9.57" height="4.02" fill="#67000d"/>
<rect x="560.77" y="224.03" width="9.57" height="4.02" fill="#9e0d14"/>
<rect x="573.95" y="224.03" width="9.54" height="4.02" fill="#b21218"/>
<rect x="584.19" y="224.03" width="9.54" height="4.02" fill="#c3161b"/>
<rect x="594.43" y="224.03" width="9.54" height="4.02" fill="#67000d"/>
<rect x="604.67" y="224.03" width="9.54" height="4.02" fill="#e32f27"/>
<rect x="614.91" y="224.03" width="9.54" height="4.02" fill="#67000d"/>
<rect x="625.15" y="224.03" width="9.54" height="4.02" fill="#f0402f"/>
<rect x="635.39" y="224.03" width="9.54" height="4.02" fill="#67000d"/>
<rect x="645.63" y="224.03" width="9.54" height="4.02" fill="#67000d"/>
<rect x="659.25" y="224.03" width="9.3" height="4.02" fill="#fb7c5c"/>
<rect x="499.15" y="228.65" width="9.57" height="4.02" fill="#67000d"/>
<rect x="509.42" y="228.65" width="9.57" height="4.02" fill="#67000d"/>
<rect x="519.69" y="228.65" width="9.57" height="4.02" fill="#9e0d14"/>
<rect x="529.96" y="228.65" width="9.57" height="4.02" fill="#67000d"/>
<rect x="540.23" y="228.65" width="9.57" height="4.02" fill="#9e0d14"/>
<rect x="550.5" y="228.65" width="9.57" height="4.02" fill="#67000d"/>
<rect x="560.77" y="228.65" width="9.57" height="4.02" fill="#9e0d14"/>
<rect x="573.95" y="228.65" width="9.54" height="4.02" fill="#e32f27"/>
<rect x="584.19" y="228.65" width="9.54" height="4.02" fill="#c3161b"/>
<rect x="594.43" y="228.65" width="9.54" height="4.02" fill="#9e0d14"/>
<rect x="604.67" y="228.65" width="9.54" height="4.02" fill="#f0402f"/>
<rect x="614.91" y="228.65" width="9.54" height="4.02" fill="#67000d"/>
<rect x="625.15" y="228.65" width="9.54" height="4.02" fill="#f6553d"/>
<rect x="635.39" y="228.65" width="9.54" height="4.02" fill="#830711"/>
<rect x="645.63" y="228.65" width="9.54" height="4.02" fill="#67000d"/>
<rect x="659.25" y="228.65" width="9.3" height="4.02" fill="#fb7c5c"/>
<rect x="499.15" y="233.27" width="9.57" height="4.02" fill="#67000d"/>
<rect x="509.42" y="233.27" width="9.57" height="4.02" fill="#67000d"/>
<rect x="519.69" y="233.27" width="9.57" height="4.02" fill="#9e0d14"/>
<rect x="529.96" y="233.27" width="9.57" height="4.02" fill="#67000d"/>
<rect x="540.23" y="233.27" width="9.57" height="4.02" fill="#9e0d14"/>
<rect x="550.5" y="233.27" width="9.57" height="4.02" fill="#67000d"/>
<rect x="560.77" y="233.27" width="9.57" height="4.02" fill="#9e0d14"/>
<rect x="573.95" y="233.27" width="9.54" height="4.02" fill="#e32f27"/>
<rect x="584.19" y="233.27" width="9.54" height="4.02" fill="#c3161b"/>
<rect x="594.43" y="233.27" width="9.54" height="4.02" fill="#9e0d14"/>
<rect x="604.67" y="233.27" width="9.54" height="4.02" fill="#f0402f"/>
<rect x="614.91" y="233.27" width="9.54" height="4.02" fill="#67000d"/>
<rect x="625.15" y="233.27" width="9.54" height="4.02" fill="#f6553d"/>
<rect x="635.39" y="233.27" width="9.54" height="4.02" fill="#830711"/>
<rect x="645.63" y="233.27" width="9.54" height="4.02" fill="#67000d"/>
<rect x="659.25" y="233.27" width="9.3" height="4.02" fill="#fb7c5c"/>
<rect x="499.15" y="237.89" width="9.57" height="4.02" fill="#67000d"/>
<rect x="509.42" y="237.89" width="9.57" height="4.02" fill="#67000d"/>
<rect x="519.69" y="237.89" width="9.57" height="4.02" fill="#9e0d14"/>
<rect x="529.96" y="237.89" width="9.57" height="4.02" fill="#67000d"/>
<rect x="540.23" y="237.89" width="9.57" height="4.02" fill="#9e0d14"/>
<rect x="550.5" y="237.89" width="9.57" height="4.02" fill="#67000d"/>
<rect x="560.77" y="237.89" width="9.57" height="4.02" fill="#9e0d14"/>
<rect x="573.95" y="237.89" width="9.54" height="4.02" fill="#e32f27"/>
<rect x="584.19" y="237.89" width="9.54" height="4.02" fill="#c3161b"/>
<rect x="594.43" y="237.89" width="9.54" height="4.02" fill="#9e0d14"/>
<rect x="604.67" y="237.89" width="9.54" height="4.02" fill="#f0402f"/>
<rect x="614.91" y="237.89" width="9.54" height="4.02" fill="#67000d"/>
<rect x="625.15" y="237.89" width="9.54" height="4.02" fill="#f6553d"/>
<rect x="635.39" y="237.89" width="9.54" height="4.02" fill="#830711"/>
<rect x="645.63" y="237.89" width="9.54" height="4.02" fill="#67000d"/>
<rect x="659.25" y="237.89" width="9.3" height="4.02" fill="#fb7c5c"/>
<rect x="499.15" y="242.51" width="9.57" height="4.02" fill="#67000d"/>
<rect x="509.42" y="242.51" width="9.57" height="4.02" fill="#67000d"/>
<rect x="519.69" y="242.51" width="9.57" height="4.02" fill="#9e0d14"/>
<rect x="529.96" y="242.51" width="9.57" height="4.02" fill="#67000d"/>
<rect x="540.23" y="242.51" width="9.57" height="4.02" fill="#9e0d14"/>
<rect x="550.5" y="242.51" width="9.57" height="4.02" fill="#67000d"/>
<rect x="560.77" y="242.51" width="9.57" height="4.02" fill="#9e0d14"/>
<rect x="573.95" y="242.51" width="9.54" height="4.02" fill="#e32f27"/>
<rect x="584.19" y="242.51" width="9.54" height="4.02" fill="#c3161b"/>
<rect x="594.43" y="242.51" width="9.54" height="4.02" fill="#9e0d14"/>
<rect x="604.67" y="242.51" width="9.54" height="4.02" fill="#f0402f"/>
<rect x="614.91" y="242.51" width="9.54" height="4.02" fill="#67000d"/>
<rect x="625.15" y="242.51" width="9.54" height="4.02" fill="#f6553d"/>
<rect x="635.39" y="242.51" width="9.54" height="4.02" fill="#830711"/>
<rect x="645.63" y="242.51" width="9.54" height="4.02" fill="#67000d"/>
<rect x="659.25" y="242.51" width="9.3" height="4.02" fill="#fb7c5c"/>
<rect x="499.15" y="247.13" width="9.57" height="4.02" fill="#67000d"/>
<rect x="509.42" y="247.13" width="9.57" height="4.02" fill="#67000d"/>
<rect x="519.69" y="247.13" width="9.57" height="4.02" fill="#9e0d14"/>
<rect x="529.96" y="247.13" width="9.57" height="4.02" fill="#67000d"/>
<rect x="540.23" y="247.13" width="9.57" height="4.02" fill="#9e0d14"/>
<rect x="550.5" y="247.13" width="9.57" height="4.02" fill="#67000d"/>
<rect x="560.77" y="247.13" width="9.57" height="4.02" fill="#9e0d14"/>
<rect x="573.95" y="247.13" width="9.54" height="4.02" fill="#e32f27"/>
<rect x="584.19" y="247.13" width="9.54" height="4.02" fill="#c3161b"/>
<rect x="594.43" y="247.13" width="9.54" height="4.02" fill="#9e0d14"/>
<rect x="604.67" y="247.13" width="9.54" height="4.02" fill="#f0402f"/>
<rect x="614.91" y="247.13" width="9.54" height="4.02" fill="#67000d"/>
<rect x="625.15" y="247.13" width="9.54" height="4.02" fill="#f6553d"/>
<rect x="635.39" y="247.13" width="9.54" height="4.02" fill="#830711"/>
<rect x="645.63" y="247.13" width="9.54" height="4.02" fill="#67000d"/>
<rect x="659.25" y="247.13" width="9.3" height="4.02" fill="#fb7c5c"/>
<rect x="499.15" y="288.71" width="9.57" height="4.02" fill="#67000d"/>
<rect x="509.42" y="288.71" width="9.57" height="4.02" fill="#67000d"/>
<rect x="519.69" y="288.71" width="9.57" height="4.02" fill="#67000d"/>
<rect x="529.96" y="288.71" width="9.57" height="4.02" fill="#67000d"/>
<rect x="540.23" y="288.71" width="9.57" height="4.02" fill="#9e0d14"/>
<rect x="550.5" y="288.71" width="9.57" height="4.02" fill="#67000d"/>
<rect x="560.77" y="288.71" width="9.57" height="4.02" fill="#9e0d14"/>
<rect x="573.95" y="288.71" width="9.54" height="4.02" fill="#e32f27"/>
<rect x="584.19" y="288.71" width="9.54" height="4.02" fill="#b21218"/>
<rect x="594.43" y="288.71" width="9.54" height="4.02" fill="#c3161b"/>
<rect x="604.67" y="288.71" width="9.54" height="4.02" fill="#e32f27"/>
<rect x="614.91" y="288.71" width="9.54" height="4.02" fill="#67000d"/>
<rect x="625.15" y="288.71" width="9.54" height="4.02" fill="#e32f27"/>
<rect x="635.39" y="288.71" width="9.54" height="4.02" fill="#67000d"/>
<rect x="645.63" y="288.71" width="9.54" height="4.02" fill="#67000d"/>
<rect x="659.25" y="288.71" width="9.3" height="4.02" fill="#fb7c5c"/>
<rect x="499.15" y="293.33" width="9.57" height="4.02" fill="#67000d"/>
<rect x="509.42" y="293.33" width="9.57" height="4.02" fill="#67000d"/>
<rect x="519.69" y="293.33" width="9.57" height="4.02" fill="#67000d"/>
<rect x="529.96" y="293.33" width="9.57" height="4.02" fill="#67000d"/>
<rect x="540.23" y="293.33" width="9.57" height="4.02" fill="#9e0d14"/>
<rect x="550.5" y="293.33" width="9.57" height="4.02" fill="#67000d"/>
<rect x="560.77" y="293.33" width="9.57" height="4.02" fill="#9e0d14"/>
<rect x="573.95" y="293.33" width="9.54" height="4.02" fill="#e32f27"/>
<rect x="584.19" y="293.33" width="9.54" height="4.02" fill="#b21218"/>
<rect x="594.43" y="293.33" width="9.54" height="4.02" fill="#c3161b"/>
<rect x="604.67" y="293.33" width="9.54" height="4.02" fill="#e32f27"/>
<rect x="614.91" y="293.33" width="9.54" height="4.02" fill="#67000d"/>
<rect x="625.15" y="293.33" width="9.54" height="4.02" fill="#e32f27"/>
<rect x="635.39" y="293.33" width="9.54" height="4.02" fill="#67000d"/>
<rect x="645.63" y="293.33" width="9.54" height="4.02" fill="#67000d"/>
<rect x="659.25" y="293.33" width="9.3" height="4.02" fill="#fb7c5c"/>
<rect x="499.15" y="297.95" width="9.57" height="4.02" fill="#c3161b"/>
<rect x="509.42" y="297.95" width="9.57" height="4.02" fill="#67000d"/>
<rect x="519.69" y="297.95" width="9.57" height="4.02" fill="#67000d"/>
<rect x="529.96" y="297.95" width="9.57" height="4.02" fill="#67000d"/>
<rect x="540.23" y="297.95" width="9.57" height="4.02" fill="#9e0d14"/>
<rect x="550.5" y="297.95" width="9.57" height="4.02" fill="#67000d"/>
<rect x="560.77" y="297.95" width="9.57" height="4.02" fill="#9e0d14"/>
<rect x="573.95" y="297.95" width="9.54" height="4.02" fill="#e32f27"/>
<rect x="584.19" y="297.95" width="9.54" height="4.02" fill="#b21218"/>
<rect x="594.43" y="297.95" width="9.54" height="4.02" fill="#c3161b"/>
<rect x="604.67" y="297.95" width="9.54" height="4.02" fill="#e32f27"/>
<rect x="614.91" y="297.95" width="9.54" height="4.02" fill="#67000d"/>
<rect x="625.15" y="297.95" width="9.54" height="4.02" fill="#e32f27"/>
<rect x="635.39" y="297.95" width="9.54" height="4.02" fill="#67000d"/>
<rect x="645.63" y="297.95" width="9.54" height="4.02" fill="#67000d"/>
<rect x="659.25" y="297.95" width="9.3" height="4.02" fill="#fb7c5c"/>
<rect x="499.15" y="302.57" width="9.57" height="4.02" fill="#67000d"/>
<rect x="509.42" y="302.57" width="9.57" height="4.02" fill="#67000d"/>
<rect x="519.69" y="302.57" width="9.57" height="4.02" fill="#67000d"/>
<rect x="529.96" y="302.57" width="9.57" height="4.02" fill="#67000d"/>
<rect x="540.23" y="302.57" width="9.57" height="4.02" fill="#9e0d14"/>
<rect x="550.5" y="302.57" width="9.57" height="4.02" fill="#67000d"/>
<rect x="560.77" y="302.57" width="9.57" height="4.02" fill="#c3161b"/>
<rect x="573.95" y="302.57" width="9.54" height="4.02" fill="#e32f27"/>
<rect x="584.19" y="302.57" width="9.54" height="4.02" fill="#b21218"/>
<rect x="594.43" y="302.57" width="9.54" height="4.02" fill="#c3161b"/>
<rect x="604.67" y="302.57" width="9.54" height="4.02" fill="#e32f27"/>
<rect x="614.91" y="302.57" width="9.54" height="4.02" fill="#67000d"/>
<rect x="625.15" y="302.57" width="9.54" height="4.02" fill="#e32f27"/>
<rect x="635.39" y="302.57" width="9.54" height="4.02" fill="#67000d"/>
<rect x="645.63" y="302.57" width="9.54" height="4.02" fill="#67000d"/>
<rect x="659.25" y="302.57" width="9.3" height="4.02" fill="#fb7c5c"/>
<rect x="499.15" y="311.81" width="9.57" height="4.02" fill="#67000d"/>
<rect x="509.42" y="311.81" width="9.57" height="4.02" fill="#67000d"/>
<rect x="519.69" y="311.81" width="9.57" height="4.02" fill="#9e0d14"/>
<rect x="529.96" y="311.81" width="9.57" height="4.02" fill="#67000d"/>
<rect x="540.23" y="311.81" width="9.57" height="4.02" fill="#9e0d14"/>
<rect x="550.5" y="311.81" width="9.57" height="4.02" fill="#67000d"/>
<rect x="560.87" y="311.99" width="9.37" height="3.67" fill="#fff5f0" stroke="#909090" stroke-width="0.55"/>
<rect x="573.95" y="311.81" width="9.54" height="4.02" fill="#fb6a4a"/>
<rect x="584.19" y="311.81" width="9.54" height="4.02" fill="#9e0d14"/>
<rect x="594.43" y="311.81" width="9.54" height="4.02" fill="#fb6a4a"/>
<rect x="604.67" y="311.81" width="9.54" height="4.02" fill="#e32f27"/>
<rect x="614.91" y="311.81" width="9.54" height="4.02" fill="#67000d"/>
<rect x="625.15" y="311.81" width="9.54" height="4.02" fill="#fcc3ac"/>
<rect x="635.39" y="311.81" width="9.54" height="4.02" fill="#67000d"/>
<rect x="645.63" y="311.81" width="9.54" height="4.02" fill="#67000d"/>
<rect x="659.25" y="311.81" width="9.3" height="4.02" fill="#fca082"/>
<rect x="499.15" y="330.29" width="9.57" height="4.02" fill="#67000d"/>
<rect x="509.42" y="330.29" width="9.57" height="4.02" fill="#67000d"/>
<rect x="519.69" y="330.29" width="9.57" height="4.02" fill="#9e0d14"/>
<rect x="529.96" y="330.29" width="9.57" height="4.02" fill="#67000d"/>
<rect x="540.23" y="330.29" width="9.57" height="4.02" fill="#67000d"/>
<rect x="550.5" y="330.29" width="9.57" height="4.02" fill="#67000d"/>
<rect x="560.77" y="330.29" width="9.57" height="4.02" fill="#9e0d14"/>
<rect x="573.95" y="330.29" width="9.54" height="4.02" fill="#9e0d14"/>
<rect x="584.19" y="330.29" width="9.54" height="4.02" fill="#c3161b"/>
<rect x="594.43" y="330.29" width="9.54" height="4.02" fill="#c3161b"/>
<rect x="604.67" y="330.29" width="9.54" height="4.02" fill="#e32f27"/>
<rect x="614.91" y="330.29" width="9.54" height="4.02" fill="#67000d"/>
<rect x="625.15" y="330.29" width="9.54" height="4.02" fill="#f6553d"/>
<rect x="635.39" y="330.29" width="9.54" height="4.02" fill="#67000d"/>
<rect x="645.63" y="330.29" width="9.54" height="4.02" fill="#67000d"/>
<rect x="659.25" y="330.29" width="9.3" height="4.02" fill="#fb7c5c"/>
<rect x="499.15" y="334.91" width="9.57" height="4.02" fill="#67000d"/>
<rect x="509.42" y="334.91" width="9.57" height="4.02" fill="#9e0d14"/>
<rect x="519.69" y="334.91" width="9.57" height="4.02" fill="#9e0d14"/>
<rect x="529.96" y="334.91" width="9.57" height="4.02" fill="#67000d"/>
<rect x="540.23" y="334.91" width="9.57" height="4.02" fill="#67000d"/>
<rect x="550.5" y="334.91" width="9.57" height="4.02" fill="#67000d"/>
<rect x="560.77" y="334.91" width="9.57" height="4.02" fill="#9e0d14"/>
<rect x="573.95" y="334.91" width="9.54" height="4.02" fill="#9e0d14"/>
<rect x="584.19" y="334.91" width="9.54" height="4.02" fill="#c3161b"/>
<rect x="594.43" y="334.91" width="9.54" height="4.02" fill="#c3161b"/>
<rect x="604.67" y="334.91" width="9.54" height="4.02" fill="#e32f27"/>
<rect x="614.91" y="334.91" width="9.54" height="4.02" fill="#67000d"/>
<rect x="625.15" y="334.91" width="9.54" height="4.02" fill="#fb7c5c"/>
<rect x="635.39" y="334.91" width="9.54" height="4.02" fill="#67000d"/>
<rect x="645.63" y="334.91" width="9.54" height="4.02" fill="#67000d"/>
<rect x="659.25" y="334.91" width="9.3" height="4.02" fill="#fb6a4a"/>
<rect x="499.15" y="339.53" width="9.57" height="4.02" fill="#67000d"/>
<rect x="509.42" y="339.53" width="9.57" height="4.02" fill="#67000d"/>
<rect x="519.69" y="339.53" width="9.57" height="4.02" fill="#67000d"/>
<rect x="529.96" y="339.53" width="9.57" height="4.02" fill="#67000d"/>
<rect x="540.23" y="339.53" width="9.57" height="4.02" fill="#9e0d14"/>
<rect x="550.5" y="339.53" width="9.57" height="4.02" fill="#67000d"/>
<rect x="560.77" y="339.53" width="9.57" height="4.02" fill="#9e0d14"/>
<rect x="573.95" y="339.53" width="9.54" height="4.02" fill="#b21218"/>
<rect x="584.19" y="339.53" width="9.54" height="4.02" fill="#c3161b"/>
<rect x="594.43" y="339.53" width="9.54" height="4.02" fill="#9e0d14"/>
<rect x="604.67" y="339.53" width="9.54" height="4.02" fill="#e32f27"/>
<rect x="614.91" y="339.53" width="9.54" height="4.02" fill="#67000d"/>
<rect x="625.15" y="339.53" width="9.54" height="4.02" fill="#fb7c5c"/>
<rect x="635.39" y="339.53" width="9.54" height="4.02" fill="#67000d"/>
<rect x="645.63" y="339.53" width="9.54" height="4.02" fill="#67000d"/>
<rect x="659.25" y="339.53" width="9.3" height="4.02" fill="#fb6a4a"/>
<rect x="499.15" y="344.15" width="9.57" height="4.02" fill="#c3161b"/>
<rect x="509.42" y="344.15" width="9.57" height="4.02" fill="#67000d"/>
<rect x="519.69" y="344.15" width="9.57" height="4.02" fill="#67000d"/>
<rect x="529.96" y="344.15" width="9.57" height="4.02" fill="#67000d"/>
<rect x="540.23" y="344.15" width="9.57" height="4.02" fill="#9e0d14"/>
<rect x="550.5" y="344.15" width="9.57" height="4.02" fill="#67000d"/>
<rect x="560.77" y="344.15" width="9.57" height="4.02" fill="#9e0d14"/>
<rect x="573.95" y="344.15" width="9.54" height="4.02" fill="#b21218"/>
<rect x="584.19" y="344.15" width="9.54" height="4.02" fill="#c3161b"/>
<rect x="594.43" y="344.15" width="9.54" height="4.02" fill="#9e0d14"/>
<rect x="604.67" y="344.15" width="9.54" height="4.02" fill="#e32f27"/>
<rect x="614.91" y="344.15" width="9.54" height="4.02" fill="#67000d"/>
<rect x="625.15" y="344.15" width="9.54" height="4.02" fill="#fb7c5c"/>
<rect x="635.39" y="344.15" width="9.54" height="4.02" fill="#67000d"/>
<rect x="645.63" y="344.15" width="9.54" height="4.02" fill="#67000d"/>
<rect x="659.25" y="344.15" width="9.3" height="4.02" fill="#fb6a4a"/>
<rect x="499.15" y="348.77" width="9.57" height="4.02" fill="#67000d"/>
<rect x="509.42" y="348.77" width="9.57" height="4.02" fill="#67000d"/>
<rect x="519.69" y="348.77" width="9.57" height="4.02" fill="#9e0d14"/>
<rect x="529.96" y="348.77" width="9.57" height="4.02" fill="#fb7c5c"/>
<rect x="540.23" y="348.77" width="9.57" height="4.02" fill="#67000d"/>
<rect x="550.5" y="348.77" width="9.57" height="4.02" fill="#67000d"/>
<rect x="560.77" y="348.77" width="9.57" height="4.02" fill="#9e0d14"/>
<rect x="573.95" y="348.77" width="9.54" height="4.02" fill="#9e0d14"/>
<rect x="584.19" y="348.77" width="9.54" height="4.02" fill="#c3161b"/>
<rect x="594.43" y="348.77" width="9.54" height="4.02" fill="#c3161b"/>
<rect x="604.67" y="348.77" width="9.54" height="4.02" fill="#e32f27"/>
<rect x="614.91" y="348.77" width="9.54" height="4.02" fill="#67000d"/>
<rect x="625.15" y="348.77" width="9.54" height="4.02" fill="#fb7c5c"/>
<rect x="635.39" y="348.77" width="9.54" height="4.02" fill="#67000d"/>
<rect x="645.63" y="348.77" width="9.54" height="4.02" fill="#67000d"/>
<rect x="659.25" y="348.77" width="9.3" height="4.02" fill="#fb6a4a"/>
<rect x="499.15" y="353.39" width="9.57" height="4.02" fill="#67000d"/>
<rect x="509.42" y="353.39" width="9.57" height="4.02" fill="#67000d"/>
<rect x="519.69" y="353.39" width="9.57" height="4.02" fill="#9e0d14"/>
<rect x="529.96" y="353.39" width="9.57" height="4.02" fill="#67000d"/>
<rect x="540.23" y="353.39" width="9.57" height="4.02" fill="#67000d"/>
<rect x="550.5" y="353.39" width="9.57" height="4.02" fill="#67000d"/>
<rect x="560.77" y="353.39" width="9.57" height="4.02" fill="#9e0d14"/>
<rect x="573.95" y="353.39" width="9.54" height="4.02" fill="#b21218"/>
<rect x="584.19" y="353.39" width="9.54" height="4.02" fill="#c3161b"/>
<rect x="594.43" y="353.39" width="9.54" height="4.02" fill="#e32f27"/>
<rect x="604.67" y="353.39" width="9.54" height="4.02" fill="#e32f27"/>
<rect x="614.91" y="353.39" width="9.54" height="4.02" fill="#67000d"/>
<rect x="625.15" y="353.39" width="9.54" height="4.02" fill="#fb7c5c"/>
<rect x="635.39" y="353.39" width="9.54" height="4.02" fill="#67000d"/>
<rect x="645.63" y="353.39" width="9.54" height="4.02" fill="#67000d"/>
<rect x="659.25" y="353.39" width="9.3" height="4.02" fill="#fb6a4a"/>
<rect x="499.15" y="358.01" width="9.57" height="4.02" fill="#67000d"/>
<rect x="509.42" y="358.01" width="9.57" height="4.02" fill="#67000d"/>
<rect x="519.69" y="358.01" width="9.57" height="4.02" fill="#9e0d14"/>
<rect x="529.96" y="358.01" width="9.57" height="4.02" fill="#67000d"/>
<rect x="540.23" y="358.01" width="9.57" height="4.02" fill="#67000d"/>
<rect x="550.5" y="358.01" width="9.57" height="4.02" fill="#67000d"/>
<rect x="560.77" y="358.01" width="9.57" height="4.02" fill="#9e0d14"/>
<rect x="573.95" y="358.01" width="9.54" height="4.02" fill="#b21218"/>
<rect x="584.19" y="358.01" width="9.54" height="4.02" fill="#c3161b"/>
<rect x="594.43" y="358.01" width="9.54" height="4.02" fill="#c3161b"/>
<rect x="604.67" y="358.01" width="9.54" height="4.02" fill="#e32f27"/>
<rect x="614.91" y="358.01" width="9.54" height="4.02" fill="#67000d"/>
<rect x="625.15" y="358.01" width="9.54" height="4.02" fill="#fb7c5c"/>
<rect x="635.39" y="358.01" width="9.54" height="4.02" fill="#67000d"/>
<rect x="645.63" y="358.01" width="9.54" height="4.02" fill="#67000d"/>
<rect x="659.25" y="358.01" width="9.3" height="4.02" fill="#fb6a4a"/>
<rect x="499.15" y="362.63" width="9.57" height="4.02" fill="#67000d"/>
<rect x="509.42" y="362.63" width="9.57" height="4.02" fill="#67000d"/>
<rect x="519.69" y="362.63" width="9.57" height="4.02" fill="#9e0d14"/>
<rect x="529.96" y="362.63" width="9.57" height="4.02" fill="#67000d"/>
<rect x="540.23" y="362.63" width="9.57" height="4.02" fill="#67000d"/>
<rect x="550.5" y="362.63" width="9.57" height="4.02" fill="#67000d"/>
<rect x="560.77" y="362.63" width="9.57" height="4.02" fill="#9e0d14"/>
<rect x="573.95" y="362.63" width="9.54" height="4.02" fill="#b21218"/>
<rect x="584.19" y="362.63" width="9.54" height="4.02" fill="#c3161b"/>
<rect x="594.43" y="362.63" width="9.54" height="4.02" fill="#c3161b"/>
<rect x="604.67" y="362.63" width="9.54" height="4.02" fill="#e32f27"/>
<rect x="614.91" y="362.63" width="9.54" height="4.02" fill="#67000d"/>
<rect x="625.15" y="362.63" width="9.54" height="4.02" fill="#fb7c5c"/>
<rect x="635.39" y="362.63" width="9.54" height="4.02" fill="#67000d"/>
<rect x="645.63" y="362.63" width="9.54" height="4.02" fill="#67000d"/>
<rect x="659.25" y="362.63" width="9.3" height="4.02" fill="#fb6a4a"/>
<rect x="499.15" y="371.87" width="9.57" height="4.02" fill="#67000d"/>
<rect x="509.42" y="371.87" width="9.57" height="4.02" fill="#67000d"/>
<rect x="519.69" y="371.87" width="9.57" height="4.02" fill="#9e0d14"/>
<rect x="529.96" y="371.87" width="9.57" height="4.02" fill="#67000d"/>
<rect x="540.23" y="371.87" width="9.57" height="4.02" fill="#67000d"/>
<rect x="550.5" y="371.87" width="9.57" height="4.02" fill="#67000d"/>
<rect x="560.77" y="371.87" width="9.57" height="4.02" fill="#9e0d14"/>
<rect x="573.95" y="371.87" width="9.54" height="4.02" fill="#9e0d14"/>
<rect x="584.19" y="371.87" width="9.54" height="4.02" fill="#9e0d14"/>
<rect x="594.43" y="371.87" width="9.54" height="4.02" fill="#c3161b"/>
<rect x="604.67" y="371.87" width="9.54" height="4.02" fill="#e32f27"/>
<rect x="614.91" y="371.87" width="9.54" height="4.02" fill="#67000d"/>
<rect x="625.15" y="371.87" width="9.54" height="4.02" fill="#fca082"/>
<rect x="635.39" y="371.87" width="9.54" height="4.02" fill="#67000d"/>
<rect x="645.63" y="371.87" width="9.54" height="4.02" fill="#67000d"/>
<rect x="659.25" y="371.87" width="9.3" height="4.02" fill="#fb7c5c"/>
<rect x="499.15" y="376.49" width="9.57" height="4.02" fill="#67000d"/>
<rect x="509.42" y="376.49" width="9.57" height="4.02" fill="#67000d"/>
<rect x="519.69" y="376.49" width="9.57" height="4.02" fill="#9e0d14"/>
<rect x="529.96" y="376.49" width="9.57" height="4.02" fill="#67000d"/>
<rect x="540.23" y="376.49" width="9.57" height="4.02" fill="#67000d"/>
<rect x="550.5" y="376.49" width="9.57" height="4.02" fill="#67000d"/>
<rect x="560.77" y="376.49" width="9.57" height="4.02" fill="#c3161b"/>
<rect x="573.95" y="376.49" width="9.54" height="4.02" fill="#9e0d14"/>
<rect x="584.19" y="376.49" width="9.54" height="4.02" fill="#9e0d14"/>
<rect x="594.43" y="376.49" width="9.54" height="4.02" fill="#c3161b"/>
<rect x="604.67" y="376.49" width="9.54" height="4.02" fill="#e32f27"/>
<rect x="614.91" y="376.49" width="9.54" height="4.02" fill="#67000d"/>
<rect x="625.15" y="376.49" width="9.54" height="4.02" fill="#fca082"/>
<rect x="635.39" y="376.49" width="9.54" height="4.02" fill="#67000d"/>
<rect x="645.63" y="376.49" width="9.54" height="4.02" fill="#67000d"/>
<rect x="659.25" y="376.49" width="9.3" height="4.02" fill="#fb7c5c"/>
<rect x="499.15" y="381.11" width="9.57" height="4.02" fill="#67000d"/>
<rect x="509.42" y="381.11" width="9.57" height="4.02" fill="#67000d"/>
<rect x="519.69" y="381.11" width="9.57" height="4.02" fill="#9e0d14"/>
<rect x="529.96" y="381.11" width="9.57" height="4.02" fill="#67000d"/>
<rect x="540.23" y="381.11" width="9.57" height="4.02" fill="#67000d"/>
<rect x="550.5" y="381.11" width="9.57" height="4.02" fill="#67000d"/>
<rect x="560.77" y="381.11" width="9.57" height="4.02" fill="#9e0d14"/>
<rect x="573.95" y="381.11" width="9.54" height="4.02" fill="#9e0d14"/>
<rect x="584.19" y="381.11" width="9.54" height="4.02" fill="#9e0d14"/>
<rect x="594.43" y="381.11" width="9.54" height="4.02" fill="#c3161b"/>
<rect x="604.67" y="381.11" width="9.54" height="4.02" fill="#e32f27"/>
<rect x="614.91" y="381.11" width="9.54" height="4.02" fill="#67000d"/>
<rect x="625.15" y="381.11" width="9.54" height="4.02" fill="#fca082"/>
<rect x="635.39" y="381.11" width="9.54" height="4.02" fill="#67000d"/>
<rect x="645.63" y="381.11" width="9.54" height="4.02" fill="#67000d"/>
<rect x="659.25" y="381.11" width="9.3" height="4.02" fill="#fb6a4a"/>
<rect x="499.15" y="385.73" width="9.57" height="4.02" fill="#67000d"/>
<rect x="509.42" y="385.73" width="9.57" height="4.02" fill="#67000d"/>
<rect x="519.69" y="385.73" width="9.57" height="4.02" fill="#67000d"/>
<rect x="529.96" y="385.73" width="9.57" height="4.02" fill="#67000d"/>
<rect x="540.23" y="385.73" width="9.57" height="4.02" fill="#9e0d14"/>
<rect x="550.5" y="385.73" width="9.57" height="4.02" fill="#67000d"/>
<rect x="560.77" y="385.73" width="9.57" height="4.02" fill="#9e0d14"/>
<rect x="573.95" y="385.73" width="9.54" height="4.02" fill="#9e0d14"/>
<rect x="584.19" y="385.73" width="9.54" height="4.02" fill="#c3161b"/>
<rect x="594.43" y="385.73" width="9.54" height="4.02" fill="#c3161b"/>
<rect x="604.67" y="385.73" width="9.54" height="4.02" fill="#c3161b"/>
<rect x="614.91" y="385.73" width="9.54" height="4.02" fill="#67000d"/>
<rect x="625.15" y="385.73" width="9.54" height="4.02" fill="#f6553d"/>
<rect x="635.39" y="385.73" width="9.54" height="4.02" fill="#67000d"/>
<rect x="645.63" y="385.73" width="9.54" height="4.02" fill="#d32020"/>
<rect x="659.25" y="385.73" width="9.3" height="4.02" fill="#fb6a4a"/>
<rect x="499.15" y="390.35" width="9.57" height="4.02" fill="#67000d"/>
<rect x="509.42" y="390.35" width="9.57" height="4.02" fill="#67000d"/>
<rect x="519.69" y="390.35" width="9.57" height="4.02" fill="#67000d"/>
<rect x="529.96" y="390.35" width="9.57" height="4.02" fill="#67000d"/>
<rect x="540.23" y="390.35" width="9.57" height="4.02" fill="#9e0d14"/>
<rect x="550.5" y="390.35" width="9.57" height="4.02" fill="#67000d"/>
<rect x="560.77" y="390.35" width="9.57" height="4.02" fill="#9e0d14"/>
<rect x="573.95" y="390.35" width="9.54" height="4.02" fill="#9e0d14"/>
<rect x="584.19" y="390.35" width="9.54" height="4.02" fill="#c3161b"/>
<rect x="594.43" y="390.35" width="9.54" height="4.02" fill="#c3161b"/>
<rect x="604.67" y="390.35" width="9.54" height="4.02" fill="#c3161b"/>
<rect x="614.91" y="390.35" width="9.54" height="4.02" fill="#67000d"/>
<rect x="625.15" y="390.35" width="9.54" height="4.02" fill="#f6553d"/>
<rect x="635.39" y="390.35" width="9.54" height="4.02" fill="#67000d"/>
<rect x="645.63" y="390.35" width="9.54" height="4.02" fill="#67000d"/>
<rect x="659.25" y="390.35" width="9.3" height="4.02" fill="#fb6a4a"/>
<rect x="499.15" y="394.97" width="9.57" height="4.02" fill="#67000d"/>
<rect x="509.42" y="394.97" width="9.57" height="4.02" fill="#67000d"/>
<rect x="519.69" y="394.97" width="9.57" height="4.02" fill="#67000d"/>
<rect x="529.96" y="394.97" width="9.57" height="4.02" fill="#67000d"/>
<rect x="540.23" y="394.97" width="9.57" height="4.02" fill="#9e0d14"/>
<rect x="550.5" y="394.97" width="9.57" height="4.02" fill="#67000d"/>
<rect x="560.77" y="394.97" width="9.57" height="4.02" fill="#9e0d14"/>
<rect x="573.95" y="394.97" width="9.54" height="4.02" fill="#9e0d14"/>
<rect x="584.19" y="394.97" width="9.54" height="4.02" fill="#c3161b"/>
<rect x="594.43" y="394.97" width="9.54" height="4.02" fill="#c3161b"/>
<rect x="604.67" y="394.97" width="9.54" height="4.02" fill="#c3161b"/>
<rect x="614.91" y="394.97" width="9.54" height="4.02" fill="#67000d"/>
<rect x="625.15" y="394.97" width="9.54" height="4.02" fill="#fb7c5c"/>
<rect x="635.39" y="394.97" width="9.54" height="4.02" fill="#67000d"/>
<rect x="645.63" y="394.97" width="9.54" height="4.02" fill="#9e0d14"/>
<rect x="659.25" y="394.97" width="9.3" height="4.02" fill="#fb6a4a"/>
<rect x="499.15" y="399.59" width="9.57" height="4.02" fill="#67000d"/>
<rect x="509.42" y="399.59" width="9.57" height="4.02" fill="#67000d"/>
<rect x="519.69" y="399.59" width="9.57" height="4.02" fill="#67000d"/>
<rect x="529.96" y="399.59" width="9.57" height="4.02" fill="#67000d"/>
<rect x="540.23" y="399.59" width="9.57" height="4.02" fill="#9e0d14"/>
<rect x="550.5" y="399.59" width="9.57" height="4.02" fill="#67000d"/>
<rect x="560.77" y="399.59" width="9.57" height="4.02" fill="#9e0d14"/>
<rect x="573.95" y="399.59" width="9.54" height="4.02" fill="#9e0d14"/>
<rect x="584.19" y="399.59" width="9.54" height="4.02" fill="#c3161b"/>
<rect x="594.43" y="399.59" width="9.54" height="4.02" fill="#c3161b"/>
<rect x="604.67" y="399.59" width="9.54" height="4.02" fill="#c3161b"/>
<rect x="614.91" y="399.59" width="9.54" height="4.02" fill="#67000d"/>
<rect x="625.15" y="399.59" width="9.54" height="4.02" fill="#f6553d"/>
<rect x="635.39" y="399.59" width="9.54" height="4.02" fill="#67000d"/>
<rect x="645.63" y="399.59" width="9.54" height="4.02" fill="#67000d"/>
<rect x="659.25" y="399.59" width="9.3" height="4.02" fill="#fb7c5c"/>
<rect x="499.25" y="404.38" width="9.37" height="3.67" fill="#fff5f0" stroke="#909090" stroke-width="0.55"/>
<rect x="509.42" y="404.21" width="9.57" height="4.02" fill="#67000d"/>
<rect x="519.69" y="404.21" width="9.57" height="4.02" fill="#9e0d14"/>
<rect x="529.96" y="404.21" width="9.57" height="4.02" fill="#67000d"/>
<rect x="540.23" y="404.21" width="9.57" height="4.02" fill="#67000d"/>
<rect x="550.5" y="404.21" width="9.57" height="4.02" fill="#67000d"/>
<rect x="560.77" y="404.21" width="9.57" height="4.02" fill="#fcc3ac"/>
<rect x="573.95" y="404.21" width="9.54" height="4.02" fill="#c3161b"/>
<rect x="584.19" y="404.21" width="9.54" height="4.02" fill="#c3161b"/>
<rect x="594.43" y="404.21" width="9.54" height="4.02" fill="#c3161b"/>
<rect x="604.67" y="404.21" width="9.54" height="4.02" fill="#e32f27"/>
<rect x="614.91" y="404.21" width="9.54" height="4.02" fill="#67000d"/>
<rect x="625.15" y="404.21" width="9.54" height="4.02" fill="#fcb297"/>
<rect x="635.39" y="404.21" width="9.54" height="4.02" fill="#67000d"/>
<rect x="645.63" y="404.21" width="9.54" height="4.02" fill="#d32020"/>
<rect x="659.25" y="404.21" width="9.3" height="4.02" fill="#fc8e6e"/>
<rect x="499.25" y="409" width="9.37" height="3.67" fill="#fff5f0" stroke="#909090" stroke-width="0.55"/>
<rect x="509.42" y="408.83" width="9.57" height="4.02" fill="#67000d"/>
<rect x="519.69" y="408.83" width="9.57" height="4.02" fill="#9e0d14"/>
<rect x="529.96" y="408.83" width="9.57" height="4.02" fill="#67000d"/>
<rect x="540.23" y="408.83" width="9.57" height="4.02" fill="#67000d"/>
<rect x="550.5" y="408.83" width="9.57" height="4.02" fill="#67000d"/>
<rect x="560.77" y="408.83" width="9.57" height="4.02" fill="#fca082"/>
<rect x="573.95" y="408.83" width="9.54" height="4.02" fill="#e32f27"/>
<rect x="584.19" y="408.83" width="9.54" height="4.02" fill="#c3161b"/>
<rect x="594.43" y="408.83" width="9.54" height="4.02" fill="#c3161b"/>
<rect x="604.67" y="408.83" width="9.54" height="4.02" fill="#e32f27"/>
<rect x="614.91" y="408.83" width="9.54" height="4.02" fill="#67000d"/>
<rect x="625.15" y="408.83" width="9.54" height="4.02" fill="#fcb297"/>
<rect x="635.39" y="408.83" width="9.54" height="4.02" fill="#67000d"/>
<rect x="645.63" y="408.83" width="9.54" height="4.02" fill="#d32020"/>
<rect x="659.25" y="408.83" width="9.3" height="4.02" fill="#fca082"/>
<rect x="499.25" y="413.62" width="9.37" height="3.67" fill="#fff5f0" stroke="#909090" stroke-width="0.55"/>
<rect x="509.42" y="413.45" width="9.57" height="4.02" fill="#67000d"/>
<rect x="519.69" y="413.45" width="9.57" height="4.02" fill="#9e0d14"/>
<rect x="529.96" y="413.45" width="9.57" height="4.02" fill="#67000d"/>
<rect x="540.23" y="413.45" width="9.57" height="4.02" fill="#67000d"/>
<rect x="550.5" y="413.45" width="9.57" height="4.02" fill="#67000d"/>
<rect x="560.77" y="413.45" width="9.57" height="4.02" fill="#fca082"/>
<rect x="573.95" y="413.45" width="9.54" height="4.02" fill="#c3161b"/>
<rect x="584.19" y="413.45" width="9.54" height="4.02" fill="#c3161b"/>
<rect x="594.43" y="413.45" width="9.54" height="4.02" fill="#c3161b"/>
<rect x="604.67" y="413.45" width="9.54" height="4.02" fill="#e32f27"/>
<rect x="614.91" y="413.45" width="9.54" height="4.02" fill="#67000d"/>
<rect x="625.15" y="413.45" width="9.54" height="4.02" fill="#fcb297"/>
<rect x="635.39" y="413.45" width="9.54" height="4.02" fill="#67000d"/>
<rect x="645.63" y="413.45" width="9.54" height="4.02" fill="#d32020"/>
<rect x="659.25" y="413.45" width="9.3" height="4.02" fill="#fc8e6e"/>
<rect x="499.25" y="418.25" width="9.37" height="3.67" fill="#fff5f0" stroke="#909090" stroke-width="0.55"/>
<rect x="509.42" y="418.07" width="9.57" height="4.02" fill="#67000d"/>
<rect x="519.69" y="418.07" width="9.57" height="4.02" fill="#9e0d14"/>
<rect x="529.96" y="418.07" width="9.57" height="4.02" fill="#67000d"/>
<rect x="540.23" y="418.07" width="9.57" height="4.02" fill="#67000d"/>
<rect x="550.5" y="418.07" width="9.57" height="4.02" fill="#67000d"/>
<rect x="560.77" y="418.07" width="9.57" height="4.02" fill="#fcc3ac"/>
<rect x="573.95" y="418.07" width="9.54" height="4.02" fill="#c3161b"/>
<rect x="584.19" y="418.07" width="9.54" height="4.02" fill="#c3161b"/>
<rect x="594.43" y="418.07" width="9.54" height="4.02" fill="#c3161b"/>
<rect x="604.67" y="418.07" width="9.54" height="4.02" fill="#e32f27"/>
<rect x="614.91" y="418.07" width="9.54" height="4.02" fill="#67000d"/>
<rect x="625.15" y="418.07" width="9.54" height="4.02" fill="#fcb297"/>
<rect x="635.39" y="418.07" width="9.54" height="4.02" fill="#67000d"/>
<rect x="645.63" y="418.07" width="9.54" height="4.02" fill="#d32020"/>
<rect x="659.25" y="418.07" width="9.3" height="4.02" fill="#fc8e6e"/>
<rect x="499.15" y="427.31" width="9.57" height="4.02" fill="#67000d"/>
<rect x="509.42" y="427.31" width="9.57" height="4.02" fill="#67000d"/>
<rect x="519.69" y="427.31" width="9.57" height="4.02" fill="#9e0d14"/>
<rect x="529.96" y="427.31" width="9.57" height="4.02" fill="#67000d"/>
<rect x="540.23" y="427.31" width="9.57" height="4.02" fill="#67000d"/>
<rect x="550.5" y="427.31" width="9.57" height="4.02" fill="#67000d"/>
<rect x="560.77" y="427.31" width="9.57" height="4.02" fill="#9e0d14"/>
<rect x="573.95" y="427.31" width="9.54" height="4.02" fill="#e32f27"/>
<rect x="584.19" y="427.31" width="9.54" height="4.02" fill="#b21218"/>
<rect x="594.43" y="427.31" width="9.54" height="4.02" fill="#9e0d14"/>
<rect x="604.67" y="427.31" width="9.54" height="4.02" fill="#c3161b"/>
<rect x="614.91" y="427.31" width="9.54" height="4.02" fill="#67000d"/>
<rect x="625.15" y="427.31" width="9.54" height="4.02" fill="#fca082"/>
<rect x="635.39" y="427.31" width="9.54" height="4.02" fill="#67000d"/>
<rect x="645.63" y="427.31" width="9.54" height="4.02" fill="#67000d"/>
<rect x="659.25" y="427.31" width="9.3" height="4.02" fill="#fb6a4a"/>
<rect x="499.15" y="431.93" width="9.57" height="4.02" fill="#67000d"/>
<rect x="509.42" y="431.93" width="9.57" height="4.02" fill="#67000d"/>
<rect x="519.69" y="431.93" width="9.57" height="4.02" fill="#9e0d14"/>
<rect x="529.96" y="431.93" width="9.57" height="4.02" fill="#67000d"/>
<rect x="540.23" y="431.93" width="9.57" height="4.02" fill="#67000d"/>
<rect x="550.5" y="431.93" width="9.57" height="4.02" fill="#67000d"/>
<rect x="560.77" y="431.93" width="9.57" height="4.02" fill="#9e0d14"/>
<rect x="573.95" y="431.93" width="9.54" height="4.02" fill="#e32f27"/>
<rect x="584.19" y="431.93" width="9.54" height="4.02" fill="#b21218"/>
<rect x="594.43" y="431.93" width="9.54" height="4.02" fill="#9e0d14"/>
<rect x="604.67" y="431.93" width="9.54" height="4.02" fill="#c3161b"/>
<rect x="614.91" y="431.93" width="9.54" height="4.02" fill="#67000d"/>
<rect x="625.15" y="431.93" width="9.54" height="4.02" fill="#fca082"/>
<rect x="635.39" y="431.93" width="9.54" height="4.02" fill="#67000d"/>
<rect x="645.63" y="431.93" width="9.54" height="4.02" fill="#67000d"/>
<rect x="659.25" y="431.93" width="9.3" height="4.02" fill="#fb6a4a"/>
<rect x="499.15" y="436.55" width="9.57" height="4.02" fill="#67000d"/>
<rect x="509.42" y="436.55" width="9.57" height="4.02" fill="#67000d"/>
<rect x="519.69" y="436.55" width="9.57" height="4.02" fill="#9e0d14"/>
<rect x="529.96" y="436.55" width="9.57" height="4.02" fill="#67000d"/>
<rect x="540.23" y="436.55" width="9.57" height="4.02" fill="#67000d"/>
<rect x="550.5" y="436.55" width="9.57" height="4.02" fill="#67000d"/>
<rect x="560.77" y="436.55" width="9.57" height="4.02" fill="#9e0d14"/>
<rect x="573.95" y="436.55" width="9.54" height="4.02" fill="#e32f27"/>
<rect x="584.19" y="436.55" width="9.54" height="4.02" fill="#b21218"/>
<rect x="594.43" y="436.55" width="9.54" height="4.02" fill="#9e0d14"/>
<rect x="604.67" y="436.55" width="9.54" height="4.02" fill="#c3161b"/>
<rect x="614.91" y="436.55" width="9.54" height="4.02" fill="#67000d"/>
<rect x="625.15" y="436.55" width="9.54" height="4.02" fill="#fca082"/>
<rect x="635.39" y="436.55" width="9.54" height="4.02" fill="#67000d"/>
<rect x="645.63" y="436.55" width="9.54" height="4.02" fill="#67000d"/>
<rect x="659.25" y="436.55" width="9.3" height="4.02" fill="#fb6a4a"/>
<rect x="499.15" y="441.17" width="9.57" height="4.02" fill="#67000d"/>
<rect x="509.42" y="441.17" width="9.57" height="4.02" fill="#67000d"/>
<rect x="519.69" y="441.17" width="9.57" height="4.02" fill="#9e0d14"/>
<rect x="529.96" y="441.17" width="9.57" height="4.02" fill="#67000d"/>
<rect x="540.23" y="441.17" width="9.57" height="4.02" fill="#67000d"/>
<rect x="550.5" y="441.17" width="9.57" height="4.02" fill="#67000d"/>
<rect x="560.77" y="441.17" width="9.57" height="4.02" fill="#9e0d14"/>
<rect x="573.95" y="441.17" width="9.54" height="4.02" fill="#e32f27"/>
<rect x="584.19" y="441.17" width="9.54" height="4.02" fill="#b21218"/>
<rect x="594.43" y="441.17" width="9.54" height="4.02" fill="#9e0d14"/>
<rect x="604.67" y="441.17" width="9.54" height="4.02" fill="#c3161b"/>
<rect x="614.91" y="441.17" width="9.54" height="4.02" fill="#67000d"/>
<rect x="625.15" y="441.17" width="9.54" height="4.02" fill="#fca082"/>
<rect x="635.39" y="441.17" width="9.54" height="4.02" fill="#67000d"/>
<rect x="645.63" y="441.17" width="9.54" height="4.02" fill="#67000d"/>
<rect x="659.25" y="441.17" width="9.3" height="4.02" fill="#fb6a4a"/>
<rect x="499.15" y="445.79" width="9.57" height="4.02" fill="#67000d"/>
<rect x="509.42" y="445.79" width="9.57" height="4.02" fill="#67000d"/>
<rect x="519.69" y="445.79" width="9.57" height="4.02" fill="#9e0d14"/>
<rect x="529.96" y="445.79" width="9.57" height="4.02" fill="#67000d"/>
<rect x="540.23" y="445.79" width="9.57" height="4.02" fill="#67000d"/>
<rect x="550.5" y="445.79" width="9.57" height="4.02" fill="#67000d"/>
<rect x="560.77" y="445.79" width="9.57" height="4.02" fill="#9e0d14"/>
<rect x="573.95" y="445.79" width="9.54" height="4.02" fill="#f6553d"/>
<rect x="584.19" y="445.79" width="9.54" height="4.02" fill="#b21218"/>
<rect x="594.43" y="445.79" width="9.54" height="4.02" fill="#9e0d14"/>
<rect x="604.67" y="445.79" width="9.54" height="4.02" fill="#c3161b"/>
<rect x="614.91" y="445.79" width="9.54" height="4.02" fill="#67000d"/>
<rect x="625.15" y="445.79" width="9.54" height="4.02" fill="#fca082"/>
<rect x="635.39" y="445.79" width="9.54" height="4.02" fill="#67000d"/>
<rect x="645.63" y="445.79" width="9.54" height="4.02" fill="#67000d"/>
<rect x="659.25" y="445.79" width="9.3" height="4.02" fill="#fb6a4a"/>
<text x="301.4" y="32.2" font-size="8.4" font-weight="bold" font-style="italic" fill="#000" text-anchor="start" textLength="24.5" lengthAdjust="spacingAndGlyphs" >Sulcia</text>
<text x="338.6" y="32.5" font-size="6.5" font-weight="bold" font-style="normal" fill="#000" text-anchor="start" textLength="40" lengthAdjust="spacingAndGlyphs" >Biosynthesis</text>
<text x="480.6" y="32.2" font-size="8.4" font-weight="bold" font-style="italic" fill="#000" text-anchor="start" textLength="30.4" lengthAdjust="spacingAndGlyphs" >Vidania</text>
<text x="523.2" y="32.5" font-size="6.5" font-weight="bold" font-style="normal" fill="#000" text-anchor="start" textLength="40.9" lengthAdjust="spacingAndGlyphs" >Biosynthesis</text>
<text x="292.3" y="64.8" font-size="7.1" font-weight="bold" font-style="normal" fill="#000" text-anchor="start" textLength="35.7" lengthAdjust="spacingAndGlyphs" >Genome size</text>
<text x="464.8" y="64.8" font-size="7.1" font-weight="bold" font-style="normal" fill="#000" text-anchor="start" textLength="33.5" lengthAdjust="spacingAndGlyphs" >Genome size</text>
<text x="337.42" y="66" font-size="7.1" font-weight="normal" font-style="normal" fill="#222" text-anchor="start" textLength="3.16" lengthAdjust="spacingAndGlyphs" >5</text>
<text transform="translate(339.5,58.3) rotate(-45)" font-size="6.1" fill="#1c1c1c" stroke="#1c1c1c" stroke-width="0.13">Ile/Val</text>
<text x="347.42" y="66" font-size="7.1" font-weight="normal" font-style="normal" fill="#222" text-anchor="start" textLength="3.16" lengthAdjust="spacingAndGlyphs" >4</text>
<text transform="translate(349.5,58.3) rotate(-45)" font-size="6.1" fill="#1c1c1c" stroke="#1c1c1c" stroke-width="0.13">Leu</text>
<text x="357.42" y="66" font-size="7.1" font-weight="normal" font-style="normal" fill="#222" text-anchor="start" textLength="3.16" lengthAdjust="spacingAndGlyphs" >1</text>
<text transform="translate(359.5,58.3) rotate(-45)" font-size="6.1" fill="#1c1c1c" stroke="#1c1c1c" stroke-width="0.13">Phe</text>
<text x="368.84" y="66" font-size="7.1" font-weight="normal" font-style="normal" fill="#222" text-anchor="start" textLength="6.32" lengthAdjust="spacingAndGlyphs" >10</text>
<text transform="translate(372.5,58.3) rotate(-45)" font-size="6.1" fill="#1c1c1c" stroke="#1c1c1c" stroke-width="0.13">DNA repl &amp; repair</text>
<text x="380.42" y="66" font-size="7.1" font-weight="normal" font-style="normal" fill="#222" text-anchor="start" textLength="3.16" lengthAdjust="spacingAndGlyphs" >5</text>
<text transform="translate(382.5,58.3) rotate(-45)" font-size="6.1" fill="#1c1c1c" stroke="#1c1c1c" stroke-width="0.13">Transcription</text>
<text x="390.42" y="66" font-size="7.1" font-weight="normal" font-style="normal" fill="#222" text-anchor="start" textLength="3.16" lengthAdjust="spacingAndGlyphs" >8</text>
<text transform="translate(392.5,58.3) rotate(-45)" font-size="6.1" fill="#1c1c1c" stroke="#1c1c1c" stroke-width="0.13">Ribosome-related</text>
<text x="398.84" y="66" font-size="7.1" font-weight="normal" font-style="normal" fill="#222" text-anchor="start" textLength="6.32" lengthAdjust="spacingAndGlyphs" >24</text>
<text transform="translate(402.5,58.3) rotate(-45)" font-size="6.1" fill="#1c1c1c" stroke="#1c1c1c" stroke-width="0.13">Translation</text>
<text x="410.42" y="66" font-size="7.1" font-weight="normal" font-style="normal" fill="#222" text-anchor="start" textLength="3.16" lengthAdjust="spacingAndGlyphs" >3</text>
<text transform="translate(412.5,58.3) rotate(-45)" font-size="6.1" fill="#1c1c1c" stroke="#1c1c1c" stroke-width="0.13">Translation-RNAs</text>
<text x="418.84" y="66" font-size="7.1" font-weight="normal" font-style="normal" fill="#222" text-anchor="start" textLength="6.32" lengthAdjust="spacingAndGlyphs" >20</text>
<text transform="translate(422.5,58.3) rotate(-45)" font-size="6.1" fill="#1c1c1c" stroke="#1c1c1c" stroke-width="0.13">Aa-tRNA synthetase</text>
<text x="428.84" y="66" font-size="7.1" font-weight="normal" font-style="normal" fill="#222" text-anchor="start" textLength="6.32" lengthAdjust="spacingAndGlyphs" >52</text>
<text transform="translate(432.5,58.3) rotate(-45)" font-size="6.1" fill="#1c1c1c" stroke="#1c1c1c" stroke-width="0.13">Ribosomal proteins</text>
<text x="440.42" y="66" font-size="7.1" font-weight="normal" font-style="normal" fill="#222" text-anchor="start" textLength="3.16" lengthAdjust="spacingAndGlyphs" >8</text>
<text transform="translate(442.5,58.3) rotate(-45)" font-size="6.1" fill="#1c1c1c" stroke="#1c1c1c" stroke-width="0.13">Protein F&amp;D</text>
<text x="452.14" y="66" font-size="7.1" font-weight="normal" font-style="normal" fill="#222" text-anchor="start" textLength="6.32" lengthAdjust="spacingAndGlyphs" >18</text>
<text transform="translate(455.8,58.3) rotate(-45)" font-size="6.1" fill="#1c1c1c" stroke="#1c1c1c" stroke-width="0.13">Metabolism</text>
<text x="502.36" y="66" font-size="7.1" font-weight="normal" font-style="normal" fill="#222" text-anchor="start" textLength="3.16" lengthAdjust="spacingAndGlyphs" >5</text>
<text transform="translate(504.44,58.3) rotate(-45)" font-size="6.1" fill="#1c1c1c" stroke="#1c1c1c" stroke-width="0.13">Arg</text>
<text x="512.63" y="66" font-size="7.1" font-weight="normal" font-style="normal" fill="#222" text-anchor="start" textLength="3.16" lengthAdjust="spacingAndGlyphs" >9</text>
<text transform="translate(514.71,58.3) rotate(-45)" font-size="6.1" fill="#1c1c1c" stroke="#1c1c1c" stroke-width="0.13">His</text>
<text x="522.9" y="66" font-size="7.1" font-weight="normal" font-style="normal" fill="#222" text-anchor="start" textLength="3.16" lengthAdjust="spacingAndGlyphs" >9</text>
<text transform="translate(524.98,58.3) rotate(-45)" font-size="6.1" fill="#1c1c1c" stroke="#1c1c1c" stroke-width="0.13">Lys</text>
<text x="533.17" y="66" font-size="7.1" font-weight="normal" font-style="normal" fill="#222" text-anchor="start" textLength="3.16" lengthAdjust="spacingAndGlyphs" >9</text>
<text transform="translate(535.25,58.3) rotate(-45)" font-size="6.1" fill="#1c1c1c" stroke="#1c1c1c" stroke-width="0.13">Met</text>
<text x="543.44" y="66" font-size="7.1" font-weight="normal" font-style="normal" fill="#222" text-anchor="start" textLength="3.16" lengthAdjust="spacingAndGlyphs" >8</text>
<text transform="translate(545.51,58.3) rotate(-45)" font-size="6.1" fill="#1c1c1c" stroke="#1c1c1c" stroke-width="0.13">Phe</text>
<text x="553.71" y="66" font-size="7.1" font-weight="normal" font-style="normal" fill="#222" text-anchor="start" textLength="3.16" lengthAdjust="spacingAndGlyphs" >3</text>
<text transform="translate(555.78,58.3) rotate(-45)" font-size="6.1" fill="#1c1c1c" stroke="#1c1c1c" stroke-width="0.13">Thr</text>
<text x="563.98" y="66" font-size="7.1" font-weight="normal" font-style="normal" fill="#222" text-anchor="start" textLength="3.16" lengthAdjust="spacingAndGlyphs" >8</text>
<text transform="translate(566.05,58.3) rotate(-45)" font-size="6.1" fill="#1c1c1c" stroke="#1c1c1c" stroke-width="0.13">Trp</text>
<text x="577.14" y="66" font-size="7.1" font-weight="normal" font-style="normal" fill="#222" text-anchor="start" textLength="3.16" lengthAdjust="spacingAndGlyphs" >8</text>
<text transform="translate(579.22,58.3) rotate(-45)" font-size="6.1" fill="#1c1c1c" stroke="#1c1c1c" stroke-width="0.13">DNA repl &amp; repair</text>
<text x="587.38" y="66" font-size="7.1" font-weight="normal" font-style="normal" fill="#222" text-anchor="start" textLength="3.16" lengthAdjust="spacingAndGlyphs" >5</text>
<text transform="translate(589.46,58.3) rotate(-45)" font-size="6.1" fill="#1c1c1c" stroke="#1c1c1c" stroke-width="0.13">Transcription</text>
<text x="597.62" y="66" font-size="7.1" font-weight="normal" font-style="normal" fill="#222" text-anchor="start" textLength="3.16" lengthAdjust="spacingAndGlyphs" >8</text>
<text transform="translate(599.7,58.3) rotate(-45)" font-size="6.1" fill="#1c1c1c" stroke="#1c1c1c" stroke-width="0.13">Ribosome-related</text>
<text x="606.28" y="66" font-size="7.1" font-weight="normal" font-style="normal" fill="#222" text-anchor="start" textLength="6.32" lengthAdjust="spacingAndGlyphs" >19</text>
<text transform="translate(609.94,58.3) rotate(-45)" font-size="6.1" fill="#1c1c1c" stroke="#1c1c1c" stroke-width="0.13">Translation</text>
<text x="618.1" y="66" font-size="7.1" font-weight="normal" font-style="normal" fill="#222" text-anchor="start" textLength="3.16" lengthAdjust="spacingAndGlyphs" >3</text>
<text transform="translate(620.18,58.3) rotate(-45)" font-size="6.1" fill="#1c1c1c" stroke="#1c1c1c" stroke-width="0.13">Translation-RNAs</text>
<text x="626.76" y="66" font-size="7.1" font-weight="normal" font-style="normal" fill="#222" text-anchor="start" textLength="6.32" lengthAdjust="spacingAndGlyphs" >13</text>
<text transform="translate(630.42,58.3) rotate(-45)" font-size="6.1" fill="#1c1c1c" stroke="#1c1c1c" stroke-width="0.13">Aa-tRNA synthetase</text>
<text x="637" y="66" font-size="7.1" font-weight="normal" font-style="normal" fill="#222" text-anchor="start" textLength="6.32" lengthAdjust="spacingAndGlyphs" >49</text>
<text transform="translate(640.66,58.3) rotate(-45)" font-size="6.1" fill="#1c1c1c" stroke="#1c1c1c" stroke-width="0.13">Ribosomal proteins</text>
<text x="648.82" y="66" font-size="7.1" font-weight="normal" font-style="normal" fill="#222" text-anchor="start" textLength="3.16" lengthAdjust="spacingAndGlyphs" >7</text>
<text transform="translate(650.9,58.3) rotate(-45)" font-size="6.1" fill="#1c1c1c" stroke="#1c1c1c" stroke-width="0.13">Protein F&amp;D</text>
<text x="660.74" y="66" font-size="7.1" font-weight="normal" font-style="normal" fill="#222" text-anchor="start" textLength="6.32" lengthAdjust="spacingAndGlyphs" >13</text>
<text transform="translate(664.4,58.3) rotate(-45)" font-size="6.1" fill="#1c1c1c" stroke="#1c1c1c" stroke-width="0.13">Metabolism</text>
<text x="290.4" y="455.6" font-size="4.5" fill="#222" textLength="45.4" lengthAdjust="spacingAndGlyphs">0  25  50  75 100 125 150 [kb]</text>
<text x="463.6" y="455.6" font-size="4.5" fill="#222" textLength="38" lengthAdjust="spacingAndGlyphs">0  25  50  75 100 125[kb]</text>
<defs><linearGradient id="gg" x1="0" x2="1" y1="0" y2="0"><stop offset="0.0" stop-color="#f7fcf5"/><stop offset="0.125" stop-color="#e5f5e0"/><stop offset="0.25" stop-color="#c7e9c0"/><stop offset="0.375" stop-color="#a1d99b"/><stop offset="0.5" stop-color="#74c476"/><stop offset="0.625" stop-color="#41ab5d"/><stop offset="0.75" stop-color="#238b45"/><stop offset="0.875" stop-color="#006d2c"/><stop offset="1.0" stop-color="#00441b"/></linearGradient>
<linearGradient id="rg" x1="0" x2="1" y1="0" y2="0"><stop offset="0.0" stop-color="#fff5f0"/><stop offset="0.125" stop-color="#fee0d2"/><stop offset="0.25" stop-color="#fcbba1"/><stop offset="0.375" stop-color="#fc9272"/><stop offset="0.5" stop-color="#fb6a4a"/><stop offset="0.625" stop-color="#ef3b2c"/><stop offset="0.75" stop-color="#cb181d"/><stop offset="0.875" stop-color="#a50f15"/><stop offset="1.0" stop-color="#67000d"/></linearGradient></defs>
<rect x="371.5" y="453.3" width="48.5" height="5.6" rx="1" fill="url(#gg)"/>
<text x="367.5" y="459.2" font-size="7" font-weight="normal" font-style="normal" fill="#222" text-anchor="start" >0</text>
<text x="421" y="459.2" font-size="7" font-weight="normal" font-style="normal" fill="#222" text-anchor="start" textLength="17.3" lengthAdjust="spacingAndGlyphs" >100%</text>
<rect x="549" y="454.1" width="49.7" height="5.9" rx="1" fill="url(#rg)"/>
<text x="544.5" y="460.3" font-size="7" font-weight="normal" font-style="normal" fill="#222" text-anchor="start" >0</text>
<text x="600.4" y="460.3" font-size="7" font-weight="normal" font-style="normal" fill="#222" text-anchor="start" textLength="18.5" lengthAdjust="spacingAndGlyphs" >100%</text>
<g>
<line x1="339" y1="450.41" x2="295.35" y2="479" stroke="#4a9a3a" stroke-width="0.6"/>
<line x1="349" y1="450.41" x2="308.49" y2="479" stroke="#4a9a3a" stroke-width="0.6"/>
<line x1="359" y1="450.41" x2="321.63" y2="479" stroke="#4a9a3a" stroke-width="0.6"/>
<line x1="372" y1="450.41" x2="334.77" y2="479" stroke="#4a9a3a" stroke-width="0.6"/>
<line x1="382" y1="450.41" x2="347.91" y2="479" stroke="#4a9a3a" stroke-width="0.6"/>
<line x1="392" y1="450.41" x2="361.05" y2="479" stroke="#4a9a3a" stroke-width="0.6"/>
<line x1="402" y1="450.41" x2="374.19" y2="479" stroke="#4a9a3a" stroke-width="0.6"/>
<line x1="412" y1="450.41" x2="387.33" y2="479" stroke="#4a9a3a" stroke-width="0.6"/>
<line x1="422" y1="450.41" x2="400.47" y2="479" stroke="#4a9a3a" stroke-width="0.6"/>
<line x1="432" y1="450.41" x2="413.61" y2="479" stroke="#4a9a3a" stroke-width="0.6"/>
<line x1="442" y1="450.41" x2="426.75" y2="479" stroke="#4a9a3a" stroke-width="0.6"/>
<line x1="455.3" y1="450.41" x2="439.89" y2="479" stroke="#4a9a3a" stroke-width="0.6"/>
<rect x="289.1" y="479.3" width="12.5" height="15.3" fill="#fff" stroke="#cfcfcf" stroke-width="0.4"/>
<path d="M289.1,494.6 L289.1,479.3 L301.6,479.3 L301.6,494.6 Z" fill="#0d850d"/>
<line x1="290.89" y1="494.6" x2="290.89" y2="479.3" stroke="#064f06" stroke-width="0.35" opacity="0.55"/>
<line x1="292.67" y1="494.6" x2="292.67" y2="479.3" stroke="#064f06" stroke-width="0.35" opacity="0.55"/>
<line x1="294.46" y1="494.6" x2="294.46" y2="479.3" stroke="#064f06" stroke-width="0.35" opacity="0.55"/>
<line x1="296.24" y1="494.6" x2="296.24" y2="479.3" stroke="#064f06" stroke-width="0.35" opacity="0.55"/>
<line x1="298.03" y1="494.6" x2="298.03" y2="479.3" stroke="#064f06" stroke-width="0.35" opacity="0.55"/>
<line x1="299.81" y1="494.6" x2="299.81" y2="479.3" stroke="#064f06" stroke-width="0.35" opacity="0.55"/>
<rect x="302.24" y="479.3" width="12.5" height="15.3" fill="#fff" stroke="#cfcfcf" stroke-width="0.4"/>
<path d="M302.24,494.6 L302.24,479.3 L314.74,479.3 L314.74,494.6 Z" fill="#0d850d"/>
<line x1="304.03" y1="494.6" x2="304.03" y2="479.3" stroke="#064f06" stroke-width="0.35" opacity="0.55"/>
<line x1="305.81" y1="494.6" x2="305.81" y2="479.3" stroke="#064f06" stroke-width="0.35" opacity="0.55"/>
<line x1="307.6" y1="494.6" x2="307.6" y2="479.3" stroke="#064f06" stroke-width="0.35" opacity="0.55"/>
<line x1="309.38" y1="494.6" x2="309.38" y2="479.3" stroke="#064f06" stroke-width="0.35" opacity="0.55"/>
<line x1="311.17" y1="494.6" x2="311.17" y2="479.3" stroke="#064f06" stroke-width="0.35" opacity="0.55"/>
<line x1="312.95" y1="494.6" x2="312.95" y2="479.3" stroke="#064f06" stroke-width="0.35" opacity="0.55"/>
<rect x="315.38" y="479.3" width="12.5" height="15.3" fill="#fff" stroke="#cfcfcf" stroke-width="0.4"/>
<path d="M315.38,494.6 L315.38,493.53 L327.88,493.53 L327.88,494.6 Z" fill="#0d850d"/>
<line x1="317.17" y1="494.6" x2="317.17" y2="493.53" stroke="#064f06" stroke-width="0.35" opacity="0.55"/>
<line x1="318.95" y1="494.6" x2="318.95" y2="493.53" stroke="#064f06" stroke-width="0.35" opacity="0.55"/>
<line x1="320.74" y1="494.6" x2="320.74" y2="493.53" stroke="#064f06" stroke-width="0.35" opacity="0.55"/>
<line x1="322.52" y1="494.6" x2="322.52" y2="493.53" stroke="#064f06" stroke-width="0.35" opacity="0.55"/>
<line x1="324.31" y1="494.6" x2="324.31" y2="493.53" stroke="#064f06" stroke-width="0.35" opacity="0.55"/>
<line x1="326.09" y1="494.6" x2="326.09" y2="493.53" stroke="#064f06" stroke-width="0.35" opacity="0.55"/>
<rect x="328.52" y="479.3" width="12.5" height="15.3" fill="#fff" stroke="#cfcfcf" stroke-width="0.4"/>
<path d="M328.52,494.6 L328.52,479.3 L336.65,479.3 L336.65,483.89 L339.15,483.89 L339.15,488.48 L340.02,488.48 L340.02,492.31 L341.02,492.31 L341.02,494.6 Z" fill="#0d850d"/>
<line x1="330.31" y1="494.6" x2="330.31" y2="479.3" stroke="#064f06" stroke-width="0.35" opacity="0.55"/>
<line x1="332.09" y1="494.6" x2="332.09" y2="479.3" stroke="#064f06" stroke-width="0.35" opacity="0.55"/>
<line x1="333.88" y1="494.6" x2="333.88" y2="479.3" stroke="#064f06" stroke-width="0.35" opacity="0.55"/>
<line x1="335.66" y1="494.6" x2="335.66" y2="479.3" stroke="#064f06" stroke-width="0.35" opacity="0.55"/>
<line x1="337.45" y1="494.6" x2="337.45" y2="483.89" stroke="#064f06" stroke-width="0.35" opacity="0.55"/>
<line x1="339.23" y1="494.6" x2="339.23" y2="488.48" stroke="#064f06" stroke-width="0.35" opacity="0.55"/>
<rect x="341.66" y="479.3" width="12.5" height="15.3" fill="#fff" stroke="#cfcfcf" stroke-width="0.4"/>
<path d="M341.66,494.6 L341.66,479.3 L354.16,479.3 L354.16,494.6 Z" fill="#0d850d"/>
<line x1="343.45" y1="494.6" x2="343.45" y2="479.3" stroke="#064f06" stroke-width="0.35" opacity="0.55"/>
<line x1="345.23" y1="494.6" x2="345.23" y2="479.3" stroke="#064f06" stroke-width="0.35" opacity="0.55"/>
<line x1="347.02" y1="494.6" x2="347.02" y2="479.3" stroke="#064f06" stroke-width="0.35" opacity="0.55"/>
<line x1="348.8" y1="494.6" x2="348.8" y2="479.3" stroke="#064f06" stroke-width="0.35" opacity="0.55"/>
<line x1="350.59" y1="494.6" x2="350.59" y2="479.3" stroke="#064f06" stroke-width="0.35" opacity="0.55"/>
<line x1="352.37" y1="494.6" x2="352.37" y2="479.3" stroke="#064f06" stroke-width="0.35" opacity="0.55"/>
<rect x="354.8" y="479.3" width="12.5" height="15.3" fill="#fff" stroke="#cfcfcf" stroke-width="0.4"/>
<path d="M354.8,494.6 L354.8,479.3 L361.68,479.3 L361.68,480.37 L363.55,480.37 L363.55,482.05 L364.8,482.05 L364.8,485.11 L366.05,485.11 L366.05,489.55 L367.3,489.55 L367.3,494.6 Z" fill="#0d850d"/>
<line x1="356.59" y1="494.6" x2="356.59" y2="479.3" stroke="#064f06" stroke-width="0.35" opacity="0.55"/>
<line x1="358.37" y1="494.6" x2="358.37" y2="479.3" stroke="#064f06" stroke-width="0.35" opacity="0.55"/>
<line x1="360.16" y1="494.6" x2="360.16" y2="479.3" stroke="#064f06" stroke-width="0.35" opacity="0.55"/>
<line x1="361.94" y1="494.6" x2="361.94" y2="480.37" stroke="#064f06" stroke-width="0.35" opacity="0.55"/>
<line x1="363.73" y1="494.6" x2="363.73" y2="482.05" stroke="#064f06" stroke-width="0.35" opacity="0.55"/>
<line x1="365.51" y1="494.6" x2="365.51" y2="485.11" stroke="#064f06" stroke-width="0.35" opacity="0.55"/>
<rect x="367.94" y="479.3" width="12.5" height="15.3" fill="#fff" stroke="#cfcfcf" stroke-width="0.4"/>
<path d="M367.94,494.6 L367.94,479.3 L374.82,479.3 L374.82,480.37 L377.32,480.37 L377.32,482.67 L378.57,482.67 L378.57,486.64 L379.69,486.64 L379.69,490.93 L380.44,490.93 L380.44,494.6 Z" fill="#0b640b"/>
<line x1="369.73" y1="494.6" x2="369.73" y2="479.3" stroke="#043804" stroke-width="0.35" opacity="0.55"/>
<line x1="371.51" y1="494.6" x2="371.51" y2="479.3" stroke="#043804" stroke-width="0.35" opacity="0.55"/>
<line x1="373.3" y1="494.6" x2="373.3" y2="479.3" stroke="#043804" stroke-width="0.35" opacity="0.55"/>
<line x1="375.08" y1="494.6" x2="375.08" y2="480.37" stroke="#043804" stroke-width="0.35" opacity="0.55"/>
<line x1="376.87" y1="494.6" x2="376.87" y2="480.37" stroke="#043804" stroke-width="0.35" opacity="0.55"/>
<line x1="378.65" y1="494.6" x2="378.65" y2="486.64" stroke="#043804" stroke-width="0.35" opacity="0.55"/>
<rect x="381.08" y="479.3" width="12.5" height="15.3" fill="#fff" stroke="#cfcfcf" stroke-width="0.4"/>
<path d="M381.08,494.6 L381.08,479.3 L392.08,479.3 L392.08,480.83 L393.58,480.83 L393.58,494.6 Z" fill="#0d850d"/>
<line x1="382.87" y1="494.6" x2="382.87" y2="479.3" stroke="#064f06" stroke-width="0.35" opacity="0.55"/>
<line x1="384.65" y1="494.6" x2="384.65" y2="479.3" stroke="#064f06" stroke-width="0.35" opacity="0.55"/>
<line x1="386.44" y1="494.6" x2="386.44" y2="479.3" stroke="#064f06" stroke-width="0.35" opacity="0.55"/>
<line x1="388.22" y1="494.6" x2="388.22" y2="479.3" stroke="#064f06" stroke-width="0.35" opacity="0.55"/>
<line x1="390.01" y1="494.6" x2="390.01" y2="479.3" stroke="#064f06" stroke-width="0.35" opacity="0.55"/>
<line x1="391.79" y1="494.6" x2="391.79" y2="479.3" stroke="#064f06" stroke-width="0.35" opacity="0.55"/>
<rect x="394.22" y="479.3" width="12.5" height="15.3" fill="#fff" stroke="#cfcfcf" stroke-width="0.4"/>
<path d="M394.22,494.6 L394.22,479.3 L399.85,479.3 L399.85,480.83 L401.1,480.83 L401.1,484.66 L401.97,484.66 L401.97,491.54 L403.6,491.54 L403.6,493.38 L406.72,493.38 L406.72,494.6 Z" fill="#0d850d"/>
<line x1="396.01" y1="494.6" x2="396.01" y2="479.3" stroke="#064f06" stroke-width="0.35" opacity="0.55"/>
<line x1="397.79" y1="494.6" x2="397.79" y2="479.3" stroke="#064f06" stroke-width="0.35" opacity="0.55"/>
<line x1="399.58" y1="494.6" x2="399.58" y2="479.3" stroke="#064f06" stroke-width="0.35" opacity="0.55"/>
<line x1="401.36" y1="494.6" x2="401.36" y2="484.66" stroke="#064f06" stroke-width="0.35" opacity="0.55"/>
<line x1="403.15" y1="494.6" x2="403.15" y2="491.54" stroke="#064f06" stroke-width="0.35" opacity="0.55"/>
<line x1="404.93" y1="494.6" x2="404.93" y2="493.38" stroke="#064f06" stroke-width="0.35" opacity="0.55"/>
<rect x="407.36" y="479.3" width="12.5" height="15.3" fill="#fff" stroke="#cfcfcf" stroke-width="0.4"/>
<path d="M407.36,494.6 L407.36,479.3 L419.86,479.3 L419.86,494.6 Z" fill="#0b640b"/>
<line x1="409.15" y1="494.6" x2="409.15" y2="479.3" stroke="#043804" stroke-width="0.35" opacity="0.55"/>
<line x1="410.93" y1="494.6" x2="410.93" y2="479.3" stroke="#043804" stroke-width="0.35" opacity="0.55"/>
<line x1="412.72" y1="494.6" x2="412.72" y2="479.3" stroke="#043804" stroke-width="0.35" opacity="0.55"/>
<line x1="414.5" y1="494.6" x2="414.5" y2="479.3" stroke="#043804" stroke-width="0.35" opacity="0.55"/>
<line x1="416.29" y1="494.6" x2="416.29" y2="479.3" stroke="#043804" stroke-width="0.35" opacity="0.55"/>
<line x1="418.07" y1="494.6" x2="418.07" y2="479.3" stroke="#043804" stroke-width="0.35" opacity="0.55"/>
<rect x="420.5" y="479.3" width="12.5" height="15.3" fill="#fff" stroke="#cfcfcf" stroke-width="0.4"/>
<path d="M420.5,494.6 L420.5,479.3 L433,479.3 L433,494.6 Z" fill="#0d850d"/>
<line x1="422.29" y1="494.6" x2="422.29" y2="479.3" stroke="#064f06" stroke-width="0.35" opacity="0.55"/>
<line x1="424.07" y1="494.6" x2="424.07" y2="479.3" stroke="#064f06" stroke-width="0.35" opacity="0.55"/>
<line x1="425.86" y1="494.6" x2="425.86" y2="479.3" stroke="#064f06" stroke-width="0.35" opacity="0.55"/>
<line x1="427.64" y1="494.6" x2="427.64" y2="479.3" stroke="#064f06" stroke-width="0.35" opacity="0.55"/>
<line x1="429.43" y1="494.6" x2="429.43" y2="479.3" stroke="#064f06" stroke-width="0.35" opacity="0.55"/>
<line x1="431.21" y1="494.6" x2="431.21" y2="479.3" stroke="#064f06" stroke-width="0.35" opacity="0.55"/>
<rect x="433.64" y="479.3" width="12.5" height="15.3" fill="#fff" stroke="#cfcfcf" stroke-width="0.4"/>
<path d="M433.64,494.6 L433.64,479.3 L440.52,479.3 L440.52,480.83 L442.39,480.83 L442.39,484.66 L444.27,484.66 L444.27,490.01 L445.52,490.01 L445.52,493.07 L446.14,493.07 L446.14,494.6 Z" fill="#0d850d"/>
<line x1="435.43" y1="494.6" x2="435.43" y2="479.3" stroke="#064f06" stroke-width="0.35" opacity="0.55"/>
<line x1="437.21" y1="494.6" x2="437.21" y2="479.3" stroke="#064f06" stroke-width="0.35" opacity="0.55"/>
<line x1="439" y1="494.6" x2="439" y2="479.3" stroke="#064f06" stroke-width="0.35" opacity="0.55"/>
<line x1="440.78" y1="494.6" x2="440.78" y2="480.83" stroke="#064f06" stroke-width="0.35" opacity="0.55"/>
<line x1="442.57" y1="494.6" x2="442.57" y2="484.66" stroke="#064f06" stroke-width="0.35" opacity="0.55"/>
<line x1="444.35" y1="494.6" x2="444.35" y2="490.01" stroke="#064f06" stroke-width="0.35" opacity="0.55"/>
<line x1="503.94" y1="450.41" x2="466.9" y2="477.9" stroke="#d8342c" stroke-width="0.6"/>
<line x1="514.21" y1="450.41" x2="480.85" y2="477.9" stroke="#d8342c" stroke-width="0.6"/>
<line x1="524.48" y1="450.41" x2="494.8" y2="477.9" stroke="#d8342c" stroke-width="0.6"/>
<line x1="534.75" y1="450.41" x2="508.75" y2="477.9" stroke="#d8342c" stroke-width="0.6"/>
<line x1="545.01" y1="450.41" x2="522.7" y2="477.9" stroke="#d8342c" stroke-width="0.6"/>
<line x1="555.28" y1="450.41" x2="536.65" y2="477.9" stroke="#d8342c" stroke-width="0.6"/>
<line x1="565.55" y1="450.41" x2="550.6" y2="477.9" stroke="#d8342c" stroke-width="0.6"/>
<line x1="578.72" y1="450.41" x2="564.55" y2="477.9" stroke="#d8342c" stroke-width="0.6"/>
<line x1="588.96" y1="450.41" x2="578.5" y2="477.9" stroke="#d8342c" stroke-width="0.6"/>
<line x1="599.2" y1="450.41" x2="592.45" y2="477.9" stroke="#d8342c" stroke-width="0.6"/>
<line x1="609.44" y1="450.41" x2="606.4" y2="477.9" stroke="#d8342c" stroke-width="0.6"/>
<line x1="619.68" y1="450.41" x2="620.35" y2="477.9" stroke="#d8342c" stroke-width="0.6"/>
<line x1="629.92" y1="450.41" x2="634.3" y2="477.9" stroke="#d8342c" stroke-width="0.6"/>
<line x1="640.16" y1="450.41" x2="648.25" y2="477.9" stroke="#d8342c" stroke-width="0.6"/>
<line x1="650.4" y1="450.41" x2="662.2" y2="477.9" stroke="#d8342c" stroke-width="0.6"/>
<line x1="663.9" y1="450.41" x2="676.15" y2="477.9" stroke="#d8342c" stroke-width="0.6"/>
<rect x="460.6" y="478.2" width="12.6" height="16.3" fill="#fff" stroke="#cfcfcf" stroke-width="0.4"/>
<path d="M460.6,494.5 L460.6,480.81 L473.2,480.81 L473.2,494.5 Z" fill="#a60606"/>
<line x1="462.4" y1="494.5" x2="462.4" y2="480.81" stroke="#5c0000" stroke-width="0.35" opacity="0.55"/>
<line x1="464.2" y1="494.5" x2="464.2" y2="480.81" stroke="#5c0000" stroke-width="0.35" opacity="0.55"/>
<line x1="466" y1="494.5" x2="466" y2="480.81" stroke="#5c0000" stroke-width="0.35" opacity="0.55"/>
<line x1="467.8" y1="494.5" x2="467.8" y2="480.81" stroke="#5c0000" stroke-width="0.35" opacity="0.55"/>
<line x1="469.6" y1="494.5" x2="469.6" y2="480.81" stroke="#5c0000" stroke-width="0.35" opacity="0.55"/>
<line x1="471.4" y1="494.5" x2="471.4" y2="480.81" stroke="#5c0000" stroke-width="0.35" opacity="0.55"/>
<rect x="474.55" y="478.2" width="12.6" height="16.3" fill="#fff" stroke="#cfcfcf" stroke-width="0.4"/>
<path d="M474.55,494.5 L474.55,479.67 L487.15,479.67 L487.15,494.5 Z" fill="#a60606"/>
<line x1="476.35" y1="494.5" x2="476.35" y2="479.67" stroke="#5c0000" stroke-width="0.35" opacity="0.55"/>
<line x1="478.15" y1="494.5" x2="478.15" y2="479.67" stroke="#5c0000" stroke-width="0.35" opacity="0.55"/>
<line x1="479.95" y1="494.5" x2="479.95" y2="479.67" stroke="#5c0000" stroke-width="0.35" opacity="0.55"/>
<line x1="481.75" y1="494.5" x2="481.75" y2="479.67" stroke="#5c0000" stroke-width="0.35" opacity="0.55"/>
<line x1="483.55" y1="494.5" x2="483.55" y2="479.67" stroke="#5c0000" stroke-width="0.35" opacity="0.55"/>
<line x1="485.35" y1="494.5" x2="485.35" y2="479.67" stroke="#5c0000" stroke-width="0.35" opacity="0.55"/>
<rect x="488.5" y="478.2" width="12.6" height="16.3" fill="#fff" stroke="#cfcfcf" stroke-width="0.4"/>
<path d="M488.5,494.5 L488.5,479.01 L496.69,479.01 L496.69,481.46 L498.96,481.46 L498.96,487.49 L501.1,487.49 L501.1,494.5 Z" fill="#a60606"/>
<line x1="490.3" y1="494.5" x2="490.3" y2="479.01" stroke="#5c0000" stroke-width="0.35" opacity="0.55"/>
<line x1="492.1" y1="494.5" x2="492.1" y2="479.01" stroke="#5c0000" stroke-width="0.35" opacity="0.55"/>
<line x1="493.9" y1="494.5" x2="493.9" y2="479.01" stroke="#5c0000" stroke-width="0.35" opacity="0.55"/>
<line x1="495.7" y1="494.5" x2="495.7" y2="479.01" stroke="#5c0000" stroke-width="0.35" opacity="0.55"/>
<line x1="497.5" y1="494.5" x2="497.5" y2="481.46" stroke="#5c0000" stroke-width="0.35" opacity="0.55"/>
<line x1="499.3" y1="494.5" x2="499.3" y2="487.49" stroke="#5c0000" stroke-width="0.35" opacity="0.55"/>
<rect x="502.45" y="478.2" width="12.6" height="16.3" fill="#fff" stroke="#cfcfcf" stroke-width="0.4"/>
<path d="M502.45,494.5 L502.45,480.81 L515.05,480.81 L515.05,494.5 Z" fill="#a60606"/>
<line x1="504.25" y1="494.5" x2="504.25" y2="480.81" stroke="#5c0000" stroke-width="0.35" opacity="0.55"/>
<line x1="506.05" y1="494.5" x2="506.05" y2="480.81" stroke="#5c0000" stroke-width="0.35" opacity="0.55"/>
<line x1="507.85" y1="494.5" x2="507.85" y2="480.81" stroke="#5c0000" stroke-width="0.35" opacity="0.55"/>
<line x1="509.65" y1="494.5" x2="509.65" y2="480.81" stroke="#5c0000" stroke-width="0.35" opacity="0.55"/>
<line x1="511.45" y1="494.5" x2="511.45" y2="480.81" stroke="#5c0000" stroke-width="0.35" opacity="0.55"/>
<line x1="513.25" y1="494.5" x2="513.25" y2="480.81" stroke="#5c0000" stroke-width="0.35" opacity="0.55"/>
<rect x="516.4" y="478.2" width="12.6" height="16.3" fill="#fff" stroke="#cfcfcf" stroke-width="0.4"/>
<path d="M516.4,494.5 L516.4,478.2 L526.48,478.2 L526.48,490.1 L529,490.1 L529,494.5 Z" fill="#a60606"/>
<line x1="518.2" y1="494.5" x2="518.2" y2="478.2" stroke="#5c0000" stroke-width="0.35" opacity="0.55"/>
<line x1="520" y1="494.5" x2="520" y2="478.2" stroke="#5c0000" stroke-width="0.35" opacity="0.55"/>
<line x1="521.8" y1="494.5" x2="521.8" y2="478.2" stroke="#5c0000" stroke-width="0.35" opacity="0.55"/>
<line x1="523.6" y1="494.5" x2="523.6" y2="478.2" stroke="#5c0000" stroke-width="0.35" opacity="0.55"/>
<line x1="525.4" y1="494.5" x2="525.4" y2="478.2" stroke="#5c0000" stroke-width="0.35" opacity="0.55"/>
<line x1="527.2" y1="494.5" x2="527.2" y2="490.1" stroke="#5c0000" stroke-width="0.35" opacity="0.55"/>
<rect x="530.35" y="478.2" width="12.6" height="16.3" fill="#fff" stroke="#cfcfcf" stroke-width="0.4"/>
<path d="M530.35,494.5 L530.35,481.46 L533.75,481.46 L533.75,480.16 L542.95,480.16 L542.95,494.5 Z" fill="#a60606"/>
<line x1="532.15" y1="494.5" x2="532.15" y2="481.46" stroke="#5c0000" stroke-width="0.35" opacity="0.55"/>
<line x1="533.95" y1="494.5" x2="533.95" y2="480.16" stroke="#5c0000" stroke-width="0.35" opacity="0.55"/>
<line x1="535.75" y1="494.5" x2="535.75" y2="480.16" stroke="#5c0000" stroke-width="0.35" opacity="0.55"/>
<line x1="537.55" y1="494.5" x2="537.55" y2="480.16" stroke="#5c0000" stroke-width="0.35" opacity="0.55"/>
<line x1="539.35" y1="494.5" x2="539.35" y2="480.16" stroke="#5c0000" stroke-width="0.35" opacity="0.55"/>
<line x1="541.15" y1="494.5" x2="541.15" y2="480.16" stroke="#5c0000" stroke-width="0.35" opacity="0.55"/>
<rect x="544.3" y="478.2" width="12.6" height="16.3" fill="#fff" stroke="#cfcfcf" stroke-width="0.4"/>
<path d="M544.3,494.5 L544.3,481.46 L547.7,481.46 L547.7,482.27 L556.9,482.27 L556.9,494.5 Z" fill="#a60606"/>
<line x1="546.1" y1="494.5" x2="546.1" y2="481.46" stroke="#5c0000" stroke-width="0.35" opacity="0.55"/>
<line x1="547.9" y1="494.5" x2="547.9" y2="482.27" stroke="#5c0000" stroke-width="0.35" opacity="0.55"/>
<line x1="549.7" y1="494.5" x2="549.7" y2="482.27" stroke="#5c0000" stroke-width="0.35" opacity="0.55"/>
<line x1="551.5" y1="494.5" x2="551.5" y2="482.27" stroke="#5c0000" stroke-width="0.35" opacity="0.55"/>
<line x1="553.3" y1="494.5" x2="553.3" y2="482.27" stroke="#5c0000" stroke-width="0.35" opacity="0.55"/>
<line x1="555.1" y1="494.5" x2="555.1" y2="482.27" stroke="#5c0000" stroke-width="0.35" opacity="0.55"/>
<rect x="558.25" y="478.2" width="12.6" height="16.3" fill="#fff" stroke="#cfcfcf" stroke-width="0.4"/>
<path d="M558.25,494.5 L558.25,478.2 L561.78,478.2 L561.78,479.67 L564.55,479.67 L564.55,482.27 L565.81,482.27 L565.81,487.49 L568.08,487.49 L568.08,492.87 L570.85,492.87 L570.85,494.5 Z" fill="#a60606"/>
<line x1="560.05" y1="494.5" x2="560.05" y2="478.2" stroke="#5c0000" stroke-width="0.35" opacity="0.55"/>
<line x1="561.85" y1="494.5" x2="561.85" y2="479.67" stroke="#5c0000" stroke-width="0.35" opacity="0.55"/>
<line x1="563.65" y1="494.5" x2="563.65" y2="479.67" stroke="#5c0000" stroke-width="0.35" opacity="0.55"/>
<line x1="565.45" y1="494.5" x2="565.45" y2="482.27" stroke="#5c0000" stroke-width="0.35" opacity="0.55"/>
<line x1="567.25" y1="494.5" x2="567.25" y2="487.49" stroke="#5c0000" stroke-width="0.35" opacity="0.55"/>
<line x1="569.05" y1="494.5" x2="569.05" y2="492.87" stroke="#5c0000" stroke-width="0.35" opacity="0.55"/>
<rect x="572.2" y="478.2" width="12.6" height="16.3" fill="#fff" stroke="#cfcfcf" stroke-width="0.4"/>
<path d="M572.2,494.5 L572.2,478.2 L582.15,478.2 L582.15,491.24 L584.8,491.24 L584.8,494.5 Z" fill="#a60606"/>
<line x1="574" y1="494.5" x2="574" y2="478.2" stroke="#5c0000" stroke-width="0.35" opacity="0.55"/>
<line x1="575.8" y1="494.5" x2="575.8" y2="478.2" stroke="#5c0000" stroke-width="0.35" opacity="0.55"/>
<line x1="577.6" y1="494.5" x2="577.6" y2="478.2" stroke="#5c0000" stroke-width="0.35" opacity="0.55"/>
<line x1="579.4" y1="494.5" x2="579.4" y2="478.2" stroke="#5c0000" stroke-width="0.35" opacity="0.55"/>
<line x1="581.2" y1="494.5" x2="581.2" y2="478.2" stroke="#5c0000" stroke-width="0.35" opacity="0.55"/>
<line x1="583" y1="494.5" x2="583" y2="491.24" stroke="#5c0000" stroke-width="0.35" opacity="0.55"/>
<rect x="586.15" y="478.2" width="12.6" height="16.3" fill="#fff" stroke="#cfcfcf" stroke-width="0.4"/>
<path d="M586.15,494.5 L586.15,478.69 L589.3,478.69 L589.3,479.83 L591.82,479.83 L591.82,482.27 L593.71,482.27 L593.71,485.53 L595.6,485.53 L595.6,488.8 L597.49,488.8 L597.49,492.87 L598.75,492.87 L598.75,494.5 Z" fill="#a60606"/>
<line x1="587.95" y1="494.5" x2="587.95" y2="478.69" stroke="#5c0000" stroke-width="0.35" opacity="0.55"/>
<line x1="589.75" y1="494.5" x2="589.75" y2="479.83" stroke="#5c0000" stroke-width="0.35" opacity="0.55"/>
<line x1="591.55" y1="494.5" x2="591.55" y2="479.83" stroke="#5c0000" stroke-width="0.35" opacity="0.55"/>
<line x1="593.35" y1="494.5" x2="593.35" y2="482.27" stroke="#5c0000" stroke-width="0.35" opacity="0.55"/>
<line x1="595.15" y1="494.5" x2="595.15" y2="485.53" stroke="#5c0000" stroke-width="0.35" opacity="0.55"/>
<line x1="596.95" y1="494.5" x2="596.95" y2="488.8" stroke="#5c0000" stroke-width="0.35" opacity="0.55"/>
<rect x="600.1" y="478.2" width="12.6" height="16.3" fill="#fff" stroke="#cfcfcf" stroke-width="0.4"/>
<path d="M600.1,494.5 L600.1,478.2 L603.88,478.2 L603.88,479.18 L605.77,479.18 L605.77,480.64 L607.03,480.64 L607.03,484.72 L608.29,484.72 L608.29,488.8 L610.18,488.8 L610.18,492.87 L612.7,492.87 L612.7,494.5 Z" fill="#860404"/>
<line x1="601.9" y1="494.5" x2="601.9" y2="478.2" stroke="#4a0000" stroke-width="0.35" opacity="0.55"/>
<line x1="603.7" y1="494.5" x2="603.7" y2="478.2" stroke="#4a0000" stroke-width="0.35" opacity="0.55"/>
<line x1="605.5" y1="494.5" x2="605.5" y2="479.18" stroke="#4a0000" stroke-width="0.35" opacity="0.55"/>
<line x1="607.3" y1="494.5" x2="607.3" y2="484.72" stroke="#4a0000" stroke-width="0.35" opacity="0.55"/>
<line x1="609.1" y1="494.5" x2="609.1" y2="488.8" stroke="#4a0000" stroke-width="0.35" opacity="0.55"/>
<line x1="610.9" y1="494.5" x2="610.9" y2="492.87" stroke="#4a0000" stroke-width="0.35" opacity="0.55"/>
<rect x="614.05" y="478.2" width="12.6" height="16.3" fill="#fff" stroke="#cfcfcf" stroke-width="0.4"/>
<path d="M614.05,494.5 L614.05,478.2 L624.76,478.2 L624.76,482.27 L626.65,482.27 L626.65,494.5 Z" fill="#a60606"/>
<line x1="615.85" y1="494.5" x2="615.85" y2="478.2" stroke="#5c0000" stroke-width="0.35" opacity="0.55"/>
<line x1="617.65" y1="494.5" x2="617.65" y2="478.2" stroke="#5c0000" stroke-width="0.35" opacity="0.55"/>
<line x1="619.45" y1="494.5" x2="619.45" y2="478.2" stroke="#5c0000" stroke-width="0.35" opacity="0.55"/>
<line x1="621.25" y1="494.5" x2="621.25" y2="478.2" stroke="#5c0000" stroke-width="0.35" opacity="0.55"/>
<line x1="623.05" y1="494.5" x2="623.05" y2="478.2" stroke="#5c0000" stroke-width="0.35" opacity="0.55"/>
<line x1="624.85" y1="494.5" x2="624.85" y2="482.27" stroke="#5c0000" stroke-width="0.35" opacity="0.55"/>
<rect x="628" y="478.2" width="12.6" height="16.3" fill="#fff" stroke="#cfcfcf" stroke-width="0.4"/>
<path d="M628,494.5 L628,480.64 L629.89,480.64 L629.89,482.27 L631.78,482.27 L631.78,484.72 L633.67,484.72 L633.67,487.17 L635.56,487.17 L635.56,490.43 L637.45,490.43 L637.45,492.54 L639.34,492.54 L639.34,493.69 L640.6,493.69 L640.6,494.5 Z" fill="#a60606"/>
<line x1="629.8" y1="494.5" x2="629.8" y2="480.64" stroke="#5c0000" stroke-width="0.35" opacity="0.55"/>
<line x1="631.6" y1="494.5" x2="631.6" y2="482.27" stroke="#5c0000" stroke-width="0.35" opacity="0.55"/>
<line x1="633.4" y1="494.5" x2="633.4" y2="484.72" stroke="#5c0000" stroke-width="0.35" opacity="0.55"/>
<line x1="635.2" y1="494.5" x2="635.2" y2="487.17" stroke="#5c0000" stroke-width="0.35" opacity="0.55"/>
<line x1="637" y1="494.5" x2="637" y2="490.43" stroke="#5c0000" stroke-width="0.35" opacity="0.55"/>
<line x1="638.8" y1="494.5" x2="638.8" y2="492.54" stroke="#5c0000" stroke-width="0.35" opacity="0.55"/>
<rect x="641.95" y="478.2" width="12.6" height="16.3" fill="#fff" stroke="#cfcfcf" stroke-width="0.4"/>
<path d="M641.95,494.5 L641.95,478.2 L649.51,478.2 L649.51,479.01 L651.4,479.01 L651.4,480.16 L653.29,480.16 L653.29,482.27 L654.55,482.27 L654.55,494.5 Z" fill="#6a0e0e"/>
<line x1="643.75" y1="494.5" x2="643.75" y2="478.2" stroke="#4a0505" stroke-width="0.35" opacity="0.55"/>
<line x1="645.55" y1="494.5" x2="645.55" y2="478.2" stroke="#4a0505" stroke-width="0.35" opacity="0.55"/>
<line x1="647.35" y1="494.5" x2="647.35" y2="478.2" stroke="#4a0505" stroke-width="0.35" opacity="0.55"/>
<line x1="649.15" y1="494.5" x2="649.15" y2="478.2" stroke="#4a0505" stroke-width="0.35" opacity="0.55"/>
<line x1="650.95" y1="494.5" x2="650.95" y2="479.01" stroke="#4a0505" stroke-width="0.35" opacity="0.55"/>
<line x1="652.75" y1="494.5" x2="652.75" y2="480.16" stroke="#4a0505" stroke-width="0.35" opacity="0.55"/>
<rect x="655.9" y="478.2" width="12.6" height="16.3" fill="#fff" stroke="#cfcfcf" stroke-width="0.4"/>
<path d="M655.9,494.5 L655.9,478.2 L663.46,478.2 L663.46,480.64 L665.98,480.64 L665.98,482.27 L668.5,482.27 L668.5,494.5 Z" fill="#a60606"/>
<line x1="657.7" y1="494.5" x2="657.7" y2="478.2" stroke="#5c0000" stroke-width="0.35" opacity="0.55"/>
<line x1="659.5" y1="494.5" x2="659.5" y2="478.2" stroke="#5c0000" stroke-width="0.35" opacity="0.55"/>
<line x1="661.3" y1="494.5" x2="661.3" y2="478.2" stroke="#5c0000" stroke-width="0.35" opacity="0.55"/>
<line x1="663.1" y1="494.5" x2="663.1" y2="478.2" stroke="#5c0000" stroke-width="0.35" opacity="0.55"/>
<line x1="664.9" y1="494.5" x2="664.9" y2="480.64" stroke="#5c0000" stroke-width="0.35" opacity="0.55"/>
<line x1="666.7" y1="494.5" x2="666.7" y2="482.27" stroke="#5c0000" stroke-width="0.35" opacity="0.55"/>
<rect x="669.85" y="478.2" width="12.6" height="16.3" fill="#fff" stroke="#cfcfcf" stroke-width="0.4"/>
<path d="M669.85,494.5 L669.85,478.69 L676.15,478.69 L676.15,480.64 L679.3,480.64 L679.3,486.35 L682.45,486.35 L682.45,494.5 Z" fill="#a60606"/>
<line x1="671.65" y1="494.5" x2="671.65" y2="478.69" stroke="#5c0000" stroke-width="0.35" opacity="0.55"/>
<line x1="673.45" y1="494.5" x2="673.45" y2="478.69" stroke="#5c0000" stroke-width="0.35" opacity="0.55"/>
<line x1="675.25" y1="494.5" x2="675.25" y2="478.69" stroke="#5c0000" stroke-width="0.35" opacity="0.55"/>
<line x1="677.05" y1="494.5" x2="677.05" y2="480.64" stroke="#5c0000" stroke-width="0.35" opacity="0.55"/>
<line x1="678.85" y1="494.5" x2="678.85" y2="480.64" stroke="#5c0000" stroke-width="0.35" opacity="0.55"/>
<line x1="680.65" y1="494.5" x2="680.65" y2="486.35" stroke="#5c0000" stroke-width="0.35" opacity="0.55"/>
</g>
<text x="288.3" y="480.1" font-size="2.2" fill="#333" text-anchor="end">100%</text>
<text x="288.3" y="483.22" font-size="2.2" fill="#333" text-anchor="end">80%</text>
<text x="288.3" y="486.34" font-size="2.2" fill="#333" text-anchor="end">60%</text>
<text x="288.3" y="489.46" font-size="2.2" fill="#333" text-anchor="end">40%</text>
<text x="288.3" y="492.58" font-size="2.2" fill="#333" text-anchor="end">20%</text>
<text x="288.3" y="495.7" font-size="2.2" fill="#333" text-anchor="end">0%</text>
<text x="459.7" y="479.1" font-size="2.2" fill="#333" text-anchor="end">100%</text>
<text x="459.7" y="482.36" font-size="2.2" fill="#333" text-anchor="end">80%</text>
<text x="459.7" y="485.62" font-size="2.2" fill="#333" text-anchor="end">60%</text>
<text x="459.7" y="488.88" font-size="2.2" fill="#333" text-anchor="end">40%</text>
<text x="459.7" y="492.14" font-size="2.2" fill="#333" text-anchor="end">20%</text>
<text x="459.7" y="495.4" font-size="2.2" fill="#333" text-anchor="end">0%</text>
</g></svg></body></html>
